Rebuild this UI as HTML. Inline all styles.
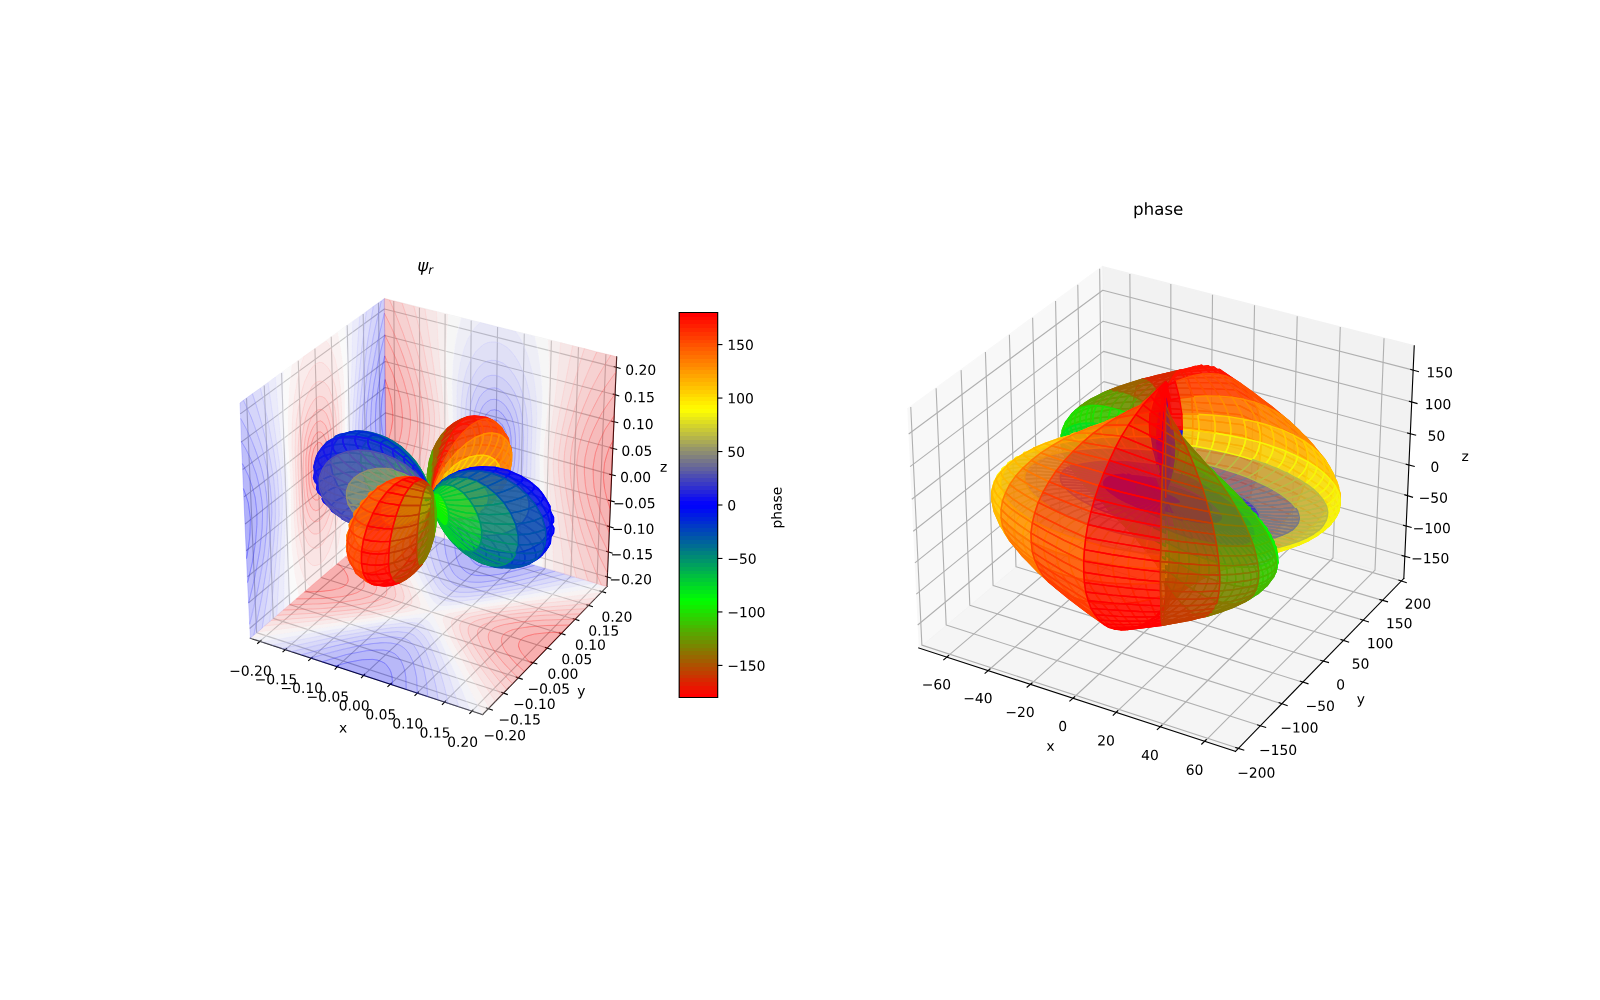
<!DOCTYPE html><html><head><meta charset="utf-8"><title>psi</title><style>html,body{margin:0;padding:0;background:#fff;overflow:hidden}svg{display:block;font-family:"Liberation Sans",sans-serif}</style></head><body><svg width="1600" height="1000" viewBox="0 0 4608 2880"><style>svg *{stroke-linejoin:round;stroke-linecap:butt}.c0{fill:#fff}.c1{fill:#f2f2f2;opacity:.5;stroke:#f2f2f2;stroke-linejoin:miter;stroke-width:4}.c2{fill:#e6e6e6;opacity:.5;stroke:#e6e6e6;stroke-linejoin:miter;stroke-width:4}.c3{fill:#ececec;opacity:.5;stroke:#ececec;stroke-linejoin:miter;stroke-width:4}.c4{fill:none;stroke:#b0b0b0;stroke-width:3.2}.c5{fill:none;stroke:#000;stroke-width:3.2;stroke-linecap:square}.c6{fill:#0e0eff;fill-opacity:.3;stroke:#0e0eff;stroke-opacity:.3;stroke-width:2}.c7{fill:#2a2aff;fill-opacity:.3;stroke:#2a2aff;stroke-opacity:.3;stroke-width:2}.c8{fill:#4646ff;fill-opacity:.3;stroke:#4646ff;stroke-opacity:.3;stroke-width:2}.c9{fill:#6262ff;fill-opacity:.3;stroke:#6262ff;stroke-opacity:.3;stroke-width:2}.c10{fill:#8080ff;fill-opacity:.3;stroke:#8080ff;stroke-opacity:.3;stroke-width:2}.c11{fill:#9c9cff;fill-opacity:.3;stroke:#9c9cff;stroke-opacity:.3;stroke-width:2}.c12{fill:#b8b8ff;fill-opacity:.3;stroke:#b8b8ff;stroke-opacity:.3;stroke-width:2}.c13{fill:#d4d4ff;fill-opacity:.3;stroke:#d4d4ff;stroke-opacity:.3;stroke-width:2}.c14{fill:#f0f0ff;fill-opacity:.3;stroke:#f0f0ff;stroke-opacity:.3;stroke-width:2}.c15{fill:#fff0f0;fill-opacity:.3;stroke:#fff0f0;stroke-opacity:.3;stroke-width:2}.c16{fill:#ffd4d4;fill-opacity:.3;stroke:#ffd4d4;stroke-opacity:.3;stroke-width:2}.c17{fill:#ffb8b8;fill-opacity:.3;stroke:#ffb8b8;stroke-opacity:.3;stroke-width:2}.c18{fill:#ff9c9c;fill-opacity:.3;stroke:#ff9c9c;stroke-opacity:.3;stroke-width:2}.c19{fill:#ff7e7e;fill-opacity:.3;stroke:#ff7e7e;stroke-opacity:.3;stroke-width:2}.c20{fill:#ff6262;fill-opacity:.3;stroke:#ff6262;stroke-opacity:.3;stroke-width:2}.c21{fill:#ff4646;fill-opacity:.3;stroke:#ff4646;stroke-opacity:.3;stroke-width:2}.c22{fill:#ff2a2a;fill-opacity:.3;stroke:#ff2a2a;stroke-opacity:.3;stroke-width:2}.c23{fill:#ff0e0e;fill-opacity:.3;stroke:#ff0e0e;stroke-opacity:.3;stroke-width:2}.c24{fill:#0c0cff;fill-opacity:.3;stroke:#0c0cff;stroke-opacity:.3;stroke-width:2}.c25{fill:#2424ff;fill-opacity:.3;stroke:#2424ff;stroke-opacity:.3;stroke-width:2}.c26{fill:#3c3cff;fill-opacity:.3;stroke:#3c3cff;stroke-opacity:.3;stroke-width:2}.c27{fill:#5454ff;fill-opacity:.3;stroke:#5454ff;stroke-opacity:.3;stroke-width:2}.c28{fill:#6c6cff;fill-opacity:.3;stroke:#6c6cff;stroke-opacity:.3;stroke-width:2}.c29{fill:#8686ff;fill-opacity:.3;stroke:#8686ff;stroke-opacity:.3;stroke-width:2}.c30{fill:#9e9eff;fill-opacity:.3;stroke:#9e9eff;stroke-opacity:.3;stroke-width:2}.c31{fill:#b6b6ff;fill-opacity:.3;stroke:#b6b6ff;stroke-opacity:.3;stroke-width:2}.c32{fill:#ceceff;fill-opacity:.3;stroke:#ceceff;stroke-opacity:.3;stroke-width:2}.c33{fill:#e6e6ff;fill-opacity:.3;stroke:#e6e6ff;stroke-opacity:.3;stroke-width:2}.c34{fill:#fffefe;fill-opacity:.3;stroke:#fffefe;stroke-opacity:.3;stroke-width:2}.c35{fill:#ffe6e6;fill-opacity:.3;stroke:#ffe6e6;stroke-opacity:.3;stroke-width:2}.c36{fill:#ffcece;fill-opacity:.3;stroke:#ffcece;stroke-opacity:.3;stroke-width:2}.c37{fill:#ffb6b6;fill-opacity:.3;stroke:#ffb6b6;stroke-opacity:.3;stroke-width:2}.c38{fill:#ff9e9e;fill-opacity:.3;stroke:#ff9e9e;stroke-opacity:.3;stroke-width:2}.c39{fill:#ff8686;fill-opacity:.3;stroke:#ff8686;stroke-opacity:.3;stroke-width:2}.c40{fill:#ff6c6c;fill-opacity:.3;stroke:#ff6c6c;stroke-opacity:.3;stroke-width:2}.c41{fill:#ff5454;fill-opacity:.3;stroke:#ff5454;stroke-opacity:.3;stroke-width:2}.c42{fill:#ff3c3c;fill-opacity:.3;stroke:#ff3c3c;stroke-opacity:.3;stroke-width:2}.c43{fill:#ff2424;fill-opacity:.3;stroke:#ff2424;stroke-opacity:.3;stroke-width:2}.c44{fill:#ff0c0c;fill-opacity:.3;stroke:#ff0c0c;stroke-opacity:.3;stroke-width:2}.c45{fill:#ff1400;fill-opacity:.7;stroke:#ff1400;stroke-width:4}.c46{fill:#d72800;fill-opacity:.7;stroke:#d72800;stroke-width:4}.c47{fill:#ff5000;fill-opacity:.7;stroke:#ff5000;stroke-width:4}.c48{fill:#9b6400;fill-opacity:.7;stroke:#9b6400;stroke-width:4}.c49{fill:#069;fill-opacity:.7;stroke:#069;stroke-width:4}.c50{fill:#002ad5;fill-opacity:.7;stroke:#002ad5;stroke-width:4}.c51{fill:#00a25d;fill-opacity:.7;stroke:#00a25d;stroke-width:4}.c52{fill:#ff8c00;fill-opacity:.7;stroke:#ff8c00;stroke-width:4}.c53{fill:#1616e9;fill-opacity:.7;stroke:#1616e9;stroke-width:4}.c54{fill:#5fa000;fill-opacity:.7;stroke:#5fa000;stroke-width:4}.c55{fill:#00e21d;fill-opacity:.7;stroke:#00e21d;stroke-width:4}.c56{fill:#fc0;fill-opacity:.7;stroke:#fc0;stroke-width:4}.c57{fill:#5252ad;fill-opacity:.7;stroke:#5252ad;stroke-width:4}.c58{fill:#1fe000;fill-opacity:.7;stroke:#1fe000;stroke-width:4}.c59{fill:#8e8e71;fill-opacity:.7;stroke:#8e8e71;stroke-width:4}.c60{fill:#7a7a85;fill-opacity:.7;stroke:#7a7a85;stroke-width:4}.c61{fill:#3e3ec1;fill-opacity:.7;stroke:#3e3ec1;stroke-width:4}.c62{fill:#f6f609;fill-opacity:.7;stroke:#f6f609;stroke-width:4}.c63{fill:#0202fd;fill-opacity:.7;stroke:#0202fd;stroke-width:4}.c64{fill:#baba45;fill-opacity:.7;stroke:#baba45;stroke-width:4}.c65{fill:#0016e9;fill-opacity:.7;stroke:#0016e9;stroke-width:4}.c66{fill:#0052ad;fill-opacity:.7;stroke:#0052ad;stroke-width:4}.c67{fill:#ff7800;fill-opacity:.7;stroke:#ff7800;stroke-width:4}.c68{fill:#ffb800;fill-opacity:.7;stroke:#ffb800;stroke-width:4}.c69{fill:#ff3c00;fill-opacity:.7;stroke:#ff3c00;stroke-width:4}.c70{fill:#008e71;fill-opacity:.7;stroke:#008e71;stroke-width:4}.c71{fill:#f00;fill-opacity:.7;stroke:#f00;stroke-width:4}.c72{fill:#cece31;fill-opacity:.7;stroke:#cece31;stroke-width:4}.c73{fill:#c33c00;fill-opacity:.7;stroke:#c33c00;stroke-width:4}.c74{fill:#fff400;fill-opacity:.7;stroke:#fff400;stroke-width:4}.c75{fill:#00ce31;fill-opacity:.7;stroke:#00ce31;stroke-width:4}.c76{fill:#877800;fill-opacity:.7;stroke:#877800;stroke-width:4}.c77{fill:#47b800;fill-opacity:.7;stroke:#47b800;stroke-width:4}.c78{fill:#0bf400;fill-opacity:.7;stroke:#0bf400;stroke-width:4}.c79{stroke:#000;stroke-width:3.2}.c80{fill:none;stroke:#000;stroke-width:3.2;stroke-linejoin:miter;stroke-linecap:square}</style><defs><path id="DejaVuSans-2212" d="M678 2272L4684 2272L4684 1741L678 1741L678 2272z" transform="scale(0.015625)"/><path id="DejaVuSans-30" d="M2034 4250Q1547 4250 1301 3770Q1056 3291 1056 2328Q1056 1369 1301 889Q1547 409 2034 409Q2525 409 2770 889Q3016 1369 3016 2328Q3016 3291 2770 3770Q2525 4250 2034 4250zM2034 4750Q2819 4750 3233 4129Q3647 3509 3647 2328Q3647 1150 3233 529Q2819 -91 2034 -91Q1250 -91 836 529Q422 1150 422 2328Q422 3509 836 4129Q1250 4750 2034 4750z" transform="scale(0.015625)"/><path id="DejaVuSans-2e" d="M684 794L1344 794L1344 0L684 0L684 794z" transform="scale(0.015625)"/><path id="DejaVuSans-32" d="M1228 531L3431 531L3431 0L469 0L469 531Q828 903 1448 1529Q2069 2156 2228 2338Q2531 2678 2651 2914Q2772 3150 2772 3378Q2772 3750 2511 3984Q2250 4219 1831 4219Q1534 4219 1204 4116Q875 4013 500 3803L500 4441Q881 4594 1212 4672Q1544 4750 1819 4750Q2544 4750 2975 4387Q3406 4025 3406 3419Q3406 3131 3298 2873Q3191 2616 2906 2266Q2828 2175 2409 1742Q1991 1309 1228 531z" transform="scale(0.015625)"/><path id="DejaVuSans-31" d="M794 531L1825 531L1825 4091L703 3866L703 4441L1819 4666L2450 4666L2450 531L3481 531L3481 0L794 0L794 531z" transform="scale(0.015625)"/><path id="DejaVuSans-35" d="M691 4666L3169 4666L3169 4134L1269 4134L1269 2991Q1406 3038 1543 3061Q1681 3084 1819 3084Q2600 3084 3056 2656Q3513 2228 3513 1497Q3513 744 3044 326Q2575 -91 1722 -91Q1428 -91 1123 -41Q819 9 494 109L494 744Q775 591 1075 516Q1375 441 1709 441Q2250 441 2565 725Q2881 1009 2881 1497Q2881 1984 2565 2268Q2250 2553 1709 2553Q1456 2553 1204 2497Q953 2441 691 2322L691 4666z" transform="scale(0.015625)"/><path id="DejaVuSans-78" d="M3513 3500L2247 1797L3578 0L2900 0L1881 1375L863 0L184 0L1544 1831L300 3500L978 3500L1906 2253L2834 3500L3513 3500z" transform="scale(0.015625)"/><path id="DejaVuSans-79" d="M2059 -325Q1816 -950 1584 -1140Q1353 -1331 966 -1331L506 -1331L506 -850L844 -850Q1081 -850 1212 -737Q1344 -625 1503 -206L1606 56L191 3500L800 3500L1894 763L2988 3500L3597 3500L2059 -325z" transform="scale(0.015625)"/><path id="DejaVuSans-7a" d="M353 3500L3084 3500L3084 2975L922 459L3084 459L3084 0L275 0L275 525L2438 3041L353 3041L353 3500z" transform="scale(0.015625)"/><path id="DejaVuSans-Oblique-3c8" d="M1591 -78Q891 38 616 341Q278 713 425 1472L819 3500L1400 3500L1009 1494Q900 922 1119 684Q1313 478 1691 434L2284 3500L2856 3500L2263 438Q2681 481 2928 688Q3247 950 3353 1497L3741 3500L4322 3500L3928 1475Q3775 688 3300 344Q2872 34 2163 -75L1919 -1331L1347 -1331L1591 -78z" transform="scale(0.015625)"/><path id="DejaVuSans-Oblique-72" d="M2853 2969Q2766 3016 2653 3041Q2541 3066 2413 3066Q1953 3066 1609 2717Q1266 2369 1153 1784L800 0L225 0L909 3500L1484 3500L1375 2956Q1603 3259 1920 3421Q2238 3584 2597 3584Q2691 3584 2781 3573Q2872 3563 2963 3538L2853 2969z" transform="scale(0.015625)"/><path id="mc19856956a" d="M0 0 L14 0" style="stroke:#000;stroke-width:3.2"/><path id="DejaVuSans-70" d="M1159 525L1159 -1331L581 -1331L581 3500L1159 3500L1159 2969Q1341 3281 1617 3432Q1894 3584 2278 3584Q2916 3584 3314 3078Q3713 2572 3713 1747Q3713 922 3314 415Q2916 -91 2278 -91Q1894 -91 1617 61Q1341 213 1159 525zM3116 1747Q3116 2381 2855 2742Q2594 3103 2138 3103Q1681 3103 1420 2742Q1159 2381 1159 1747Q1159 1113 1420 752Q1681 391 2138 391Q2594 391 2855 752Q3116 1113 3116 1747z" transform="scale(0.015625)"/><path id="DejaVuSans-68" d="M3513 2113L3513 0L2938 0L2938 2094Q2938 2591 2744 2837Q2550 3084 2163 3084Q1697 3084 1428 2787Q1159 2491 1159 1978L1159 0L581 0L581 4863L1159 4863L1159 2956Q1366 3272 1645 3428Q1925 3584 2291 3584Q2894 3584 3203 3211Q3513 2838 3513 2113z" transform="scale(0.015625)"/><path id="DejaVuSans-61" d="M2194 1759Q1497 1759 1228 1600Q959 1441 959 1056Q959 750 1161 570Q1363 391 1709 391Q2188 391 2477 730Q2766 1069 2766 1631L2766 1759L2194 1759zM3341 1997L3341 0L2766 0L2766 531Q2569 213 2275 61Q1981 -91 1556 -91Q1019 -91 701 211Q384 513 384 1019Q384 1609 779 1909Q1175 2209 1959 2209L2766 2209L2766 2266Q2766 2663 2505 2880Q2244 3097 1772 3097Q1472 3097 1187 3025Q903 2953 641 2809L641 3341Q956 3463 1253 3523Q1550 3584 1831 3584Q2591 3584 2966 3190Q3341 2797 3341 1997z" transform="scale(0.015625)"/><path id="DejaVuSans-73" d="M2834 3397L2834 2853Q2591 2978 2328 3040Q2066 3103 1784 3103Q1356 3103 1142 2972Q928 2841 928 2578Q928 2378 1081 2264Q1234 2150 1697 2047L1894 2003Q2506 1872 2764 1633Q3022 1394 3022 966Q3022 478 2636 193Q2250 -91 1575 -91Q1294 -91 989 -36Q684 19 347 128L347 722Q666 556 975 473Q1284 391 1588 391Q1994 391 2212 530Q2431 669 2431 922Q2431 1156 2273 1281Q2116 1406 1581 1522L1381 1569Q847 1681 609 1914Q372 2147 372 2553Q372 3047 722 3315Q1072 3584 1716 3584Q2034 3584 2315 3537Q2597 3491 2834 3397z" transform="scale(0.015625)"/><path id="DejaVuSans-65" d="M3597 1894L3597 1613L953 1613Q991 1019 1311 708Q1631 397 2203 397Q2534 397 2845 478Q3156 559 3463 722L3463 178Q3153 47 2828 -22Q2503 -91 2169 -91Q1331 -91 842 396Q353 884 353 1716Q353 2575 817 3079Q1281 3584 2069 3584Q2775 3584 3186 3129Q3597 2675 3597 1894zM3022 2063Q3016 2534 2758 2815Q2500 3097 2075 3097Q1594 3097 1305 2825Q1016 2553 972 2059L3022 2063z" transform="scale(0.015625)"/><path id="DejaVuSans-36" d="M2113 2584Q1688 2584 1439 2293Q1191 2003 1191 1497Q1191 994 1439 701Q1688 409 2113 409Q2538 409 2786 701Q3034 994 3034 1497Q3034 2003 2786 2293Q2538 2584 2113 2584zM3366 4563L3366 3988Q3128 4100 2886 4159Q2644 4219 2406 4219Q1781 4219 1451 3797Q1122 3375 1075 2522Q1259 2794 1537 2939Q1816 3084 2150 3084Q2853 3084 3261 2657Q3669 2231 3669 1497Q3669 778 3244 343Q2819 -91 2113 -91Q1303 -91 875 529Q447 1150 447 2328Q447 3434 972 4092Q1497 4750 2381 4750Q2619 4750 2861 4703Q3103 4656 3366 4563z" transform="scale(0.015625)"/><path id="DejaVuSans-34" d="M2419 4116L825 1625L2419 1625L2419 4116zM2253 4666L3047 4666L3047 1625L3713 1625L3713 1100L3047 1100L3047 0L2419 0L2419 1100L313 1100L313 1709L2253 4666z" transform="scale(0.015625)"/></defs><path class="c0" d="M0 2880l4608 0 0-2880-4608 0z"/>
<path class="c0" d="M576 2104l1299 0 0-1299-1299 0z"/>
<path class="c1" d="M721 1838l392-336-6-642-416 301"/>
<path class="c2" d="M1113 1502l635 187 28-661-669-168"/>
<path class="c3" d="M721 1838l669 220 358-369-635-187"/>
<path class="c4" d="M748 1847l392-338-6-642"/>
<path class="c4" d="M822 1871l388-341-2-644"/>
<path class="c4" d="M896 1896l384-345 2-647"/>
<path class="c4" d="M971 1920l381-348 5-649"/>
<path class="c4" d="M1047 1945l377-352 9-651"/>
<path class="c4" d="M1124 1971l372-356 14-654"/>
<path class="c4" d="M1201 1996l369-359 18-656"/>
<path class="c4" d="M1280 2022l364-363 22-659"/>
<path class="c4" d="M1359 2048l360-367 26-661"/>
<path class="c4" d="M710 1147l29 675 668 219"/>
<path class="c4" d="M761 1110l26 671 663 215"/>
<path class="c4" d="M811 1074l23 667 659 211"/>
<path class="c4" d="M859 1039l21 663 655 207"/>
<path class="c4" d="M907 1004l18 659 651 203"/>
<path class="c4" d="M954 970l15 655 647 200"/>
<path class="c4" d="M1000 937l13 651 643 196"/>
<path class="c4" d="M1046 904l10 647 639 192"/>
<path class="c4" d="M1090 872l8 643 635 189"/>
<path class="c4" d="M1749 1662l-636-187-394 335"/>
<path class="c4" d="M1752 1590l-640-185-396 331"/>
<path class="c4" d="M1755 1516l-643-182-399 327"/>
<path class="c4" d="M1758 1442l-647-180-402 324"/>
<path class="c4" d="M1761 1367l-651-178-404 320"/>
<path class="c4" d="M1765 1291l-656-175-406 315"/>
<path class="c4" d="M1768 1215l-659-174-410 311"/>
<path class="c4" d="M1771 1137l-663-171-413 307"/>
<path class="c4" d="M1774 1058l-667-168-415 302"/>
<path class="c5" d="M721 1838l669 220"/>
<path class="c5" d="M752 1844l-10 9"/>
<g transform="translate(660.01 1946.02) scale(0.4 -0.4)"><use href="#DejaVuSans-2212"/><use href="#DejaVuSans-30" transform="translate(83.79 0)"/><use href="#DejaVuSans-2e" transform="translate(147.41 0)"/><use href="#DejaVuSans-32" transform="translate(179.2 0)"/><use href="#DejaVuSans-30" transform="translate(242.82 0)"/></g>
<path class="c5" d="M825 1868l-10 9"/>
<g transform="translate(733.47 1970.65) scale(0.4 -0.4)"><use href="#DejaVuSans-2212"/><use href="#DejaVuSans-30" transform="translate(83.79 0)"/><use href="#DejaVuSans-2e" transform="translate(147.41 0)"/><use href="#DejaVuSans-31" transform="translate(179.2 0)"/><use href="#DejaVuSans-35" transform="translate(242.82 0)"/></g>
<path class="c5" d="M899 1893l-10 9"/>
<g transform="translate(807.74 1995.55) scale(0.4 -0.4)"><use href="#DejaVuSans-2212"/><use href="#DejaVuSans-30" transform="translate(83.79 0)"/><use href="#DejaVuSans-2e" transform="translate(147.41 0)"/><use href="#DejaVuSans-31" transform="translate(179.2 0)"/><use href="#DejaVuSans-30" transform="translate(242.82 0)"/></g>
<path class="c5" d="M974 1917l-9 10"/>
<g transform="translate(882.83 2020.72) scale(0.4 -0.4)"><use href="#DejaVuSans-2212"/><use href="#DejaVuSans-30" transform="translate(83.79 0)"/><use href="#DejaVuSans-2e" transform="translate(147.41 0)"/><use href="#DejaVuSans-30" transform="translate(179.2 0)"/><use href="#DejaVuSans-35" transform="translate(242.82 0)"/></g>
<path class="c5" d="M1050 1942l-9 10"/>
<g transform="translate(975.5 2046.17) scale(0.4 -0.4)"><use href="#DejaVuSans-30"/><use href="#DejaVuSans-2e" transform="translate(63.62 0)"/><use href="#DejaVuSans-30" transform="translate(95.41 0)"/><use href="#DejaVuSans-30" transform="translate(159.03 0)"/></g>
<path class="c5" d="M1127 1968l-10 9"/>
<g transform="translate(1052.26 2071.9) scale(0.4 -0.4)"><use href="#DejaVuSans-30"/><use href="#DejaVuSans-2e" transform="translate(63.62 0)"/><use href="#DejaVuSans-30" transform="translate(95.41 0)"/><use href="#DejaVuSans-35" transform="translate(159.03 0)"/></g>
<path class="c5" d="M1205 1993l-10 10"/>
<g transform="translate(1129.87 2097.92) scale(0.4 -0.4)"><use href="#DejaVuSans-30"/><use href="#DejaVuSans-2e" transform="translate(63.62 0)"/><use href="#DejaVuSans-31" transform="translate(95.41 0)"/><use href="#DejaVuSans-30" transform="translate(159.03 0)"/></g>
<path class="c5" d="M1283 2019l-9 10"/>
<g transform="translate(1208.36 2124.23) scale(0.4 -0.4)"><use href="#DejaVuSans-30"/><use href="#DejaVuSans-2e" transform="translate(63.62 0)"/><use href="#DejaVuSans-31" transform="translate(95.41 0)"/><use href="#DejaVuSans-35" transform="translate(159.03 0)"/></g>
<path class="c5" d="M1362 2045l-9 10"/>
<g transform="translate(1287.74 2150.84) scale(0.4 -0.4)"><use href="#DejaVuSans-30"/><use href="#DejaVuSans-2e" transform="translate(63.62 0)"/><use href="#DejaVuSans-32" transform="translate(95.41 0)"/><use href="#DejaVuSans-30" transform="translate(159.03 0)"/></g>
<g transform="translate(976.31 2109.66) scale(0.4 -0.4)"><use href="#DejaVuSans-78"/></g>
<path class="c5" d="M1748 1689l-358 369"/>
<path class="c5" d="M1401 2039l17 6"/>
<g transform="translate(1392.21 2131.8) scale(0.4 -0.4)"><use href="#DejaVuSans-2212"/><use href="#DejaVuSans-30" transform="translate(83.79 0)"/><use href="#DejaVuSans-2e" transform="translate(147.41 0)"/><use href="#DejaVuSans-32" transform="translate(179.2 0)"/><use href="#DejaVuSans-30" transform="translate(242.82 0)"/></g>
<path class="c5" d="M1445 1994l16 6"/>
<g transform="translate(1435.35 2086.27) scale(0.4 -0.4)"><use href="#DejaVuSans-2212"/><use href="#DejaVuSans-30" transform="translate(83.79 0)"/><use href="#DejaVuSans-2e" transform="translate(147.41 0)"/><use href="#DejaVuSans-31" transform="translate(179.2 0)"/><use href="#DejaVuSans-35" transform="translate(242.82 0)"/></g>
<path class="c5" d="M1487 1950l17 6"/>
<g transform="translate(1477.66 2041.6) scale(0.4 -0.4)"><use href="#DejaVuSans-2212"/><use href="#DejaVuSans-30" transform="translate(83.79 0)"/><use href="#DejaVuSans-2e" transform="translate(147.41 0)"/><use href="#DejaVuSans-31" transform="translate(179.2 0)"/><use href="#DejaVuSans-30" transform="translate(242.82 0)"/></g>
<path class="c5" d="M1529 1907l17 5"/>
<g transform="translate(1519.17 1997.79) scale(0.4 -0.4)"><use href="#DejaVuSans-2212"/><use href="#DejaVuSans-30" transform="translate(83.79 0)"/><use href="#DejaVuSans-2e" transform="translate(147.41 0)"/><use href="#DejaVuSans-30" transform="translate(179.2 0)"/><use href="#DejaVuSans-35" transform="translate(242.82 0)"/></g>
<path class="c5" d="M1571 1865l16 5"/>
<g transform="translate(1576.66 1954.79) scale(0.4 -0.4)"><use href="#DejaVuSans-30"/><use href="#DejaVuSans-2e" transform="translate(63.62 0)"/><use href="#DejaVuSans-30" transform="translate(95.41 0)"/><use href="#DejaVuSans-30" transform="translate(159.03 0)"/></g>
<path class="c5" d="M1611 1823l16 5"/>
<g transform="translate(1616.63 1912.6) scale(0.4 -0.4)"><use href="#DejaVuSans-30"/><use href="#DejaVuSans-2e" transform="translate(63.62 0)"/><use href="#DejaVuSans-30" transform="translate(95.41 0)"/><use href="#DejaVuSans-35" transform="translate(159.03 0)"/></g>
<path class="c5" d="M1651 1782l16 5"/>
<g transform="translate(1655.87 1871.18) scale(0.4 -0.4)"><use href="#DejaVuSans-30"/><use href="#DejaVuSans-2e" transform="translate(63.62 0)"/><use href="#DejaVuSans-31" transform="translate(95.41 0)"/><use href="#DejaVuSans-30" transform="translate(159.03 0)"/></g>
<path class="c5" d="M1690 1742l16 5"/>
<g transform="translate(1694.4 1830.52) scale(0.4 -0.4)"><use href="#DejaVuSans-30"/><use href="#DejaVuSans-2e" transform="translate(63.62 0)"/><use href="#DejaVuSans-31" transform="translate(95.41 0)"/><use href="#DejaVuSans-35" transform="translate(159.03 0)"/></g>
<path class="c5" d="M1728 1702l16 5"/>
<g transform="translate(1732.22 1790.59) scale(0.4 -0.4)"><use href="#DejaVuSans-30"/><use href="#DejaVuSans-2e" transform="translate(63.62 0)"/><use href="#DejaVuSans-32" transform="translate(95.41 0)"/><use href="#DejaVuSans-30" transform="translate(159.03 0)"/></g>
<g transform="translate(1662.28 2003.64) scale(0.4 -0.4)"><use href="#DejaVuSans-79"/></g>
<path class="c5" d="M1748 1689l28-661"/>
<path class="c5" d="M1744 1660l15 5"/>
<g transform="translate(1755.06 1682.69) scale(0.4 -0.4)"><use href="#DejaVuSans-2212"/><use href="#DejaVuSans-30" transform="translate(83.79 0)"/><use href="#DejaVuSans-2e" transform="translate(147.41 0)"/><use href="#DejaVuSans-32" transform="translate(179.2 0)"/><use href="#DejaVuSans-30" transform="translate(242.82 0)"/></g>
<path class="c5" d="M1747 1588l16 5"/>
<g transform="translate(1758.53 1610.48) scale(0.4 -0.4)"><use href="#DejaVuSans-2212"/><use href="#DejaVuSans-30" transform="translate(83.79 0)"/><use href="#DejaVuSans-2e" transform="translate(147.41 0)"/><use href="#DejaVuSans-31" transform="translate(179.2 0)"/><use href="#DejaVuSans-35" transform="translate(242.82 0)"/></g>
<path class="c5" d="M1750 1515l16 5"/>
<g transform="translate(1762.04 1537.39) scale(0.4 -0.4)"><use href="#DejaVuSans-2212"/><use href="#DejaVuSans-30" transform="translate(83.79 0)"/><use href="#DejaVuSans-2e" transform="translate(147.41 0)"/><use href="#DejaVuSans-31" transform="translate(179.2 0)"/><use href="#DejaVuSans-30" transform="translate(242.82 0)"/></g>
<path class="c5" d="M1753 1441l16 4"/>
<g transform="translate(1765.59 1463.41) scale(0.4 -0.4)"><use href="#DejaVuSans-2212"/><use href="#DejaVuSans-30" transform="translate(83.79 0)"/><use href="#DejaVuSans-2e" transform="translate(147.41 0)"/><use href="#DejaVuSans-30" transform="translate(179.2 0)"/><use href="#DejaVuSans-35" transform="translate(242.82 0)"/></g>
<path class="c5" d="M1756 1366l16 4"/>
<g transform="translate(1785.95 1388.52) scale(0.4 -0.4)"><use href="#DejaVuSans-30"/><use href="#DejaVuSans-2e" transform="translate(63.62 0)"/><use href="#DejaVuSans-30" transform="translate(95.41 0)"/><use href="#DejaVuSans-30" transform="translate(159.03 0)"/></g>
<path class="c5" d="M1759 1290l17 4"/>
<g transform="translate(1789.59 1312.7) scale(0.4 -0.4)"><use href="#DejaVuSans-30"/><use href="#DejaVuSans-2e" transform="translate(63.62 0)"/><use href="#DejaVuSans-30" transform="translate(95.41 0)"/><use href="#DejaVuSans-35" transform="translate(159.03 0)"/></g>
<path class="c5" d="M1762 1213l17 4"/>
<g transform="translate(1793.28 1235.93) scale(0.4 -0.4)"><use href="#DejaVuSans-30"/><use href="#DejaVuSans-2e" transform="translate(63.62 0)"/><use href="#DejaVuSans-31" transform="translate(95.41 0)"/><use href="#DejaVuSans-30" transform="translate(159.03 0)"/></g>
<path class="c5" d="M1766 1135l16 5"/>
<g transform="translate(1797.01 1158.2) scale(0.4 -0.4)"><use href="#DejaVuSans-30"/><use href="#DejaVuSans-2e" transform="translate(63.62 0)"/><use href="#DejaVuSans-31" transform="translate(95.41 0)"/><use href="#DejaVuSans-35" transform="translate(159.03 0)"/></g>
<path class="c5" d="M1769 1056l17 5"/>
<g transform="translate(1800.79 1079.49) scale(0.4 -0.4)"><use href="#DejaVuSans-30"/><use href="#DejaVuSans-2e" transform="translate(63.62 0)"/><use href="#DejaVuSans-32" transform="translate(95.41 0)"/><use href="#DejaVuSans-30" transform="translate(159.03 0)"/></g>
<g transform="translate(1900.75 1358.34) scale(0.4 -0.4)"><use href="#DejaVuSans-7a"/></g>
<path class="c6" d="M974 1921l157 52-2-25-3-12-4-9-9-12-5-5-10-5-11-4-13-2-31 1-38 7-40 11zm396 -297l9 5 11 3 26 2 33-4 28-6 26-7-158-47 2 15 4 16 5 9 8 9z"/>
<path class="c7" d="M929 1907l36 11 40-11 38-7 31-1 13 2 11 4 10 5 5 5 9 12 4 9 3 12 2 25 39 13-1-35-3-19-5-15-6-14-10-13-8-7-10-5-11-4-13-2-19 0-28 2-58 11-71 21zm407 -265l8 6 9 5 11 3 12 2 29 0 33-4 24-5 32-8 46-13-37-11-37 10-33 6-21 1-22-2-11-3-9-5-8-6-6-8-5-9-3-10-3-21-36-11 2 28 4 21 8 19 11 13z"/>
<path class="c8" d="M896 1896l31 10 71-21 58-11 28-2 19 0 13 2 11 4 10 5 8 7 10 13 6 14 5 15 3 19 1 35 32 11-2-45-5-24-6-23-9-19-6-9-7-8-9-7-9-5-21-5-17-1-16 0-34 4-37 7-40 9-89 24zm437 -225l21 5 16 1 15 0 32-4 35-6 38-8 81-22-31-9-50 14-52 12-24 3-24 1-26-2-11-3-9-5-10-8-11-13-6-14-4-15-4-23 0-16-30-8 2 22 3 23 10 32 9 18 6 8 7 7 10 7z"/>
<path class="c9" d="M874 1888l21 7 56-16 44-11 48-10 36-5 32-2 14 1 13 2 11 3 9 5 9 7 7 8 6 9 9 19 6 23 5 24 2 45 30 10-3-37-5-27-5-23-8-24-8-19-11-18-7-7-8-7-10-5-11-3-27-3-32 2-33 4-39 7-57 12-101 27zm425 -212l8 6 9 5 11 3 26 3 31-2 47-6 46-9 56-13 66-18-28-8-64 18-72 16-50 6-29 0-12-2-18-7-10-7-7-7-11-17-8-19-5-20-4-25-2-22-27-8 6 45 11 37 12 28 5 9 10 12z"/>
<path class="c10" d="M841 1877l26 9 71-19 61-14 48-10 50-7 32-2 14 1 13 2 11 3 10 5 8 7 7 7 11 18 8 19 8 24 5 23 5 27 3 37 30 9-6-37-9-37-8-29-11-31-9-20-12-17-14-15-10-5-11-3-27-3-32 2-35 5-55 9-64 13-120 29zm451 -181l9 5 11 3 12 2 29 0 33-3 54-8 61-12 126-30-28-8-93 24-89 18-49 6-29-1-12-2-11-3-9-5-8-6-13-14-13-25-9-25-7-32-5-37-26-8 11 54 15 49 9 20 10 17 6 8 13 12z"/>
<path class="c11" d="M819 1870l20 7 74-19 62-13 64-13 57-9 49-4 27 3 11 3 10 5 14 15 12 17 9 20 11 31 8 29 9 37 6 37 29 10-11-48-11-38-13-38-12-29-11-24-12-18-14-14-9-6-11-3-28-2-32 2-35 5-124 21-157 34zm459 -161l9 5 11 4 13 1 29 0 33-3 57-9 64-11 75-15 86-19-28-9-111 27-96 18-67 8-29 0-12-2-11-3-9-5-8-6-13-15-14-26-13-36-11-40-7-38-26-8 14 55 20 58 19 39 11 16 9 10z"/>
<path class="c12" d="M786 1859l25 9 93-21 80-16 84-15 59-8 32-2 15 0 13 2 11 3 9 6 14 14 12 18 11 24 12 29 13 38 11 38 11 48 31 10-29-88-19-49-14-33-15-29-11-18-13-15-9-6-11-3-13-2-15 0-68 8-143 23-179 34zm479 -137l8 5 11 3 13 2 31-1 33-4 139-22 184-35-29-8-131 28-110 20-74 9-29 0-13-1-11-4-9-5-8-6-12-16-10-17-14-30-12-34-13-40-9-39-27-8 21 64 23 59 24 48 10 17 8 9z"/>
<path class="c13" d="M753 1849l30 9 179-34 143-23 68-8 15 0 13 2 11 3 9 6 13 15 11 18 15 29 14 33 19 49 29 88 32 11-41-101-45-99-16-31-11-17-6-8-9-6-11-4-14-1-66 7-177 27-205 35zm506 -109l11 4 14 0 66-6 155-24 209-35-30-9-153 30-130 21-73 10-31 1-13-2-11-3-8-5-8-7-11-16-10-18-15-30-18-43-15-41-15-48-29-8 38 91 37 79 20 37 12 16 7 5z"/>
<path class="c14" d="M731 1841l22 8 205-35 177-27 66-7 14 1 11 4 9 6 6 8 11 17 16 31 45 99 41 101 36 11-145-291-11-3 514-75-34-10-176 30-150 23-88 11-30 1-11-4-8-6-12-16-10-17-39-82-46-108-31-9 128 256-7 6-513 74z"/>
<path class="c15" d="M739 1835l495-71 7-6-128-256-18 15 61 107 42 81 7 18 5 17-2 8-6 6-12 4-14 3-88 15-156 21-190 23-21 18zm645 213l6 10 19-20-57-98-52-98-15-30-7-19-2-8 2-8 6-6 11-4 63-12 157-22 216-26 17-18-514 75 11 3 139 281z"/>
<path class="c16" d="M742 1820l190-23 156-21 88-15 14-3 12-4 6-6 2-8-5-17-7-18-42-81-61-107-17 15 31 46 25 40 24 42 16 30 7 18 5 17 0 8-2 7-7 6-10 5-28 7-73 12-137 16-167 17-20 17zm667 218l18-18-56-84-47-79-14-29-7-19-2-9-1-8 3-7 6-6 10-5 13-4 64-12 141-18 178-17 16-16-216 26-157 22-63 12-11 4-6 6-2 8 2 8 7 19 15 30 52 98 57 98z"/>
<path class="c17" d="M767 1802l162-16 137-16 73-12 28-7 10-5 7-6 2-7 0-8-5-17-7-18-16-30-24-42-25-40-31-46-16 14 28 36 26 39 21 33 16 29 7 18 4 17-1 8-3 6-7 6-9 5-27 8-73 12-118 13-146 11-18 16zm660 218l17-17-34-45-26-36-24-36-16-28-12-23-7-19-1-8 0-8 3-7 6-6 10-5 12-5 29-6 34-6 124-14 159-13 14-15-178 17-141 18-64 12-13 4-10 5-6 6-3 7 1 8 2 9 7 19 11 23 44 75 60 91z"/>
<path class="c18" d="M794 1786l132-10 125-14 66-11 27-8 9-5 7-6 3-6 1-8-4-17-7-18-16-29-21-33-26-39-28-36-16 14 29 35 28 38 22 34 12 27 3 17-1 7-4 7-6 6-9 5-26 8-32 6-35 5-103 10-126 7-18 15zm650 217l16-17-29-34-27-34-19-27-19-29-10-20-7-18-1-9 1-8 3-7 7-6 9-5 11-4 29-7 51-8 70-7 80-6 77-4 15-15-159 13-124 14-34 6-29 6-12 5-10 5-6 6-3 7 0 8 1 8 7 19 10 19 18 32 24 36 54 73z"/>
<path class="c19" d="M801 1772l123-7 103-10 35-5 32-6 26-8 9-5 6-6 4-7 1-7-3-17-7-18-16-27-16-24-23-30-29-35-16 13 31 34 23 30 16 24 12 25 2 17-1 7-4 7-7 5-9 5-25 8-49 9-96 9-108 4-17 15zm659 214l16-17-30-32-21-25-16-20-16-23-10-18-7-19-1-8 1-8 4-7 6-6 9-5 11-5 29-7 48-7 49-5 63-4 77-2 14-15-125 7-64 6-55 7-34 5-29 7-11 4-9 5-7 6-3 7-1 8 1 9 7 18 10 20 19 29 19 27 27 34 27 32z"/>
<path class="c20" d="M830 1757l109-5 49-5 48-6 46-9 11-5 9-5 7-5 4-7 1-7 0-8-2-9-8-18-15-23-16-23-18-22-25-27-17 14 20 20 20 23 14 20 11 18 6 18 1 7-3 9-3 5-6 6-9 5-26 8-50 8-80 6-75 2-18 15zm638 204l8 8 16-17-23-23-24-26-17-22-13-20-8-19-1-9 2-9 3-5 6-6 9-6 25-8 50-8 80-6 76-2 15-15-108 4-95 9-49 9-25 8-9 5-6 6-4 7-1 8 1 8 7 19 16 27 19 26 28 33 22 24z"/>
<path class="c21" d="M834 1742l90-3 64-5 50-8 26-8 9-5 6-6 3-5 3-9-1-7-6-18-11-18-14-20-20-23-20-20-18 16 14 14 19 20 10 15 8 14 3 14-1 10-4 6-7 6-9 5-11 4-24 6-24 3-57 4-60 1-19 17zm658 210l18-18-31-30-14-17-11-14-7-14-3-14 1-8 3-7 6-6 9-5 15-6 26-5 58-6 78-2 17-17-95 3-42 3-37 4-32 6-14 4-13 5-7 5-6 6-4 7-1 7 1 9 3 9 11 20 15 21 18 22 38 38z"/>
<path class="c22" d="M858 1725l71-1 58-6 26-6 15-5 9-5 7-6 4-6 1-8-2-13-6-12-8-13-12-15-26-26-22 19 18 19 6 10 4 9 2 8-1 8-4 6-6 6-18 8-20 4-36 4-42 1-24 20zm652 209l21-22-21-21-8-11-5-9-4-13 1-5 3-7 6-7 9-5 12-4 15-4 38-4 43-1 20-21-60 1-58 4-24 4-23 5-12 5-9 5-6 6-3 7-1 11 5 15 9 16 13 16 15 17 21 19z"/>
<path class="c23" d="M890 1705l31-1 34-4 27-7 10-5 6-6 4-6 1-6-2-11-4-8-6-10-18-19-97 83zm633 200l8 7 89-91-43 1-37 4-20 5-8 3-9 5-6 7-3 7-1 8 3 9 6 10 18 22z"/>
<path class="c24" d="M1422 1309l11 3 6-5 6-10 1-21-1-12-5-12-6-8-11-3-5 5-6 9-2 11 1 22 6 13z"/>
<path class="c25" d="M1422 1339l11 4 11-4 6-7 5-10 3-10 3-32-2-23-2-12-6-13-5-9-4-4-7-7-11-3-11 5-6 6-6 10-2 10-3 22 2 34 2 11 6 13 5 9 4 4zm-5 -38l-6-13-1-22 2-11 6-9 5-5 11 3 6 8 5 12 1 12-1 21-6 10-6 5-11-3z"/>
<path class="c26" d="M1421 1368l11 3 11-2 12-8 9-14 3-10 5-32 0-45-4-27-11-27-11-15-10-8-12-3-11 2-11 9-9 15-4 10-5 32 1 44 4 27 11 27 11 14 10 8zm-6 -35l-4-4-5-9-6-13-2-11-2-34 3-22 2-10 6-10 6-6 11-5 11 3 7 7 4 4 5 9 6 13 2 12 2 23-3 32-3 10-5 10-6 7-11 4-11-4z"/>
<path class="c27" d="M1410 1390l11 7 11 3 11-1 11-5 11-11 7-12 5-13 4-17 2-22 2-44-1-23-3-23-6-24-6-15-11-18-6-7-5-5-11-7-11-3-12 1-5 3-6 3-11 12-6 12-7 20-4 22-1 21 0 45 2 22 4 23 8 24 12 21 6 6zm11 -22l-10-8-11-14-11-27-4-27-1-44 5-32 4-10 9-15 11-9 11-2 12 3 10 8 11 15 11 27 4 27 0 45-5 32-3 10-9 14-12 8-11 2-11-3z"/>
<path class="c28" d="M1410 1422l11 6 10 3 11 0 11-4 12-8 11-14 5-10 7-19 4-21 3-33 1-55-1-34-4-24-6-24-11-25-9-14-7-9-6-6-5-4-11-7-11-3-11 1-11 4-12 9-11 15-8 20-6 21-4 33-1 32 1 44 3 34 5 23 8 24 10 21 11 14 6 5zm-5 -37l-6-6-12-21-8-24-4-23-2-22 0-45 1-21 4-22 7-20 6-12 11-12 6-3 5-3 12-1 11 3 11 7 5 5 6 7 11 18 6 15 6 24 3 23 1 23-2 44-2 22-4 17-5 13-7 12-11 11-11 5-11 1-11-3-11-7z"/>
<path class="c29" d="M1409 1457l11 6 11 3 11 0 11-3 12-7 10-10 5-7 10-19 8-23 5-28 3-33 2-77-2-34-2-23-8-37-10-25-5-11-11-17-11-13-11-9-11-6-11-3-12 0-11 3-11 7-11 12-6 8-10 20-9 31-4 33-2 43 0 66 5 45 8 35 9 24 5 10 11 17 11 13zm-4 -40l-6-5-11-14-10-21-8-24-5-23-3-34-1-44 1-32 4-33 6-21 8-20 11-15 12-9 11-4 11-1 11 3 11 7 5 4 6 6 7 9 9 14 11 25 6 24 4 24 1 34-1 55-3 33-4 21-7 19-5 10-11 14-12 8-11 4-11 0-10-3-11-6z"/>
<path class="c30" d="M1409 1497l10 6 11 3 11 1 11-3 11-5 11-8 14-17 9-17 5-12 8-30 5-32 2-32 3-111-2-35-4-31-9-40-12-32-11-20-11-15-11-12-11-9-12-5-11-3-11 0-11 2-12 6-11 10-7 9-12 20-12 31-6 32-4 43-1 110 2 44 4 31 9 38 12 29 11 20 10 14 14 15zm-10 -49l-11-13-11-17-5-10-9-24-8-35-5-45 0-66 2-43 4-33 9-31 10-20 6-8 11-12 11-7 11-3 12 0 11 3 11 6 11 9 11 13 11 17 5 11 10 25 8 37 2 23 2 34-2 77-3 33-5 28-8 23-10 19-5 7-10 10-12 7-11 3-11 0-11-3-11-6z"/>
<path class="c31" d="M1419 1551l11 3 10 1 11-1 11-4 11-7 11-11 12-16 11-23 11-33 6-31 4-42 4-178-3-46-6-36-7-29-7-21-15-33-11-18-11-14-11-11-11-7-12-6-11-3-11 0-12 2-11 5-11 9-12 12-15 25-12 31-8 31-5 44-2 33-1 154 3 44 5 33 12 47 8 21 10 21 11 17 11 14 10 10 15 10zm-18 -59l-14-15-10-14-11-20-12-29-9-38-4-31-2-44 1-110 4-43 6-32 12-31 12-20 7-9 11-10 12-6 11-2 11 0 11 3 12 5 11 9 11 12 11 15 11 20 12 32 9 40 4 31 2 35-3 111-2 32-5 32-8 30-5 12-9 17-14 17-11 8-11 5-11 3-11-1-11-3-10-6z"/>
<path class="c32" d="M1375 1579l97 29 11-10 11-12 13-21 10-22 6-16 10-41 6-42 2-43 0-88 5-112-2-57-4-36-4-24-13-49-5-17-11-26-11-21-11-16-102-26-12 11-6 8-17 27-11 28-11 42-8 51-2 44 1 111-3 87 2 54 7 52 10 45 14 40 7 15 12 22zm37 -31l-15-10-10-10-11-14-11-17-10-21-8-21-12-47-5-33-3-44 1-154 2-33 5-44 8-31 12-31 15-25 12-12 11-9 11-5 12-2 11 0 11 3 12 6 11 7 11 11 11 14 11 18 15 33 7 21 7 29 6 36 3 46-4 178-4 42-6 31-11 33-11 23-12 16-11 11-11 7-11 4-11 1-10-1-11-3z"/>
<path class="c33" d="M1322 1558l2 6 52 15-11-15-11-20-12-27-13-47-9-45-4-33-1-43 2-109-1-89 1-44 4-33 5-32 9-32 12-32 11-20 13-18 12-11-55-13-6 21-8 33-5 33-4 33-3 67 3 134-4 119 0 53 3 44 4 33 5 33 8 33zm150 50l52 15 10-29 8-30 5-30 4-32 4-64-1-133 7-111 1-57-2-47-6-47-6-37-8-37-56-14 12 16 12 25 11 26 11 38 8 36 5 36 2 35 1 46-4 89-1 110-4 43-4 31-10 41-6 16-10 22-13 21-11 12-11 10z"/>
<path class="c34" d="M1290 1554l34 10-8-34-7-33-4-33-4-44 0-64 4-119-3-134 2-56 5-44 8-44 11-43-38-10-3 45-3 57 1 57 8 169-1 43-7 96-2 52 1 64 4 64zm236 70l36 10 5-51 3-43 1-54-5-166 2-45 10-99 3-57 1-69-3-71-39-10 11 49 6 49 4 47 1 57-8 134 1 122-3 65-5 42-5 30-8 30-10 29z"/>
<path class="c35" d="M1259 1545l29 8-4-64-1-64 2-52 7-96 1-43-8-147-1-68 2-56 4-57-33-8 6 116 14 160 3 56-2 54-15 146-7 114zm311 92l25 7-4-119-11-157 0-56 4-55 20-155 11-115-36-8 3 59 0 58-3 68-11 111-2 33 0 45 4 100 1 55-3 64-6 62z"/>
<path class="c36" d="M1227 1535l29 9 7-114 16-167 1-33-1-33-15-172-7-127-33-8 35 244 6 48 2 45-2 43-6 52-34 213zm376 111l24 8-19-157-11-91-4-57 1-44 5-44 7-44 43-221-34-9-12 126-22 177-2 33 1 34 11 168 4 119z"/>
<path class="c37" d="M1196 1526l29 9 34-211 5-44 3-32-1-44-5-56-12-93-25-165-32-8 24 100 24 127 7 46 4 34 1 55-5 53-11 62-19 86-22 81zm440 130l24 7-21-95-21-123-6-46-3-34-1-34 1-22 7-55 14-65 25-94 28-91-34-8-41 210-8 44-5 44-2 44 3 57 12 102 19 157z"/>
<path class="c38" d="M1165 1517l30 9 22-81 19-86 11-62 5-53-1-55-4-34-7-46-24-127-24-100-34-9 17 50 19 63 13 47 14 60 9 46 4 35 3 34 0 32-6 53-5 31-10 40-24 77-17 46-12 29zm494 140l1 6 34 10-15-47-17-60-14-58-12-58-7-46-4-35-1-34 2-33 5-32 7-33 21-74 19-53 12-32 29-64-36-10-28 91-20 73-17 75-8 55-1 22-1 34 3 34 4 34 18 115 24 115z"/>
<path class="c39" d="M1134 1508l29 8 19-46 24-72 15-54 10-51 6-53 0-32-3-34-4-35-9-46-14-60-13-47-19-63-17-50-36-9 17 40 22 56 22 64 15 52 11 47 7 38 4 42 1 33-3 32-6 30-7 31-12 39-14 38-14 32-21 40-16 28zm558 159l2 6 38 12-27-65-16-45-15-46-16-62-9-47-5-34-2-46 2-33 5-32 8-33 10-31 15-42 18-42 13-26 26-46 20-32-40-9-3 5-16 37-18 43-26 74-18 64-7 33-5 32-2 33 1 34 4 35 5 34 9 47 16 70 13 47 18 60z"/>
<path class="c40" d="M1124 1505l4 1 26-47 21-44 21-55 12-41 8-41 4-32 1-32-2-33-5-35-9-42-11-42-14-47-19-55-22-56-17-40-15-4 0 42 22 45 22 51 17 47 12 37 10 36 7 35 4 34 2 33-1 21-5 32-12 49-11 30-20 45-21 36-20 30 0 39zm612 181l12 3 1-39-21-44-21-50-16-46-11-36-9-36-6-35-3-35-1-34 2-22 6-32 6-21 10-31 18-42 20-39 26-41 25-35 2-43-17-5-33 54-26 50-22 52-16 46-13 50-6 43-1 34 3 42 6 38 10 47 13 50 21 63 20 54 17 39z"/>
<path class="c41" d="M1115 1461l18-28 21-36 16-36 11-28 9-30 7-30 5-32 1-32-3-33-5-35-8-35-11-36-14-43-17-44-16-36-22-45 1 62 18 37 15 34 21 60 14 52 5 34 1 23 0 21-4 32-4 20-9 30-11 28-11 22-14 24-17 25 1 57zm634 189l3-59-17-36-15-33-10-29-12-37-8-35-4-24-3-34 0-23 2-22 7-32 6-21 10-25 13-27 12-23 18-27 20-28 3-64-25 35-19 28-19 36-17 36-12 32-10 31-7 33-4 32 1 34 3 35 6 35 9 36 11 36 16 46 21 50 19 40z"/>
<path class="c42" d="M1118 1399l25-42 11-22 11-28 9-30 4-20 4-32 0-21-1-23-5-34-14-52-21-60-15-34-18-37 0 61 22 48 15 44 9 35 3 23 2 22-1 32-3 21-5 20-7 21-11 23-20 36 0 56zm634 192l2-58-21-49-10-30-7-26-5-24-2-23-1-34 3-22 4-21 11-32 17-36 26-39 2-62-20 28-18 27-12 23-13 27-10 25-6 21-7 32-2 22 0 23 3 34 4 24 8 35 12 37 10 29 27 58z"/>
<path class="c43" d="M1115 1345l20-36 8-19 7-20 5-20 3-21 1-32-2-22-3-23-9-35-15-44-22-48 1 68 10 28 6 23 4 23 2 23 0 21-5 31-6 20-9 22 1 66zm639 188l3-68-9-28-6-24-4-35 1-23 2-21 6-22 7-21 12-23 3-71-26 39-17 36-11 32-4 21-3 22 1 34 2 23 5 24 15 49 21 50z"/>
<path class="c44" d="M1112 1281l9-22 7-27 3-21 0-21-2-23-4-23-6-23-10-28 2 191zm645 184l9-197-12 23-7 21-6 22-2 21-1 23 2 23 7 32 9 29z"/>
<path class="c24" d="M711 1605l5-32 4-34 1-48-3-22-3-21-6-19-8-22 9 202zm400 -321l-2-191-9 54-3 47 3 42 5 25 5 20z"/>
<path class="c25" d="M715 1671l13-56 8-54 4-50 0-35-5-43-8-30-12-34-17-34 3 72 8 22 6 19 3 21 3 22 0 24-2 37-9 57 3 69zm397 -321l-1-66-6-20-4-19-3-30-1-21 3-47 9-54-1-68-12 52-8 47-5 37-2 46 1 32 6 39 9 36 13 32z"/>
<path class="c26" d="M719 1725l16-67 13-72 7-63 1-37 0-23-2-22-5-32-11-44-17-46-12-24-14-24 3 64 17 34 12 34 8 30 5 43 0 35-4 50-10 62-13 55 3 59zm393 -319l0-56-13-31-11-41-6-39-1-32 2-46 5-37 8-47 12-52 0-61-19 77-12 64-7 55-3 58 3 53 9 47 14 46 16 36z"/>
<path class="c27" d="M720 1793l24-102 16-91 9-77 1-36 0-34-3-34-5-31-7-31-8-29-12-34-13-32-12-26-17-31 2 66 14 24 12 24 17 46 11 44 5 32 2 22 0 23-1 37-7 63-13 72-19 79 3 61zm393 -330l-1-57-19-42-14-46-9-47-3-53 3-58 7-55 12-64 19-77-1-62-21 88-18 93-10 75-3 36-1 34 2 32 3 31 11 56 17 59 13 32 12 23z"/>
<path class="c28" d="M728 1832l3-3 16-73 12-64 12-76 6-53 4-50 2-36-1-34-4-44-7-42-12-51-12-39-23-65-23-49-10 8 2 44 17 31 17 37 13 36 13 39 11 50 6 55-1 58-7 75-8 53-10 52-12 56-13 51 2 40zm379 -325l6-5 0-39-13-25-9-23-10-29-9-30-12-56-4-30-1-31 0-34 2-35 9-74 16-89 25-105 0-42-9 7-23 103-18 108-11 89-2 36-1 33 1 33 3 31 6 39 8 37 9 35 11 38 14 36 10 24z"/>
<path class="c29" d="M735 1826l20-17 13-79 11-83 10-94 4-61 0-58-5-55-11-62-19-82-20-69-11-32-26 19 14 29 17 42 15 43 12 38 8 36 8 37 4 32 3 33 1 34-2 36-4 50-6 53-18 109-22 104zm347 -304l2 5 21-18-17-41-10-31-10-32-11-48-7-38-4-29-2-43 0-33 5-71 11-88 15-85 23-103-23 16-1 7-16 98-12 89-8 74-5 71 0 33 2 32 7 61 7 38 11 55 21 78z"/>
<path class="c30" d="M756 1807l21-17 0-6 11-97 11-119 5-84-1-58-4-55-10-67-19-99-20-87-23 16 25 80 21 85 14 70 4 32 2 33 1 35-1 35-7 86-12 100-19 119zm308 -268l1 4 19-16-22-78-18-92-9-70-2-32 0-33 5-71 8-74 14-102 15-92-20 15-13 105-8 83-7 85-3 58 1 55 6 62 14 97 18 91z"/>
<path class="c31" d="M778 1789l19-17 14-248 2-59 0-46-3-45-6-45-32-227-22 16 20 87 19 99 10 67 4 55 1 58-5 84-11 119-11 103zm273 -234l14-12-15-75-17-102-7-71-2-54 2-58 6-72 10-108 13-105-19 14-18 252-3 95 2 43 5 51 24 206z"/>
<path class="c32" d="M799 1771l18-16 1-123 4-163 0-57-4-56-16-154-9-116-21 16 32 227 6 45 3 45 0 46-2 59-14 248zm233 -200l14-12-25-216-5-52-1-44 4-93 17-242-20 14-2 118-6 164-1 57 2 54 12 144 7 112z"/>
<path class="c33" d="M820 1753l18-16-5-62-2-65-1-205-13-190-2-71 1-74-23 16 9 116 16 154 4 56 0 57-4 163-1 123zm193 -165l15-13-7-112-12-144-2-54 1-57 6-164 2-118-21 15 6 112 0 69-2 149 10 191 1 64-2 66z"/>
<path class="c34" d="M840 1735l22-18-7-27-5-29-8-72-3-65-1-125-8-135 0-59 1-49 4-51 6-53-25 18-1 62 1 59 3 69 11 145 1 205 2 65 5 62zm147 -125l21-18 1-22 1-54-1-64-10-181 2-149 0-69-6-112-23 17 8 41 6 43 3 43 3 56 0 136 5 118 0 66-3 79-8 71z"/>
<path class="c35" d="M861 1712l1 5 33-28-7-7-8-10-8-19-11-35-7-39-3-31-3-43-3-112-4-90 1-83 2-38 4-39 7-40 6-29 8-28 6-19-34 25-7 66-4 75 0 71 8 135 1 125 2 55 8 72 11 57zm93 -74l32-27 8-71 3-46 1-55-6-162 0-136-3-56-3-43-6-43-8-41-33 24 7 8 8 16 8 18 8 29 5 31 5 32 4 77 1 90 3 109-2 78-4 47-8 50-7 31-13 40z"/>
<path class="c36" d="M895 1689l59-52 13-39 7-31 8-50 4-47 2-45 0-44-3-87-1-112-4-66-6-42-9-40-12-31-7-13-7-8-64 45-10 32-9 39-8 45-5 52-2 49 0 47 5 113 2 90 3 54 6 48 8 37 10 29 5 10 9 11zm21 -62l-9 2-7-1-7-5-7-8-8-14-6-14-9-38-4-30-4-42-5-181 1-48 3-38 6-39 9-43 8-28 14-30 7-10 7-8 7-5 7-3 7 0 7 3 7 7 8 10 7 15 11 36 6 41 4 43 4 166-1 45-2 40-5 43-7 35-6 25-12 35-13 23-7 8-7 6z"/>
<path class="c37" d="M920 1625l7-6 7-8 13-23 12-35 6-25 7-35 5-43 2-40 1-45-4-166-4-43-6-41-11-36-7-15-8-10-7-7-7-3-7 0-7 3-7 5-7 8-7 10-14 30-8 28-9 43-6 39-3 38-1 48 5 181 4 42 4 30 9 38 6 14 8 14 7 8 7 5 7 1 9-2zm-12 -46l-10-3-7-5-7-11-8-21-8-31-3-27-3-44-4-101 1-47 2-36 5-39 7-35 6-23 7-18 7-14 6-11 7-8 7-5 7-2 7 0 8 4 7 8 5 7 9 25 8 32 4 31 2 33 2 144-2 35-4 36-7 39-7 28-7 18-13 24-6 8-7 6-7 3z"/>
<path class="c38" d="M912 1579l7-3 7-6 6-8 13-24 7-18 7-28 7-39 4-36 2-35-2-144-2-33-4-31-8-32-9-25-5-7-7-8-8-4-7 0-7 2-7 5-7 8-6 11-7 14-7 18-6 23-7 35-5 39-2 36-1 47 4 101 3 44 3 27 8 31 8 21 7 11 7 5 10 3zm-8 -41l-7-4-7-8-4-7-6-17-7-29-3-31-2-33-2-67 1-47 2-25 5-38 6-28 7-20 7-15 7-12 6-8 7-5 7-3 8 2 7 4 7 10 7 17 7 28 3 20 3 33 2 111-2 35-2 24-4 24-7 29-6 17-6 15-7 12-6 8-7 6-7 2z"/>
<path class="c39" d="M911 1538l7-2 7-6 6-8 7-12 6-15 6-17 7-29 4-24 2-24 2-35-2-111-3-33-3-20-7-28-7-17-7-10-7-4-8-2-7 3-7 5-6 8-7 12-7 15-7 20-6 28-5 38-2 25-1 47 2 67 2 33 3 31 7 29 6 17 4 7 7 8 7 4zm-4 -36l-4-1-4-3-6-7-7-16-5-19-3-20-3-32-2-56 1-35 2-26 3-25 9-37 7-18 7-12 6-9 7-5 7-2 8 2 7 7 3 4 7 18 5 18 4 43 2 89-4 48-4 26-7 23-6 17-7 12-6 9-7 6-7 2z"/>
<path class="c40" d="M910 1503l7-2 7-6 6-9 7-12 6-17 7-23 4-26 4-48-2-89-4-43-5-18-7-18-3-4-7-7-8-2-7 2-7 5-6 9-7 12-7 18-9 37-3 25-2 26-1 35 2 56 3 32 3 20 5 19 7 16 6 7 4 3 4 1zm-4 -34l-4-1-7-10-4-10-5-19-4-42-1-45 0-24 5-38 3-17 7-21 7-14 6-9 7-5 7-2 7 4 8 10 4 11 4 19 4 43 0 67-4 38-4 16-6 20-6 14-7 10-7 5-7 2z"/>
<path class="c41" d="M909 1471l7-2 7-5 7-10 6-14 6-20 4-16 4-38 0-67-4-43-4-19-4-11-8-10-7-4-7 2-7 5-6 9-7 14-7 21-3 17-5 38 0 24 1 45 4 42 5 19 4 10 7 10 4 1zm6 -31l-7 0-7-6-7-18-4-24-2-44 2-36 7-35 6-17 7-11 7-5 7 0 7 6 8 19 3 25 2 44-2 35-7 34-6 17-7 10-7 6z"/>
<path class="c42" d="M915 1440l7-6 7-10 6-17 7-34 2-35-2-44-3-25-8-19-7-6-7 0-7 5-7 11-6 17-7 35-2 36 2 44 4 24 7 18 7 6 7 0zm-5 -30l-2-1-4-5-4-9-2-10-2-32 1-24 1-12 6-25 7-13 7-5 7 2 7 14 3 20 1 34-2 24-6 25-7 12-6 6z"/>
<path class="c43" d="M915 1411l6-6 7-12 6-25 2-24-1-34-3-20-7-14-7-2-7 5-7 13-6 25-1 12-1 24 2 32 2 10 4 9 4 5 2 1zm-5 -35l-4-9-1-21 0-12 7-23 7-6 3 4 4 9 1 10 0 23-6 23-7 6z"/>
<path class="c44" d="M914 1380l7-6 6-23 0-23-1-10-4-9-3-4-7 6-7 23 0 12 1 21 4 9z"/>
<path class="c45" d="M1442 1326l-9 34-17-6-21-4-23-2 7-35 24 2 21 4z"/>
<path class="c45" d="M1433 1360l-14 34-16-6-19-4-21-3 9-33 23 2 21 4z"/>
<path class="c45" d="M1447 1293l-5 33-18-7-21-4-24-2 3-32 25 1 22 4z"/>
<path class="c46" d="M1379 1313l-7 35-24-1-24 3-23 4 3-29 24-7 26-4z"/>
<path class="c46" d="M1372 1348l-9 33-22-1-23 1-21 2 4-29 23-4 24-3z"/>
<path class="c45" d="M1419 1394l-18 31-14-5-36-7 12-32 21 3 19 4z"/>
<path class="c46" d="M1382 1281l-3 32-25 1-26 4-24 7 2-28 25-8 25-6z"/>
<path class="c45" d="M1447 1263l0 30-18-7-22-4-25-1 0-29 24 0 22 4z"/>
<path class="c46" d="M1363 1381l-12 32-20-2-39-1 5-27 21-2 23-1z"/>
<path class="c46" d="M1382 1252l0 29-26 2-25 6-25 8-1-24 25-11 26-7z"/>
<path class="c45" d="M1401 1425l-20 27-12-4-32-7 14-28 36 7z"/>
<path class="c46" d="M1351 1413l-14 28-52-7 7-24 39 1z"/>
<path class="c45" d="M1441 1238l6 25-19-7-22-4-24 0-4-24 24 0 21 3z"/>
<path class="c47" d="M1468 1357l-11 30-3-10-8-9-13-8 9-34 14 9 9 10z"/>
<path class="c47" d="M1457 1387l-16 28-2-7-8-7-12-7 14-34 13 8 8 9z"/>
<path class="c46" d="M1378 1228l4 24-26 3-26 7-25 11-1-19 24-13 25-8z"/>
<path class="c47" d="M1473 1328l-5 29-3-12-9-10-14-9 5-33 14 10 9 12z"/>
<path class="c47" d="M1441 1415l-20 26-2-5-7-6-11-5 18-31 12 7 8 7z"/>
<path class="c45" d="M1381 1452l-21 21-38-10 15-22 32 7z"/>
<path class="c46" d="M1337 1441l-15 22-43-9 6-20 35 4z"/>
<path class="c47" d="M1473 1302l0 26-3-13-9-12-14-10 0-30 14 10 9 13z"/>
<path class="c47" d="M1421 1441l-23 22-1-3-16-8 20-27 11 5 7 6z"/>
<path class="c48" d="M1304 1325l-3 29-21 6-19 9-14 10 0-19 15-14 20-12z"/>
<path class="c45" d="M1431 1220l4 5 6 13-18-7-21-3-24 0-7-17 22-1 21 3z"/>
<path class="c46" d="M1371 1211l7 17-25 5-25 8-24 13-4-14 23-14 24-10z"/>
<path class="c48" d="M1301 1354l-4 29-20 4-17 5-13 7 0-20 14-10 19-9z"/>
<path class="c48" d="M1306 1297l-2 28-22 9-20 12-15 14 0-19 16-17 20-15z"/>
<path class="c48" d="M1297 1383l-5 27-18 1-28 6 1-18 13-7 17-5z"/>
<path class="c49" d="M1054 1387l14 26-28 4-25 6-22 7-20-30 24-6 27-5z"/>
<path class="c45" d="M1360 1473l-22 15-30-8 14-17 27 7z"/>
<path class="c48" d="M1305 1273l1 24-23 12-20 15-16 17 0-16 16-20 20-18z"/>
<path class="c49" d="M1044 1359l10 28-30 2-27 5-24 6-14-32 25-5 29-4z"/>
<path class="c47" d="M1398 1463l-24 17-7-4-7-3 21-21 16 8z"/>
<path class="c47" d="M1466 1279l7 23-3-16-9-13-14-10-6-25 14 11 9 14z"/>
<path class="c49" d="M1068 1413l17 25-47 12-20 7-25-27 22-7 25-6z"/>
<path class="c49" d="M1039 1332l5 27-31 0-29 4-25 5-7-31 26-5 29-1z"/>
<path class="c46" d="M1322 1463l-14 17-36-11 7-15 29 6z"/>
<path class="c48" d="M1292 1410l-7 24-39 0 0-17 28-6z"/>
<path class="c49" d="M1085 1438l20 20-41 14-17 8-29-23 20-7 23-7z"/>
<path class="c48" d="M1304 1254l1 19-22 14-20 18-16 20 0-13 15-23 19-19z"/>
<path class="c45" d="M1416 1209l5 3 10 8-17-7-21-3-22 1-6-7-4-2 21-2 18 2z"/>
<path class="c50" d="M973 1400l20 30-18 8-13 9-8 9-24-29 9-10 15-9z"/>
<path class="c46" d="M1361 1202l4 2 6 7-24 5-24 10-23 14-4-7 21-15 22-10z"/>
<path class="c50" d="M993 1430l25 27-16 8-12 8-7 8-29-25 8-9 13-9z"/>
<path class="c49" d="M1040 1307l-1 25-32-1-29 1-26 5 0-21 1-9 26-3 29 0z"/>
<path class="c50" d="M959 1368l14 32-19 8-15 9-9 10-11-21-5-11 9-10 16-9z"/>
<path class="c47" d="M1374 1480l-25 11-11-3 22-15 12 6z"/>
<path class="c47" d="M1454 1262l5 5 7 12-2-16-9-14-14-11-6-13-4-5 13 11 8 14z"/>
<path class="c51" d="M1140 1374l5 19-30-5-31-2-30 1-10-28 32 2 33 5z"/>
<path class="c50" d="M1018 1457l29 23-14 7-10 7-7 7-33-20 7-8 12-8z"/>
<path class="c51" d="M1145 1393l7 18-27-1-29 1-28 2-14-26 30-1 31 2z"/>
<path class="c49" d="M1105 1458l22 16-49 22-31-16 37-15z"/>
<path class="c48" d="M1285 1434l-6 20-34-7 1-13 24-1z"/>
<path class="c51" d="M1138 1356l2 18-31-8-33-5-32-2-5-27 33 5 33 8z"/>
<path class="c45" d="M1338 1488l-22 9-6-2-17-6 15-9 21 6z"/>
<path class="c51" d="M1152 1411l9 18-50 4-26 5-17-25 28-2 29-1z"/>
<path class="c50" d="M952 1337l7 31-20 8-16 9-9 10-6-21-2-11 10-10 15-9z"/>
<path class="c52" d="M1428 1416l-14 20 15-6 9-7 19-36-3 10-10 10z"/>
<path class="c48" d="M1300 1240l4 14-23 16-19 19-15 23 0-9 14-24 18-22z"/>
<path class="c52" d="M1437 1395l-9 21 16-9 10-10 14-40-4 13-10 13z"/>
<path class="c52" d="M1414 1436l-17 18 13-3 8-5 23-31-3 8-9 7z"/>
<path class="c50" d="M1047 1480l31 16-21 13-5 6-36-14 7-7 10-7z"/>
<path class="c46" d="M1308 1480l-15 9-28-11 7-9 24 7z"/>
<path class="c49" d="M1045 1287l-5 20-32-3-29 0-26 3 4-18 4-8 25-2 28 2z"/>
<path class="c51" d="M1138 1339l0 17-33-11-33-8-33-5 1-25 33 8 33 10z"/>
<path class="c51" d="M1161 1429l11 14-44 9-23 6-20-20 51-8z"/>
<path class="c52" d="M1442 1374l-5 21 17-12 10-13 6-23 3-19-3 15-11 16z"/>
<path class="c52" d="M1397 1454l-20 14 12 0 7-2 25-25-3 5-8 5z"/>
<path class="c50" d="M953 1307l-1 9 0 21-21 7-15 9-10 10-1-20 2-10 9-11 16-9z"/>
<path class="c49" d="M1127 1474l22 11-40 21-31-10 31-14z"/>
<path class="c46" d="M1348 1200l9 0 4 2-22 6-22 10-21 15-6 0 19-15 20-11z"/>
<path class="c45" d="M1398 1206l12 1 6 2-16-7-18-2-21 2-4-2-9 0 19-2 17 2z"/>
<path class="c47" d="M1349 1491l-28 7-5-1 22-9 10 3z"/>
<path class="c47" d="M1438 1251l6 3 10 8-2-17-8-14-18-16-10-6 12 11 7 14z"/>
<path class="c48" d="M1279 1454l-7 15-27-12 0-10 21 4z"/>
<path class="c52" d="M1441 1355l1 19 17-15 11-16 3-15 1-18-1-8-4 16-10 18z"/>
<path class="c51" d="M1141 1326l-3 13-32-14-33-10-33-8 5-20 32 9 33 13z"/>
<path class="c50" d="M1078 1496l31 10-17 12-4 4-36-7 5-6 9-6z"/>
<path class="c51" d="M1172 1443l11 12-56 19-22-16 45-10z"/>
<path class="c48" d="M1296 1233l4 7-21 17-18 22-14 24-1-4 14-26 17-22z"/>
<path class="c52" d="M1377 1468l-21 11 16 2 10-6 16-12-2 3-7 2z"/>
<path class="c49" d="M1056 1271l-11 16-31-6-28-2-25 2 9-14 6-6 24-1 27 4z"/>
<path class="c45" d="M1316 1497l-13 2-11-2-12-4 13-4 17 6z"/>
<path class="c50" d="M961 1281l-4 8-4 18-21 6-16 9-9 11 5-19 4-8 9-11 15-8z"/>
<path class="c53" d="M954 1456l29 25-2 7 4 6 9 5-38-27-4-7z"/>
<path class="c52" d="M1436 1338l5 17 18-19 10-18 4-16-4-16-3-7-3 18-10 20z"/>
<path class="c53" d="M983 1481l33 20-1 6 3 4 8 3-22-10-19-10-4-6z"/>
<path class="c53" d="M930 1427l24 29-2 9 4 7 10 7-23-24-11-9-4-9z"/>
<path class="c49" d="M1149 1485l21 6-31 19-30-4 25-13z"/>
<path class="c46" d="M1293 1489l-13 4-21-12 6-3 19 8z"/>
<path class="c51" d="M1147 1316l-6 10-31-17-33-13-32-9 11-16 30 11 31 15z"/>
<path class="c51" d="M1183 1455l11 9-45 21-22-11 38-13z"/>
<path class="c52" d="M1356 1479l-22 6 15 6 25-11-8 0z"/>
<path class="c50" d="M1109 1506l30 4-16 13-35-1 11-9z"/>
<path class="c53" d="M1016 1501l36 14-1 4 3 3 6 1-23-6-19-6-3-4z"/>
<path class="c48" d="M1272 1469l-7 9-15-10-6-5 1-6 16 8z"/>
<path class="c53" d="M914 1395l5 11 11 21-2 10 4 9 11 9-11-17-4-9-12-11-4-11z"/>
<path class="c47" d="M1325 1497l-21 0-1 1-6 1 19-2 8 1z"/>
<path class="c48" d="M1290 1233l6 0-19 18-17 22-14 26 12-25 15-23z"/>
<path class="c47" d="M1417 1247l14 2 7 2-3-17-7-14-12-11-6-2-12-1 10 11 7 13z"/>
<path class="c46" d="M1334 1208l14-8-19 7-20 11-21 16-4 6 16-15 17-11z"/>
<path class="c45" d="M1377 1212l14-5 7-1-14-6-17-2-19 2-14 8 16-3 15 2z"/>
<path class="c49" d="M1071 1261l-6 3-9 7-29-7-27-4-24 1 14-10 7-3 22 0 25 5z"/>
<path class="c53" d="M1052 1515l36 7-1 3 3 1 5 0-23-1-18-3-3-3z"/>
<path class="c54" d="M1247 1360l0 19-10 12-6 13 1 13-1-25 5-17z"/>
<path class="c52" d="M1425 1324l11 14 17-21 10-20 3-18-7-12-5-5-3 19-10 21z"/>
<path class="c53" d="M906 1363l2 11 6 21-2 12 4 11 12 11-7-19-1-9-12-13-5-12z"/>
<path class="c54" d="M1247 1379l0 20-10 7-5 9 1 9-2-20 6-13z"/>
<path class="c50" d="M976 1261l-6 6-9 14-21 6-15 8-9 11 11-16 15-17 15-8z"/>
<path class="c54" d="M1247 1341l0 19-11 15-5 17 0 18 0-29 5-20z"/>
<path class="c51" d="M1154 1311l-7 5-30-19-31-15-30-11 9-7 6-3 28 13 28 16z"/>
<path class="c52" d="M1334 1485l-20 2 11 10 24-6-7-3z"/>
<path class="c51" d="M1194 1464l11 5-35 22-21-6 30-14z"/>
<path class="c54" d="M1247 1399l-1 18-8 4-5 5 1 4-2-15 5-9z"/>
<path class="c54" d="M1247 1325l0 16-11 20-5 20 0 22 0-31 5-24z"/>
<path class="c49" d="M1170 1491l19 0-22 17-28 2 20-12z"/>
<path class="c45" d="M1297 1499l-20-5-9-4 12 3 12 4z"/>
<path class="c50" d="M1139 1510l28-2-12 10-32 5 9-7z"/>
<path class="c55" d="M1218 1412l2 6-22-10-25-9-28-6-5-19 30 10 26 13z"/>
<path class="c55" d="M1220 1418l1 7-20-6-23-5-26-3-7-18 28 6 25 9z"/>
<path class="c53" d="M1088 1522l35 1-1 2 2 0 5-1-39 2-3-1z"/>
<path class="c54" d="M1246 1417l0 17-8 0-3 1 0 1-2-10 5-5z"/>
<path class="c48" d="M1265 1478l-6 3-11-9-4-6 0-3 13 10z"/>
<path class="c55" d="M1218 1405l0 7-22-15-26-13-30-10-2-18 30 13 27 17z"/>
<path class="c46" d="M1280 1493l-12-3-14-10 5 1 14 9z"/>
<path class="c54" d="M1247 1312l0 13-11 23-5 24 0 26 0-33 5-28z"/>
<path class="c53" d="M907 1333l-2 10 1 20-3 13 5 12 12 13-1-18 1-9-11-15-5-13z"/>
<path class="c55" d="M1221 1425l2 7-38-4-24 1-9-18 26 3 23 5z"/>
<path class="c48" d="M1284 1240l-11 11-15 23-12 25 0 5 10-24 13-22z"/>
<path class="c55" d="M1218 1399l0 6-23-19-27-17-30-13 0-17 30 18 27 20z"/>
<path class="c47" d="M1304 1497l-19-5-1 2-4 1 11 3 12 0z"/>
<path class="c52" d="M1410 1315l15 9 16-22 10-21 3-19-10-8-6-3-4 19-9 22z"/>
<path class="c47" d="M1393 1250l24-3-2-17-7-13-10-11-7 1-14 5 9 10 5 12z"/>
<path class="c55" d="M1223 1432l3 5-54 6-11-14 45 0z"/>
<path class="c49" d="M1089 1258l-18 3-27-8-25-5-22 0 9-3 18-3 19 1 22 6z"/>
<path class="c54" d="M1246 1434l-1 13-9-4-1-8 3-1z"/>
<path class="c50" d="M997 1248l-7 3-14 10-19 4-15 8-8 10 15-11 9-5 8-10 13-6z"/>
<path class="c46" d="M1319 1223l15-15-17 6-17 11-16 15-7 13 14-14 14-10z"/>
<path class="c54" d="M1247 1303l0 9-11 25-5 28 0 28 1-34 5-29z"/>
<path class="c52" d="M1314 1487l-19-2 9 12 21 0-5-5z"/>
<path class="c51" d="M1164 1310l-10 1-27-21-28-16-28-13 18-3 25 14 26 17z"/>
<path class="c51" d="M1205 1469l10 1-26 21-19 0 24-15z"/>
<path class="c55" d="M1219 1395l-1 4-23-22-27-20-30-18 3-13 29 20 26 23z"/>
<path class="c45" d="M1354 1226l23-14-12-5-15-2-16 3-15 15 13-3 12 1z"/>
<path class="c53" d="M1123 1523l32-5-1 1 5-3-20 6-17 3z"/>
<path class="c56" d="M1344 1436l-8 9 31-1 26-3 21-5 14-20-22 8-29 7z"/>
<path class="c56" d="M1336 1445l-9 8 28 2 23 0 19-1 17-18-21 5-26 3z"/>
<path class="c49" d="M1189 1491l17-4-16 14-23 7 14-11z"/>
<path class="c55" d="M1226 1437l3 5-46 13-11-12 38-5z"/>
<path class="c56" d="M1349 1426l-5 10 33-5 29-7 22-8 9-21-23 12-30 10z"/>
<path class="c50" d="M1167 1508l23-7-8 7-27 10 6-6z"/>
<path class="c53" d="M916 1306l-7 17-5 23 5 13 11 15 6-17 4-8-12-16-5-14z"/>
<path class="c56" d="M1327 1453l-11 6 45 8 16 1 20-14-19 1-23 0z"/>
<path class="c54" d="M1245 1447l0 10-5-4-3-4-1-8 0 2 3 2z"/>
<path class="c56" d="M1352 1416l-3 10 35-9 30-10 23-12 3-7 2-14-24 15-30 14z"/>
<path class="c55" d="M1220 1392l-1 3-23-26-26-23-29-20 6-10 27 22 25 26z"/>
<path class="c54" d="M1246 1299l1 4-10 27-5 29 0 31 1-2 0-31 4-30z"/>
<path class="c48" d="M1259 1481l-5-1-8-9-2-6 9 12z"/>
<path class="c57" d="M994 1499l32 15 13 0 18-1 21-4-24-9-25 2-20 0z"/>
<path class="c45" d="M1280 1495l-14-9-7-3 6 5 12 6z"/>
<path class="c57" d="M1026 1514l34 9 11-1 34-9-27-4-21 4-18 1z"/>
<path class="c56" d="M1316 1459l-12 4 52 16 21-11-37-4z"/>
<path class="c57" d="M966 1479l28 20 15 3 20 0 25-2-22-13-27 0-23-3z"/>
<path class="c52" d="M1392 1311l18 4 15-23 9-22 4-19-7-2-14-2-3 19-8 22z"/>
<path class="c55" d="M1229 1442l2 3-37 19-11-9 33-9z"/>
<path class="c46" d="M1268 1490l-6-4-12-11 3 4 11 9z"/>
<path class="c48" d="M1277 1253l7-13-15 18-13 22-10 24-1 10 9-23 11-21z"/>
<path class="c57" d="M1060 1523l35 3 21-7 15-6-26 0-34 9z"/>
<path class="c56" d="M1351 1406l1 10 36-13 30-14 24-15 0-13-1-6-24 18-30 17z"/>
<path class="c57" d="M943 1455l23 24 16 5 23 3 27 0-17-15-30-4-24-5z"/>
<path class="c52" d="M1295 1485l-16-5 6 12 19 5-4-7z"/>
<path class="c47" d="M1285 1492l-16-9 0 2-3 1 14 9 4-1z"/>
<path class="c53" d="M1155 1518l19-6 8-4 3-3-31 14z"/>
<path class="c51" d="M1215 1470l9-2-18 19-17 4 18-14z"/>
<path class="c56" d="M1304 1463l-11 2 41 20 22-6-31-9z"/>
<path class="c51" d="M1175 1313l-11-3-24-21-26-17-25-14 21 4 22 13 22 18z"/>
<path class="c49" d="M1110 1262l-21-4-24-9-22-6-19-1 19 0 27 4 19 6z"/>
<path class="c55" d="M1222 1390l-2 2-21-28-25-26-27-22 7-5 26 23 23 27z"/>
<path class="c54" d="M1245 1457l-1 6-4-5-3-14 0 5 3 4z"/>
<path class="c50" d="M1024 1242l-45 9-13 6-8 10 10-4 21-5 7-9 12-5z"/>
<path class="c47" d="M1368 1260l25-10-2-16-5-12-9-10-23 14 8 8 5 12z"/>
<path class="c57" d="M1095 1526l34-2 27-16-25 5-27 11z"/>
<path class="c54" d="M1246 1299l-9 28-4 30 0 31 1 1 0-32 4-30z"/>
<path class="c53" d="M934 1283l-7 7-11 16-3 13 5 14 12 16 10-15 7-7-11-16-5-15z"/>
<path class="c57" d="M928 1429l4 9 11 17 18 8 24 5 30 4-12-19-31-6-26-8z"/>
<path class="c46" d="M1304 1244l15-21-14 6-14 10-14 14-7 19 11-12 12-10z"/>
<path class="c56" d="M1348 1398l3 8 36-16 30-17 24-18-3-12-2-5-24 20-29 21z"/>
<path class="c55" d="M1231 1445l3 2-29 22-11-5 27-13z"/>
<path class="c50" d="M1190 1501l20-11-4 4-16 10-8 4 5-4z"/>
<path class="c49" d="M1206 1487l14-8-10 11-20 11 10-9z"/>
<path class="c56" d="M1293 1465l-12 0 33 22 20-2-25-12z"/>
<path class="c45" d="M1332 1246l22-20-10-5-12-1-13 3-15 21 11-2 9 0z"/>
<path class="c57" d="M1129 1524l30-8 20-15-23 7-21 13z"/>
<path class="c48" d="M1254 1480l-7-9-4-9 1 3 6 11z"/>
<path class="c55" d="M1224 1390l-2 0-19-29-23-27-26-23 10-1 23 24 20 27z"/>
<path class="c52" d="M1372 1312l20-1 14-23 8-22 3-19-8 0-16 3-3 19-7 20z"/>
<path class="c54" d="M1244 1463l0 3-3-6-1-13-1-1-1 6 2 6z"/>
<path class="c53" d="M1182 1508l23-13 1-4-24 17z"/>
<path class="c57" d="M920 1401l1 9 7 19 18 10 26 8 31 6-5-20-33-9-26-11z"/>
<path class="c45" d="M1266 1486l-10-11-4-2 7 10 5 3z"/>
<path class="c56" d="M1342 1391l6 7 35-19 29-21 24-20-7-10-4-4-22 23-28 22z"/>
<path class="c52" d="M1279 1480l-14-8 4 11 16 9-3-7z"/>
<path class="c54" d="M1246 1304l0-5-8 28-4 30 0 32 1 1 0-30 3-29z"/>
<path class="c48" d="M1270 1272l7-19-12 17-11 21-9 23 0 13 7-21 8-18z"/>
<path class="c55" d="M1234 1447l2 1-6 7-15 15-10-1 21-15z"/>
<path class="c51" d="M1224 1468l7-5-11 16-14 8 12-13z"/>
<path class="c56" d="M1281 1465l-10-2 24 22 19 2-20-13z"/>
<path class="c51" d="M1186 1321l-11-8-21-20-22-18-22-13 22 10 18 13 19 17z"/>
<path class="c46" d="M1259 1483l-12-17 3 9 6 6z"/>
<path class="c47" d="M1269 1483l-11-11-2 3 10 11 3-1z"/>
<path class="c57" d="M1159 1516l26-11 14-14-20 10-15 12z"/>
<path class="c49" d="M1132 1272l-43-20-19-6-17-3 46 12 16 7z"/>
<path class="c53" d="M958 1267l-9 5-15 11-3 13 5 15 11 16 7-6 17-10-11-17-4-14z"/>
<path class="c50" d="M1053 1243l-20-2-25 3-12 5-7 9 11-1 24 0 6-8 10-5z"/>
<path class="c58" d="M1231 1410l1 7 6 13-2 0-16-12-2-6 18 16 1 0z"/>
<path class="c58" d="M1232 1417l1 7 5 9-17-8-1-7 16 12 2 0z"/>
<path class="c58" d="M1231 1403l0 7 6 18-1 0-18-16 0-7 18 21 1 0z"/>
<path class="c55" d="M1227 1392l-3-2-17-29-20-27-23-24 11 3 19 24 18 26z"/>
<path class="c50" d="M1210 1490l12-11-15 13z"/>
<path class="c49" d="M1220 1479l10-10-6 8-14 13 6-7z"/>
<path class="c47" d="M1343 1277l25-17-1-14-5-12-8-8-22 20 6 8 4 10z"/>
<path class="c58" d="M1233 1424l1 6 5 5-16-3-2-7 17 8z"/>
<path class="c54" d="M1244 1466l-2-7-1-12-1 0 0 7 1 6z"/>
<path class="c58" d="M1231 1398l0 5 6 23-1 0-18-21 0-6 18 25 1 0z"/>
<path class="c56" d="M1334 1386l8 5 33-22 28-22 22-23-4-3-11-6-20 24-26 23z"/>
<path class="c57" d="M920 1374l-1 9 1 18 19 12 26 11 33 9 0-20-32-12-26-13z"/>
<path class="c56" d="M1271 1463l-9-3 17 20 16 5-14-13z"/>
<path class="c54" d="M1245 1314l1-10-8 27-3 29 0 30 1 4 0-28 3-27z"/>
<path class="c58" d="M1234 1430l1 6 4 1-13 0-3-5 16 3z"/>
<path class="c46" d="M1289 1271l15-27-11 6-12 10-11 12-6 23 8-11 9-8z"/>
<path class="c55" d="M1236 1448l2-1-4 7-10 14-9 2 15-15z"/>
<path class="c58" d="M1231 1393l0 5 6 26-1 0-18-25 1-4 17 27 2 0z"/>
<path class="c48" d="M1250 1475l-7-19 0 6 4 9z"/>
<path class="c53" d="M1205 1495l11-10 5-5 1-4-18 18z"/>
<path class="c57" d="M1185 1505l21-14 9-12-16 12-10 11z"/>
<path class="c52" d="M1350 1317l22-5 11-23 7-20 3-19-25 10-2 18-6 19z"/>
<path class="c52" d="M1265 1472l-9-9 2 9 11 11-2-6z"/>
<path class="c58" d="M1235 1436l1 5 4-3-11 4-3-5 13 0z"/>
<path class="c45" d="M1311 1272l21-26-8-4-9 0-11 2-15 27 9-3 7 1z"/>
<path class="c58" d="M1232 1390l-1 3 7 29-2 0-17-27 1-3 16 29 2 0z"/>
<path class="c51" d="M1231 1463l5-6-6 12-10 10 7-10z"/>
<path class="c48" d="M1264 1295l6-23-10 16-8 18-7 21-1 15 5-17 7-16z"/>
<path class="c59" d="M1105 1513l26 0 37-21 20-13-12 1-50 24z"/>
<path class="c60" d="M1400 1542l-30-4-15-16-37-33 18 1 24 17 22 18z"/>
<path class="c59" d="M1078 1509l27 4 45-19 26-14-13-1-31 13-28 10z"/>
<path class="c55" d="M1229 1395l-2-3-15-29-18-26-19-24 11 8 17 23 14 24z"/>
<path class="c51" d="M1198 1333l-29-31-19-17-18-13 23 15 14 13 15 15z"/>
<path class="c60" d="M1370 1538l-29-8-11-14-29-30 17 3 37 33z"/>
<path class="c45" d="M1256 1475l-7-13-2-1 5 12 3 2z"/>
<path class="c58" d="M1236 1441l1 3 3-5-9 6-2-3 11-4z"/>
<path class="c59" d="M1131 1513l25-5 45-32-13 3-40 25z"/>
<path class="c60" d="M1430 1541l-30 1-18-17-22-18-24-17 17-3 29 18 26 18z"/>
<path class="c56" d="M1324 1383l10 3 30-24 26-23 20-24-5-2-13-2-18 24-23 24z"/>
<path class="c59" d="M1054 1500l24 9 26-7 28-10 31-13-12-3-35 11-33 8z"/>
<path class="c54" d="M1244 1465l-2-19-1 7 1 6z"/>
<path class="c58" d="M1233 1388l-1 2 6 31-2 0-16-29 2-2 15 31 1 0z"/>
<path class="c60" d="M1341 1530l-26-12-30-37 16 5 29 30z"/>
<path class="c46" d="M1252 1473l-7-16 2 9 3 5z"/>
<path class="c56" d="M1262 1460l-7-5 10 17 14 8-10-13z"/>
<path class="c61" d="M1363 1568l-32-18-9-20-7-12 26 12 17 27z"/>
<path class="c47" d="M1258 1472l-8-12-1 2 7 13 2-2z"/>
<path class="c55" d="M1238 1447l2-1-3 6-6 11-7 5 10-14z"/>
<path class="c61" d="M1331 1550l-28-21-11-25 23 14 12 22z"/>
<path class="c61" d="M1398 1582l-35-14-5-11-7-13-10-14 29 8 13 16 9 15z"/>
<path class="c59" d="M1156 1508l23-7 33-30-11 5-31 23z"/>
<path class="c54" d="M1245 1327l0-13-6 25-3 27 0 28 2 4 0-25 2-24z"/>
<path class="c57" d="M930 1349l-4 8-6 17 20 14 26 13 32 12 7-19-31-14-26-16z"/>
<path class="c53" d="M989 1258l-21 5-10 4-2 13 4 14 11 17 9-4 20-7-9-16-4-14z"/>
<path class="c50" d="M1224 1477l9-12-10 13z"/>
<path class="c49" d="M1155 1287l-15-11-25-14-16-7-14-3 32 16 11 3 13 7z"/>
<path class="c59" d="M1032 1487l22 13 29-5 33-8 35-11-11-5-39 9-36 5z"/>
<path class="c60" d="M1459 1534l-29 7-22-18-26-18-29-18 17-5 33 16 30 18z"/>
<path class="c57" d="M1206 1491l16-15 5-9-12 12-6 9z"/>
<path class="c49" d="M1230 1469l-2 3z"/>
<path class="c58" d="M1237 1444l2 2 1-6-6 7-3-2 9-6z"/>
<path class="c60" d="M1315 1518l-23-14-20-31 13 8 21 25z"/>
<path class="c50" d="M1085 1252l-32-9-13 1-10 5-6 8 36 6 5-6 9-4z"/>
<path class="c58" d="M1234 1389l-1-1 5 33-1 0-15-31 2 0 14 31 1 0z"/>
<path class="c61" d="M1303 1529l-22-22-7-18 18 15 9 18z"/>
<path class="c59" d="M1179 1501l20-10 23-26-10 6-23 21z"/>
<path class="c61" d="M1435 1590l-37-8-6-13-9-15-13-16 30 4 16 17 12 17z"/>
<path class="c53" d="M1221 1480l9-11 3-7-12 17z"/>
<path class="c62" d="M1263 1440l-2 2 66 11 9-8-35-1-38-4z"/>
<path class="c62" d="M1265 1439l-2 1 38 4 35 1 8-9-38 2-41 0z"/>
<path class="c62" d="M1261 1442l-2 1 57 16 11-6-32-5-34-7z"/>
<path class="c47" d="M1319 1298l24-21-1-13-4-10-6-8-21 26 5 6 2 9z"/>
<path class="c48" d="M1247 1466l-4-16 0 6 2 7z"/>
<path class="c52" d="M1256 1463l-7-9 1 6 8 12-1-5z"/>
<path class="c62" d="M1259 1443l-3 0 48 20 12-4-57-17z"/>
<path class="c62" d="M1266 1437l-1 2 41-1 38-2 5-10-40 6-43 4z"/>
<path class="c55" d="M1232 1399l-15-31-14-24-17-23 12 12 13 20 11 22z"/>
<path class="c63" d="M1330 1567l-28-25 2-3 0-5-1-5 28 21 1 7 0 6z"/>
<path class="c59" d="M1015 1472l17 15 33-2 36-5 39-9-8-7-42 6-40 2z"/>
<path class="c60" d="M1292 1504l-18-15-13-24 11 8 14 21z"/>
<path class="c63" d="M1302 1542l-22-26 1-5 0-4 22 22 1 10z"/>
<path class="c58" d="M1239 1446l1 1 1-7-5 8-2-1 7-7z"/>
<path class="c51" d="M1236 1457l4-6-3 7-7 11 4-8z"/>
<path class="c60" d="M1483 1523l-24 11-26-18-30-18-33-16 14-8 37 15 33 16z"/>
<path class="c52" d="M1328 1327l22-10 10-20 6-19 2-18-25 17-2 15-5 17z"/>
<path class="c56" d="M1255 1455l-5-5 6 13 9 9-6-10z"/>
<path class="c46" d="M1276 1301l13-30-8 5-9 8-8 11-6 26 12-16z"/>
<path class="c54" d="M1243 1462l-1-18 0 13z"/>
<path class="c62" d="M1256 1443l-2 1 39 21 11-2-48-20z"/>
<path class="c62" d="M1267 1435l-1 2 43-5 40-6 3-10-41 10-45 8z"/>
<path class="c56" d="M1313 1382l11 1 27-24 23-24 18-24-6 0-14 1-16 23-20 24z"/>
<path class="c64" d="M1353 1487l-17 3-26-17-54-30 3 0 32 13 32 15z"/>
<path class="c58" d="M1235 1390l-1-1 5 32-1 0-14-31 3 2 11 29 1 0z"/>
<path class="c61" d="M1281 1507l-17-21-4-12 14 15 5 13z"/>
<path class="c64" d="M1370 1482l-17 5-30-16-32-15-32-13 2-1 37 11 37 14z"/>
<path class="c64" d="M1336 1490l-18-1-21-16-43-29 2-1 54 30z"/>
<path class="c59" d="M1199 1491l16-12 15-20-8 6-16 18z"/>
<path class="c55" d="M1240 1446l-4 11-5 6 6-11z"/>
<path class="c63" d="M1361 1590l-31-23 2-4 0-6-1-7 32 18 2 9-1 8z"/>
<path class="c63" d="M1280 1516l-16-25 0-5 17 21 0 7z"/>
<path class="c64" d="M1384 1474l-14 8-35-15-37-14-37-11 2-2 41 9 41 11z"/>
<path class="c64" d="M1318 1489l-17-3-50-43 3 1 43 29z"/>
<path class="c62" d="M1254 1444l-3-1 30 22 12 0-39-22z"/>
<path class="c54" d="M1244 1342l1-15-5 22-2 24 0 25 1 6 0-22 2-20z"/>
<path class="c51" d="M1208 1347l-24-32-15-15-14-13 32 31 11 13z"/>
<path class="c48" d="M1258 1321l6-26-8 14-7 16-5 17 0 18 8-28z"/>
<path class="c62" d="M1266 1433l1 2 44-9 41-10-1-10-41 14-44 12z"/>
<path class="c65" d="M1300 1543l-21-27 1 0 22 26z"/>
<path class="c57" d="M1222 1476l11-14 3-6-12 18z"/>
<path class="c45" d="M1292 1301l19-29-6-3-7-1-9 3-13 30 6-3 5 1z"/>
<path class="c45" d="M1249 1462l-5-12 3 11 2 1z"/>
<path class="c61" d="M1472 1592l-37-2-7-14-12-17-16-17 30-1 19 18 14 17z"/>
<path class="c60" d="M1274 1489l-14-15-7-17 8 8 9 16z"/>
<path class="c65" d="M1279 1516l-16-24 1-1 16 25z"/>
<path class="c58" d="M1240 1447l1 0 1-7-4 7-2 1 5-8z"/>
<path class="c64" d="M1301 1486l-16-5-36-38 2 0 34 28z"/>
<path class="c64" d="M1396 1463l-12 11-39-14-41-11-41-9 2-1 44 5 44 9z"/>
<path class="c46" d="M1247 1461l-3-13 1 9 1 3z"/>
<path class="c65" d="M1326 1569l-26-26 2-1 28 25z"/>
<path class="c47" d="M1250 1460l-5-11 0 2 4 11 1-1z"/>
<path class="c59" d="M1003 1453l12 19 35 0 40-2 42-6-6-8-44 2-42-1z"/>
<path class="c62" d="M1251 1443l-2 0 22 20 10 2-30-22z"/>
<path class="c58" d="M1236 1394l-1-4 4 31-1 0-11-29 2 3 11 27z"/>
<path class="c62" d="M1266 1431l0 2 0-1 44-12 41-14-3-8-40 17-43 15z"/>
<path class="c50" d="M1234 1463l5-12-6 13z"/>
<path class="c59" d="M1215 1479l12-12 8-15-5 7-10 14z"/>
<path class="c57" d="M947 1327l-7 7-10 15 18 15 26 16 31 14 14-17-30-16-25-17z"/>
<path class="c63" d="M1264 1491l-11-21 0-3 11 19 0 4z"/>
<path class="c61" d="M1264 1486l-11-19-2-7 9 14 3 8z"/>
<path class="c49" d="M1237 1458l-1 2z"/>
<path class="c60" d="M1503 1507l-20 16-29-18-33-16-37-15 12-11 40 13 36 15z"/>
<path class="c64" d="M1285 1481l-13-8-25-31 27 26z"/>
<path class="c55" d="M1235 1404l-13-29-11-22-13-20 10 14 10 18 9 19z"/>
<path class="c64" d="M1404 1451l-8 12-43-10-44-9-44-5 1-2 47 2 46 5z"/>
<path class="c65" d="M1263 1492l-11-22 12 21z"/>
<path class="c53" d="M1233 1465l6-15-6 14z"/>
<path class="c66" d="M1270 1510l-12-23 5 5 16 24-6-3z"/>
<path class="c56" d="M1250 1450l-4-4 3 8 7 9-4-8z"/>
<path class="c66" d="M1286 1535l-16-25 3 3 6 3 21 27-9-4z"/>
<path class="c63" d="M1397 1608l-36-18 3-5 1-8-2-9 35 14 3 11-1 9z"/>
<path class="c54" d="M1243 1456l0-14-1 10z"/>
<path class="c62" d="M1249 1443l-2-1 15 18 9 3-22-20z"/>
<path class="c58" d="M1241 1447l1-7-2 6-2 1 4-7z"/>
<path class="c48" d="M1245 1457l-2-13 1 11z"/>
<path class="c52" d="M1249 1454l-4-8 0 3 5 11-1-4z"/>
<path class="c55" d="M1241 1444l-1 7-4 6 4-9z"/>
<path class="c62" d="M1264 1429l2 2-1-1 43-15 40-17-6-7-37 20-41 18z"/>
<path class="c49" d="M1176 1307l-21-20-14-9-13-7-11-3 30 21 8 3 10 6z"/>
<path class="c60" d="M1260 1474l-9-14-3-10 5 7 5 11z"/>
<path class="c51" d="M1240 1451l-1 2z"/>
<path class="c66" d="M1258 1487l-8-20 13 25-3-3z"/>
<path class="c56" d="M1301 1384l12-2 23-23 20-24 16-23-22 5-13 22-17 23z"/>
<path class="c53" d="M1024 1257l-24 0-11 1-2 12 4 14 9 16 34-4-8-15-4-13z"/>
<path class="c64" d="M1272 1473l-11-8-15-24 18 22z"/>
<path class="c58" d="M1238 1398l-2-4 3 29-10-28 3 4 9 25z"/>
<path class="c67" d="M1218 1496l11-18-1 13-11 25 0-12z"/>
<path class="c57" d="M1233 1462l6-12 1-3-6 14z"/>
<path class="c59" d="M1227 1467l9-11 3-10-9 17z"/>
<path class="c54" d="M1244 1360l0-18-3 20-2 20 0 22 1 6 1-35z"/>
<path class="c64" d="M1407 1438l-3 13-45-7-46-5-47-2 1-2 47-2 48 1z"/>
<path class="c65" d="M1356 1592l-30-23 4-2 31 23z"/>
<path class="c68" d="M1217 1481l10-11-9 26-14 20 7-23z"/>
<path class="c62" d="M1247 1442l-1-1 9 14 7 5-15-18z"/>
<path class="c63" d="M1253 1470l-7-18 7 15 0 3z"/>
<path class="c68" d="M1227 1470l7-10-5 18-11 18 5-17z"/>
<path class="c67" d="M1229 1478l7-16 0 7-8 22 0-8z"/>
<path class="c50" d="M1117 1268l-32-16-11 1-9 4-5 6 37 14 4-6 7-3z"/>
<path class="c69" d="M1228 1491l8-22 1 3-6 24-2-3z"/>
<path class="c69" d="M1217 1516l11-25 3 5-10 28-4-4z"/>
<path class="c65" d="M1252 1470l-6-17 7 17z"/>
<path class="c61" d="M1253 1467l-7-15 0-4 5 12 2 5z"/>
<path class="c67" d="M1204 1516l14-20-1 20-16 27 0-17z"/>
<path class="c66" d="M1306 1560l-20-25 5 4 9 4 26 26-6-1-6-3z"/>
<path class="c47" d="M1298 1321l21-23-1-11-2-9-5-6-19 29 3 5 2 7z"/>
<path class="c62" d="M1263 1428l1 1 41-18 37-20-8-5-34 21-38 21z"/>
<path class="c59" d="M998 1433l5 20 37 4 42 1 44-2-2-10-46-1-42-5z"/>
<path class="c52" d="M1308 1341l20-14 8-18 5-17 2-15-24 21-1 12-4 15z"/>
<path class="c58" d="M1242 1446l0-7-2 7 2-6z"/>
<path class="c70" d="M1259 1492l-7-18 18 36-8-11z"/>
<path class="c64" d="M1261 1465l-8-8-9-17 12 17z"/>
<path class="c68" d="M1205 1491l12-10-6 12-7 23-18 20 11-29z"/>
<path class="c71" d="M1231 1496l6-24 2-2-4 23-3 3z"/>
<path class="c66" d="M1250 1467l-5-15 7 18-1-1z"/>
<path class="c70" d="M1252 1474l-5-15 11 28-4-8z"/>
<path class="c72" d="M1188 1479l13-3 34-30-3 0-22 17z"/>
<path class="c68" d="M1234 1460l5-9-3 11-7 16 3-12z"/>
<path class="c72" d="M1201 1476l11-5 25-27-3 1-16 16z"/>
<path class="c72" d="M1176 1480l12-1 44-33-3 1-27 17z"/>
<path class="c56" d="M1246 1446l-2-5 1 5 4 8-2-5z"/>
<path class="c46" d="M1265 1331l11-30-6 4-12 16-5 26 8-12z"/>
<path class="c69" d="M1236 1469l4-16 1 1-4 18-1-1z"/>
<path class="c48" d="M1253 1347l5-26-6 11-8 28 0 17 5-21z"/>
<path class="c51" d="M1218 1363l-20-32-22-24 26 32 8 11z"/>
<path class="c45" d="M1245 1451l-2-9 2 9z"/>
<path class="c72" d="M1212 1471l10-6 17-22-15 15z"/>
<path class="c60" d="M1251 1460l-5-12-1-5 5 14z"/>
<path class="c58" d="M1239 1404l-1-6 2 26-8-25 9 27z"/>
<path class="c62" d="M1246 1441l4 9 5 5-10-14z"/>
<path class="c61" d="M1507 1588l-11 2-24 2-9-16-14-17-19-18 29-7 21 19 16 18z"/>
<path class="c67" d="M1236 1462l5-13-1 4-4 16 0-4z"/>
<path class="c71" d="M1221 1524l10-28 4-3-5 26-6 5z"/>
<path class="c54" d="M1243 1450l0-11 0 8z"/>
<path class="c55" d="M1237 1410l-10-26-9-19-10-18 10 16 14 30z"/>
<path class="c71" d="M1237 1472l5-19-3 17-1 2z"/>
<path class="c72" d="M1163 1479l13 1 54-33-3 0-32 17z"/>
<path class="c47" d="M1245 1449l-2-7 2 8z"/>
<path class="c46" d="M1244 1450l-1-9 1 9z"/>
<path class="c55" d="M1242 1442l-1 3z"/>
<path class="c50" d="M1240 1451l2-9-2 9z"/>
<path class="c73" d="M1235 1493l7-30-2 18-3 9z"/>
<path class="c70" d="M1268 1511l-9-19 27 43-12-15z"/>
<path class="c49" d="M1241 1448l-1 1z"/>
<path class="c64" d="M1407 1424l0 14-45-4-48-1-47 2-1-2 48-6 47-3z"/>
<path class="c59" d="M1236 1456l4-9 2-5-5 11z"/>
<path class="c70" d="M1247 1459l-3-11 4 14z"/>
<path class="c72" d="M1222 1465l8-6 10-17-10 12z"/>
<path class="c53" d="M1239 1451l3-10-3 10z"/>
<path class="c74" d="M1237 1444l2-1-22 38-12 10 20-31z"/>
<path class="c74" d="M1239 1443l1-1-13 28-10 11 14-25z"/>
<path class="c64" d="M1253 1457l-5-7-4-11 6 12z"/>
<path class="c73" d="M1239 1470l3-20 0 13-2 5z"/>
<path class="c60" d="M1517 1487l-14 20-31-16-36-15-40-13 8-12 42 10 38 12z"/>
<path class="c62" d="M1260 1427l3 1 37-21 34-21-10-3-31 23-33 21z"/>
<path class="c68" d="M1239 1451l2-7 0 5-5 13 2-7z"/>
<path class="c69" d="M1201 1543l16-27 0 4 4 4-13 30-3-2-2-4z"/>
<path class="c52" d="M1245 1446l-2-5 2 6z"/>
<path class="c58" d="M1242 1444l1-6-2 6 2-5z"/>
<path class="c72" d="M1151 1476l12 3 64-32-2-1-38 17z"/>
<path class="c48" d="M1244 1448l-1-9 0 8z"/>
<path class="c74" d="M1240 1442l-6 18-7 10 8-19z"/>
<path class="c74" d="M1235 1446l2-2-22 32-10 15-14 10 28-37z"/>
<path class="c51" d="M1242 1444l-1 2z"/>
<path class="c63" d="M1246 1453l-2-11 2 11z"/>
<path class="c72" d="M1230 1459l5-7 6-12-6 10z"/>
<path class="c65" d="M1246 1453l-3-11 3 11z"/>
<path class="c57" d="M1239 1450l1-1z"/>
<path class="c62" d="M1244 1440l2 6 4 4-6-10z"/>
<path class="c73" d="M1230 1519l5-26 5-12-2 21-5 13z"/>
<path class="c75" d="M1246 1455l6 19-4-12z"/>
<path class="c61" d="M1246 1452l-2-10 2 9z"/>
<path class="c76" d="M1240 1481l3-29 0 11-1 13z"/>
<path class="c66" d="M1245 1452l-2-10 3 11z"/>
<path class="c68" d="M1191 1501l14-10-8 16-11 29-22 19 7-17 9-19z"/>
<path class="c54" d="M1244 1377l0-17-4 32 1 24 1-27z"/>
<path class="c75" d="M1248 1464l-2-9 4 13 9 24-8-18z"/>
<path class="c69" d="M1240 1453l2-11-1 12z"/>
<path class="c45" d="M1276 1331l16-30-5-2-5-1-6 3-11 30 4-1 4 0z"/>
<path class="c67" d="M1186 1536l18-20-3 10 0 17-19 27-1-10 1-11z"/>
<path class="c74" d="M1241 1440l-2 11-5 9 5-13z"/>
<path class="c71" d="M1241 1454l2-12-2 12z"/>
<path class="c58" d="M1240 1410l-1-6 2 22-6-22 7 24z"/>
<path class="c76" d="M1242 1463l1-19-1 16z"/>
<path class="c67" d="M1241 1449l1-7-2 9z"/>
<path class="c56" d="M1289 1388l12-4 19-22 17-23 13-22-22 10-10 20-13 20z"/>
<path class="c75" d="M1244 1448l1 4z"/>
<path class="c72" d="M1235 1452l4-6 3-7-4 7z"/>
<path class="c64" d="M1248 1450l-2-4z"/>
<path class="c70" d="M1244 1448l1 1z"/>
<path class="c74" d="M1232 1446l3 0-31 36-13 19-15 7 17-21 19-21z"/>
<path class="c60" d="M1246 1448l-1-1z"/>
<path class="c73" d="M1242 1453l1-12-1 11z"/>
<path class="c56" d="M1244 1441l0 2z"/>
<path class="c72" d="M1140 1471l11 5 36-13 38-16-3-2-41 15z"/>
<path class="c54" d="M1243 1444l0-1z"/>
<path class="c58" d="M1243 1442l0-4z"/>
<path class="c59" d="M1240 1447l1-2z"/>
<path class="c68" d="M1241 1444l0 2z"/>
<path class="c76" d="M1238 1502l5-39 1 12-3 19z"/>
<path class="c55" d="M1243 1439l-1 2z"/>
<path class="c62" d="M1244 1439l1 5-1-5z"/>
<path class="c74" d="M1242 1439l-1 4z"/>
<path class="c62" d="M1258 1427l2 0 33-21 31-23-11-1-27 23-28 22z"/>
<path class="c63" d="M1433 1621l-36-13 3-6 1-9-3-11 37 8 4 13-1 11z"/>
<path class="c76" d="M1242 1450l1-11 0 9z"/>
<path class="c57" d="M971 1311l-17 10-7 6 17 17 25 17 30 16 18-13-28-18-22-18z"/>
<path class="c72" d="M1239 1446l2-3z"/>
<path class="c75" d="M1243 1442l1 2z"/>
<path class="c64" d="M1402 1412l5 12-46 0-47 3-48 6 0-2 46-10 46-6z"/>
<path class="c77" d="M1243 1463l0-24 1 17z"/>
<path class="c45" d="M1243 1442l0-5 0 5z"/>
<path class="c75" d="M1252 1474l-4-10 7 19 13 28-12-24z"/>
<path class="c77" d="M1243 1452l0-4z"/>
<path class="c55" d="M1239 1416l-7-23-14-30 8 17 9 23z"/>
<path class="c50" d="M1242 1442z"/>
<path class="c47" d="M1243 1441z"/>
<path class="c46" d="M1243 1442l0-5 0 4z"/>
<path class="c49" d="M1242 1441z"/>
<path class="c64" d="M1245 1443l-1-1z"/>
<path class="c53" d="M1242 1442l1-5-1 5z"/>
<path class="c78" d="M1243 1441l3 14-3-14z"/>
<path class="c58" d="M1241 1416l0 12-4-18 5 20z"/>
<path class="c63" d="M1244 1442l-1-5 1 5z"/>
<path class="c65" d="M1243 1442l0-5 1 5z"/>
<path class="c52" d="M1243 1440z"/>
<path class="c74" d="M1243 1438l-1 2z"/>
<path class="c66" d="M1243 1442z"/>
<path class="c71" d="M1208 1554l13-30 6-2 3-3-8 30-10 6z"/>
<path class="c69" d="M1242 1442l1-5-1 5z"/>
<path class="c48" d="M1243 1441l0-1z"/>
<path class="c71" d="M1242 1442l1-5 0 5z"/>
<path class="c78" d="M1243 1439l1 9-1-9z"/>
<path class="c77" d="M1244 1475l-1-34 1 24z"/>
<path class="c61" d="M1244 1442z"/>
<path class="c57" d="M1242 1441z"/>
<path class="c51" d="M1243 1439l0 1z"/>
<path class="c58" d="M1243 1439l0-1z"/>
<path class="c78" d="M1243 1442l5 22-4-22z"/>
<path class="c62" d="M1243 1438l1 3-1-3z"/>
<path class="c67" d="M1242 1441z"/>
<path class="c73" d="M1243 1442z"/>
<path class="c77" d="M1243 1444l0-2z"/>
<path class="c70" d="M1243 1440l0 1z"/>
<path class="c72" d="M1242 1442l0-2z"/>
<path class="c60" d="M1243 1441l0-1z"/>
<path class="c56" d="M1243 1438l0 1z"/>
<path class="c68" d="M1243 1439l0 1z"/>
<path class="c59" d="M1242 1440z"/>
<path class="c76" d="M1243 1441l0-1z"/>
<path class="c78" d="M1243 1438l0 4 0-4z"/>
<path class="c54" d="M1243 1439z"/>
<path class="c55" d="M1243 1438z"/>
<path class="c75" d="M1243 1439z"/>
<path class="c66" d="M1329 1583l-23-23 8 5 6 3 6 1 30 23-7 0-9-3z"/>
<path class="c59" d="M998 1413l0 20 38 7 42 5 46 1 0-9-45-6-43-8z"/>
<path class="c72" d="M1132 1464l8 7 41-11 42-14-2-2-45 12z"/>
<path class="c70" d="M1279 1530l-11-19 12 18 26 31-18-18z"/>
<path class="c74" d="M1230 1447l2-1-20 20-19 21-17 21-16 6 21-23 23-23z"/>
<path class="c64" d="M1243 1439l0-1z"/>
<path class="c74" d="M1243 1437l0 1z"/>
<path class="c77" d="M1243 1439z"/>
<path class="c62" d="M1243 1437z"/>
<path class="c58" d="M1243 1438l0-1z"/>
<path class="c72" d="M1243 1438z"/>
<path class="c78" d="M1243 1437l0 2 0-2z"/>
<path class="c45" d="M1243 1437z"/>
<path class="c50" d="M1243 1437z"/>
<path class="c47" d="M1243 1437z"/>
<path class="c65" d="M1243 1437z"/>
<path class="c53" d="M1243 1437z"/>
<path class="c63" d="M1243 1437z"/>
<path class="c46" d="M1243 1437z"/>
<path class="c69" d="M1243 1437z"/>
<path class="c49" d="M1243 1437z"/>
<path class="c71" d="M1243 1437z"/>
<path class="c66" d="M1243 1437z"/>
<path class="c61" d="M1243 1437z"/>
<path class="c67" d="M1243 1437z"/>
<path class="c73" d="M1243 1437z"/>
<path class="c52" d="M1243 1437z"/>
<path class="c57" d="M1243 1437z"/>
<path class="c70" d="M1243 1437z"/>
<path class="c48" d="M1243 1437z"/>
<path class="c51" d="M1243 1437z"/>
<path class="c60" d="M1243 1437z"/>
<path class="c68" d="M1243 1437z"/>
<path class="c76" d="M1243 1437z"/>
<path class="c56" d="M1243 1437z"/>
<path class="c59" d="M1243 1437z"/>
<path class="c75" d="M1243 1437z"/>
<path class="c54" d="M1243 1437z"/>
<path class="c55" d="M1243 1437z"/>
<path class="c78" d="M1244 1444l8 30-8-30z"/>
<path class="c64" d="M1243 1437z"/>
<path class="c74" d="M1243 1437z"/>
<path class="c77" d="M1243 1437z"/>
<path class="c62" d="M1243 1437z"/>
<path class="c72" d="M1243 1437z"/>
<path class="c78" d="M1243 1437z"/>
<path class="c58" d="M1243 1437z"/>
<path class="c54" d="M1243 1394l1-17-2 12-1 27 1 6 0-19z"/>
<path class="c49" d="M1195 1329l-19-22-11-9-10-6-8-3 27 25 13 8z"/>
<path class="c63" d="M1243 1437z"/>
<path class="c63" d="M1243 1437l0-1 0 1z"/>
<path class="c63" d="M1243 1437l0-1 0 1z"/>
<path class="c63" d="M1243 1437l0-1 0 1z"/>
<path class="c63" d="M1243 1437l0-1 0 1z"/>
<path class="c71" d="M1243 1437l0-1 0 1z"/>
<path class="c63" d="M1243 1437l0-1 0 1z"/>
<path class="c63" d="M1243 1437l0-2 0 2z"/>
<path class="c63" d="M1243 1437l0-2 0 2z"/>
<path class="c58" d="M1242 1422l0 8-3-14 3 16z"/>
<path class="c48" d="M1249 1373l4-26-4 9-5 21-1 17 4-15z"/>
<path class="c71" d="M1243 1437l0-2 0 2z"/>
<path class="c63" d="M1243 1437l0-2 0 2z"/>
<path class="c62" d="M1255 1427l3 0 28-22 27-23-12 2-22 22-24 21z"/>
<path class="c63" d="M1243 1437l0-2 0 2z"/>
<path class="c63" d="M1243 1437l0-3 0 3z"/>
<path class="c63" d="M1243 1437l0-2 0 2z"/>
<path class="c58" d="M1243 1436l0 1z"/>
<path class="c63" d="M1243 1437l0-3 0 3z"/>
<path class="c71" d="M1243 1437l0-2 0 2z"/>
<path class="c63" d="M1243 1437l0-2 0 2z"/>
<path class="c65" d="M1390 1612l-34-20 5-2 36 18z"/>
<path class="c71" d="M1243 1437l0-3 0 3z"/>
<path class="c63" d="M1243 1437l0-3 0 3z"/>
<path class="c63" d="M1243 1437l0-3 0 3z"/>
<path class="c63" d="M1243 1437l0-3 0 3z"/>
<path class="c62" d="M1243 1437l1-4-1 4z"/>
<path class="c71" d="M1243 1437l0-3 0 3z"/>
<path class="c63" d="M1243 1437l0-3 0 3z"/>
<path class="c71" d="M1243 1437l0-3 0 3z"/>
<path class="c63" d="M1243 1437l0-3 0 3z"/>
<path class="c63" d="M1243 1437l0-3 0 3z"/>
<path class="c63" d="M1243 1437l0-3 0 3z"/>
<path class="c71" d="M1243 1437l0-3 0 3z"/>
<path class="c63" d="M1243 1437l0-3 0 3z"/>
<path class="c72" d="M1243 1436z"/>
<path class="c63" d="M1243 1437l0-3 0 3z"/>
<path class="c77" d="M1244 1489l-1-47 2 33z"/>
<path class="c63" d="M1243 1437l0-3 0 3z"/>
<path class="c63" d="M1243 1437l0-3 0 3z"/>
<path class="c71" d="M1243 1437l0-3 0 3z"/>
<path class="c71" d="M1243 1437l0-3 0 3z"/>
<path class="c78" d="M1243 1437l0-3 0 3z"/>
<path class="c58" d="M1243 1434l0 2z"/>
<path class="c51" d="M1226 1380l-16-30-15-21 26 40z"/>
<path class="c64" d="M1243 1436z"/>
<path class="c58" d="M1242 1427l0 5-2-10 3 12z"/>
<path class="c54" d="M1243 1435l0 1z"/>
<path class="c55" d="M1243 1436z"/>
<path class="c74" d="M1243 1437l0-1z"/>
<path class="c58" d="M1243 1431l-1-4 1 8z"/>
<path class="c77" d="M1243 1436z"/>
<path class="c52" d="M1290 1357l18-16 6-16 4-15 1-12-21 23-4 23z"/>
<path class="c73" d="M1222 1549l8-30 8-17-2 24-9 17z"/>
<path class="c62" d="M1243 1436l2-7-2 7z"/>
<path class="c56" d="M1243 1436z"/>
<path class="c55" d="M1240 1422l-5-19-9-23 12 33z"/>
<path class="c76" d="M1236 1526l2-24 6-27 0 14-5 26z"/>
<path class="c46" d="M1256 1361l9-30-4 4-8 12-4 26 5-10z"/>
<path class="c72" d="M1242 1433l-2-4 2 6z"/>
<path class="c59" d="M1243 1435l-2-6 2 6z"/>
<path class="c48" d="M1243 1434l0 1z"/>
<path class="c78" d="M1244 1447l8 27 3 10-10-38z"/>
<path class="c51" d="M1243 1435z"/>
<path class="c54" d="M1243 1430l0 1z"/>
<path class="c47" d="M1279 1347l19-26-1-8-2-7-3-5-16 30 3 9z"/>
<path class="c54" d="M1243 1409l0-15-1 9 0 19 0 5 1-12z"/>
<path class="c55" d="M1243 1434l-2-13 2 12z"/>
<path class="c75" d="M1243 1436z"/>
<path class="c60" d="M1243 1435l2-6-2 6z"/>
<path class="c78" d="M1243 1436l1-6-1 6z"/>
<path class="c64" d="M1244 1432l2-6-2 7z"/>
<path class="c72" d="M1126 1456l6 8 44-8 45-11-1-3-47 9z"/>
<path class="c62" d="M1243 1435l5-12-5 12z"/>
<path class="c62" d="M1253 1428l2-1 24-21 22-22-12 4-36 40z"/>
<path class="c64" d="M1393 1400l9 12-44 3-46 6-46 10-2-2 44-12 43-10z"/>
<path class="c52" d="M1243 1435l1-8-1 8z"/>
<path class="c46" d="M1243 1434l0-8 0 8z"/>
<path class="c68" d="M1243 1436l0-1z"/>
<path class="c54" d="M1243 1421l0-12 0 6 0 9z"/>
<path class="c56" d="M1278 1394l11-6 16-21 13-20 10-20-20 14-18 35z"/>
<path class="c68" d="M1176 1508l15-7-11 18-9 19-7 17-23 15 9-20 11-20z"/>
<path class="c57" d="M1243 1434l-2-8 2 8z"/>
<path class="c49" d="M1243 1434z"/>
<path class="c47" d="M1243 1434l1-8-1 8z"/>
<path class="c45" d="M1243 1434l1-10-1 10z"/>
<path class="c76" d="M1243 1435z"/>
<path class="c74" d="M1243 1436l-3-9 2 8z"/>
<path class="c53" d="M1060 1263l-36-6-2 11 4 13 8 15 35 3-7-14-3-12z"/>
<path class="c55" d="M1242 1427l-9-32 7 26z"/>
<path class="c55" d="M1242 1431l-5-21 5 18z"/>
<path class="c75" d="M1255 1484l7 16 17 30-16-29z"/>
<path class="c50" d="M1243 1434z"/>
<path class="c53" d="M1243 1434l-2-9 2 9z"/>
<path class="c72" d="M1240 1429l-3-5 4 8z"/>
<path class="c62" d="M1244 1434l9-19-5 8-4 11z"/>
<path class="c74" d="M1227 1447l3 0-26 21-23 23-21 23-16 2 25-24 28-23z"/>
<path class="c61" d="M1243 1434l2-8-2 8z"/>
<path class="c69" d="M1182 1570l19-27 2 5 2 4 3 2-15 32-5-3-4-5z"/>
<path class="c77" d="M1243 1432l0 2z"/>
<path class="c70" d="M1243 1435z"/>
<path class="c50" d="M1147 1289l-30-21-9 0-7 3-4 6 35 18 3-4 5-2z"/>
<path class="c56" d="M1244 1433l3-14-3 13z"/>
<path class="c62" d="M1250 1429l3-1 19-20 17-20-11 6-28 35z"/>
<path class="c48" d="M1243 1426l1-13-1 5 0 9z"/>
<path class="c67" d="M1243 1435l-2-8 2 8z"/>
<path class="c77" d="M1245 1503l0-43-1-16 2 22 0 19z"/>
<path class="c48" d="M1246 1395l3-22-2 6-4 15 0 15 2-10z"/>
<path class="c73" d="M1243 1434z"/>
<path class="c62" d="M1245 1433l15-25-7 7-8 18z"/>
<path class="c63" d="M1243 1434l2-8-2 8z"/>
<path class="c64" d="M1246 1426l5-7-7 15 1-5z"/>
<path class="c66" d="M1243 1434z"/>
<path class="c65" d="M1243 1434l2-8-2 8z"/>
<path class="c51" d="M1242 1430l-4-16 4 15z"/>
<path class="c62" d="M1248 1430l2-1 15-18 13-17-10 6-20 30z"/>
<path class="c60" d="M1523 1465l-1 8-5 14-33-14-38-12-42-10 3-13 43 7 39 9z"/>
<path class="c62" d="M1247 1431l21-31-8 8-14 23z"/>
<path class="c69" d="M1243 1434l-2-7 2 7z"/>
<path class="c45" d="M1263 1361l13-30-3-1-4 0-4 1-9 30 5-2z"/>
<path class="c59" d="M1241 1429l-3-8 3 10z"/>
<path class="c71" d="M1243 1434l-1-8 1 8z"/>
<path class="c78" d="M1243 1436l2-10-2 10z"/>
<path class="c78" d="M1245 1449l10 35 5 9-8-22-7-23z"/>
<path class="c48" d="M1244 1413l2-18-1 4-2 10 0 12 1-6z"/>
<path class="c46" d="M1244 1424l2-15-1 2-1 14z"/>
<path class="c72" d="M1237 1424l-5-6 9 15-2-4z"/>
<path class="c72" d="M1124 1446l2 10 47-5 47-8-1-3-48 5z"/>
<path class="c67" d="M1164 1555l22-19-4 13-1 11 1 10-23 26 0-12 1-14z"/>
<path class="c52" d="M1244 1429l4-15-4 14z"/>
<path class="c51" d="M1233 1395l-12-26-10-16 19 35z"/>
<path class="c74" d="M1242 1435l-6-14 4 6 1 5z"/>
<path class="c60" d="M1245 1429l4-10-5 11z"/>
<path class="c45" d="M1244 1424l3-16-1 1-2 15z"/>
<path class="c56" d="M1245 1429l7-18 1-5-4 9-3 10z"/>
<path class="c47" d="M1244 1426l4-14-1-4-3 17z"/>
<path class="c64" d="M1381 1391l12 9-42 7-43 10-44 12-1-1 40-15 39-13z"/>
<path class="c61" d="M1537 1576l-9 5-21 7-11-17-16-18-21-19 24-11 24 18 18 18z"/>
<path class="c46" d="M1250 1387l6-26-2 2-5 10-3 22 3-6z"/>
<path class="c49" d="M1241 1427l0-1z"/>
<path class="c51" d="M1241 1421l-9-24 8 22z"/>
<path class="c64" d="M1251 1419l7-9-13 23 4-10z"/>
<path class="c75" d="M1243 1434l3-11-3 9z"/>
<path class="c56" d="M1268 1400l10-6 12-18 18-35-18 16-13 29z"/>
<path class="c46" d="M1246 1409l4-22-1 2-3 6-2 18 1-3z"/>
<path class="c57" d="M1241 1426l-5-12 5 13z"/>
<path class="c51" d="M1237 1410l-7-22-7-12 13 29z"/>
<path class="c68" d="M1242 1432l-4-12 4 11z"/>
<path class="c77" d="M1243 1428l0 2z"/>
<path class="c72" d="M1232 1418l-8-5 15 19 2 1-5-7z"/>
<path class="c52" d="M1274 1374l16-17 4-13 4-23-19 26-2 17z"/>
<path class="c50" d="M1241 1425l-5-15-1 0 6 15z"/>
<path class="c59" d="M1005 1394l-7 19 38 10 43 8 45 6 4-10-45-9-41-11z"/>
<path class="c49" d="M1211 1353l-16-24-8-7-13-8 23 26 8 7z"/>
<path class="c53" d="M1241 1425l-6-14 6 14z"/>
<path class="c74" d="M1225 1447l2 0-30 22-28 23-25 24-15-1 29-24 32-23z"/>
<path class="c56" d="M1248 1423l5-8 7-16 2-8-9 15-3 11z"/>
<path class="c47" d="M1265 1371l14-24 0-7-3-9-13 30 2 6z"/>
<path class="c78" d="M1243 1435l4-12-2 3-2 9z"/>
<path class="c72" d="M1124 1437l0 9 47-1 49-4-1-3-48 1z"/>
<path class="c76" d="M1243 1429l0 1z"/>
<path class="c45" d="M1247 1408l6-21-2-1-1 1-4 22 1-1z"/>
<path class="c45" d="M1253 1387l10-26-4-2-3 2-6 26 3-1z"/>
<path class="c52" d="M1247 1419l7-17 1-8-7 18 0 5z"/>
<path class="c78" d="M1245 1450l15 43 5 8-11-25-8-26z"/>
<path class="c59" d="M1238 1421l-7-12 6 15 3 5-2-6z"/>
<path class="c77" d="M1245 1517l0-14 1-37-2-19 3 25 0 23z"/>
<path class="c64" d="M1258 1410l10-8-21 29 7-14z"/>
<path class="c56" d="M1260 1408l8-8 16-29 6-14-16 17-9 22z"/>
<path class="c47" d="M1248 1412l7-18-2-7-6 21 1 3z"/>
<path class="c56" d="M1253 1415l7-7 10-23 4-11-12 17-5 16z"/>
<path class="c61" d="M1245 1426l5-11-5 12z"/>
<path class="c70" d="M1293 1549l-14-19 18 22 32 31-12-9-12-11z"/>
<path class="c74" d="M1242 1434l-13-20 7 7 3 9z"/>
<path class="c64" d="M1366 1384l15 7-39 9-39 13-40 15-3-1 36-17 35-14z"/>
<path class="c76" d="M1232 1550l4-24 6-24 2-13 1 14-8 33z"/>
<path class="c71" d="M1193 1586l15-32 4 1 5-2 5-4-10 30-7 5-7 2z"/>
<path class="c49" d="M1238 1414l-6-17-4-7 10 22z"/>
<path class="c72" d="M1224 1413l-9-6 22 24 2 1-7-9z"/>
<path class="c57" d="M1000 1300l-20 7-9 4 16 17 22 18 28 18 23-10-25-18-20-18z"/>
<path class="c70" d="M1244 1430l4-13-4 12z"/>
<path class="c47" d="M1255 1394l10-23-2-10-10 26 2 4z"/>
<path class="c52" d="M1262 1391l12-17 3-10 2-17-14 24-1 13z"/>
<path class="c52" d="M1253 1406l9-15 2-7 1-13-10 23-1 8z"/>
<path class="c75" d="M1260 1493l-5-9 8 17 8 15 22 33-12-17-11-19z"/>
<path class="c67" d="M1241 1429l-3-10 0-3 1 4 2 8z"/>
<path class="c64" d="M1268 1402l13-9-33 37 13-19z"/>
<path class="c72" d="M1128 1427l-4 10 47 2 49 0 0-3-46-3z"/>
<path class="c60" d="M1249 1419l8-12-6 12-5 7 2-5z"/>
<path class="c63" d="M1245 1426l5-12-5 12z"/>
<path class="c49" d="M1223 1376l-12-23-6-6-8-7 18 26 5 6z"/>
<path class="c64" d="M1349 1380l17 4-35 12-35 14-36 17-2 0 31-18 30-15z"/>
<path class="c73" d="M1212 1579l10-30 9-14 5-9-4 24-6 12-7 10z"/>
<path class="c73" d="M1242 1427l-2-10 1 3 1 8z"/>
<path class="c49" d="M1232 1397l-9-21-8-10 16 28z"/>
<path class="c72" d="M1215 1407l-11-4 31 28 2 0-11-11z"/>
<path class="c66" d="M1244 1427l6-13-5 13z"/>
<path class="c68" d="M1160 1514l16-6-15 22-11 20-9 20-24 11 11-22 14-22z"/>
<path class="c65" d="M1245 1426l5-12-5 12z"/>
<path class="c50" d="M1236 1410l-8-20-1-1-1 1 10 20z"/>
<path class="c66" d="M1354 1603l-25-20 11 6 9 3 7 0 34 20-10 0-12-2z"/>
<path class="c57" d="M1236 1414l-10-17 5 12 7 12-2-5z"/>
<path class="c63" d="M1470 1628l-37-7 5-7 1-11-4-13 37 2 4 15 0 11z"/>
<path class="c78" d="M1243 1434l7-14-3 3-3 11z"/>
<path class="c77" d="M1243 1423l1-5 0 5-1 12 0-8z"/>
<path class="c64" d="M1281 1393l15-6-30 26-16 16-2 1 22-25z"/>
<path class="c50" d="M1174 1314l-27-25-7 0-5 2-3 4 31 23 2-4 4-1z"/>
<path class="c74" d="M1223 1446l2 1-35 21-32 23-29 24-13-5 32-23 36-22z"/>
<path class="c69" d="M1241 1427l-3-11 1-1 2 12z"/>
<path class="c72" d="M1134 1418l-6 9 46 6 46 4 1-3-43-6z"/>
<path class="c64" d="M1331 1380l18 0-30 14-30 15-31 18-3 0 26-18 25-16z"/>
<path class="c75" d="M1244 1430l6-15-5 13z"/>
<path class="c59" d="M1231 1409l-11-13 12 22 5 6-5-10z"/>
<path class="c78" d="M1246 1452l8 24 11 25 6 7-14-28-10-28z"/>
<path class="c53" d="M1235 1410l-9-20 0 2 0 5 10 17-1-3z"/>
<path class="c71" d="M1242 1426l-3-10 3 10z"/>
<path class="c64" d="M1296 1387l17-5-40 29-20 17-3 1 31-30z"/>
<path class="c74" d="M1241 1433l-21-25 9 6 7 12z"/>
<path class="c72" d="M1204 1403l-12-2 41 29 2 1-15-14z"/>
<path class="c64" d="M1313 1382l18-2-50 29-26 18-2 1 40-33z"/>
<path class="c53" d="M1097 1277l-37-14-1 10 3 12 7 14 35 8-5-12-3-10z"/>
<path class="c68" d="M1240 1427l-4-6-4-11 6 10 1 5z"/>
<path class="c60" d="M1523 1442l1 8-1 15-34-11-39-9-43-7 0-14 43 4 39 6z"/>
<path class="c72" d="M1143 1411l-9 7 44 10 44 7 1-2-40-10z"/>
<path class="c77" d="M1246 1529l-1-12 2-22 0-23-2-23 3 28 1 27z"/>
<path class="c59" d="M1019 1377l-14 17 37 13 41 11 45 9 6-9-42-11-39-14z"/>
<path class="c72" d="M1192 1401l-13-1 51 31 3-1-20-14z"/>
<path class="c65" d="M1425 1626l-35-14 7-4 36 13z"/>
<path class="c72" d="M1154 1405l-11 6 40 12 40 10 2-1-35-13z"/>
<path class="c72" d="M1179 1400l-12 2 61 29 2-1-25-14z"/>
<path class="c50" d="M1228 1390l-13-24-2-1-2 2 15 23 1-1z"/>
<path class="c72" d="M1167 1402l-13 3 72 27 2-1-31-14z"/>
<path class="c76" d="M1242 1422l-1-9 2 6 0 9-1-5z"/>
<path class="c50" d="M1197 1340l-23-26-5-1-4 1-2 4 27 25 1-3 2-1z"/>
<path class="c69" d="M1159 1596l23-26 2 8 4 5 5 3-19 30-7-4-5-7z"/>
<path class="c60" d="M1257 1407l12-13-11 16-7 9 4-9z"/>
<path class="c78" d="M1244 1434l10-15-4 1-6 14z"/>
<path class="c61" d="M1250 1415l10-15-3 7-8 12 1-3z"/>
<path class="c50" d="M1215 1366l-18-26-4-1-2 1-1 3 21 24 2-2z"/>
<path class="c59" d="M1220 1396l-15-13 19 30 8 5-9-14z"/>
<path class="c57" d="M1226 1397l-14-19 8 18 11 13-3-8z"/>
<path class="c74" d="M1239 1432l-30-29 11 5 12 16z"/>
<path class="c74" d="M1221 1445l2 1-39 19-36 22-32 23-10-7 35-22 38-19z"/>
<path class="c67" d="M1141 1570l23-15-4 15-1 14 0 12-25 23 0-14 2-17z"/>
<path class="c78" d="M1247 1453l10 27 14 28 5 5-16-30-12-30z"/>
<path class="c53" d="M1226 1390l-15-23-1 3 2 8 14 19 0-5z"/>
<path class="c77" d="M1244 1418l0-3 1 6-2 13 1-11z"/>
<path class="c57" d="M1034 1296l-34 4 15 18 20 18 25 18 25-5-21-18-18-18z"/>
<path class="c70" d="M1246 1423l9-17-8 15z"/>
<path class="c75" d="M1265 1501l-5-8 10 20 11 19 12 17 15 16-16-19-14-21z"/>
<path class="c76" d="M1228 1574l4-24 10-30 3-17 0 14-4 21-5 19z"/>
<path class="c61" d="M1562 1558l-7 7-18 11-12-17-18-18-24-18 20-16 26 17 20 17z"/>
<path class="c53" d="M1132 1295l-35-18-1 8 3 10 5 12 33 14-4-10-2-9z"/>
<path class="c59" d="M1037 1364l-18 13 34 16 39 14 42 11 9-7-38-14-36-16z"/>
<path class="c67" d="M1238 1420l-7-12 0-4 3 4 4 8 0 3z"/>
<path class="c63" d="M1250 1414l10-15-10 15z"/>
<path class="c77" d="M1247 1539l-1-10 3-25-1-27-3-27 5 31 0 30z"/>
<path class="c75" d="M1245 1426l11-19-6 8-3 7z"/>
<path class="c70" d="M1308 1565l-15-16 12 14 12 11 37 29-15-9-15-13z"/>
<path class="c78" d="M1244 1433l15-14-5 0-10 14z"/>
<path class="c59" d="M1205 1383l-19-12 29 36 9 6-13-20z"/>
<path class="c53" d="M1211 1367l-21-24-1 3 3 12 20 20-2-8z"/>
<path class="c68" d="M1144 1516l16-2-18 23-14 22-11 22-24 7 13-24 17-24z"/>
<path class="c74" d="M1237 1431l-41-31 13 3 18 18z"/>
<path class="c68" d="M1236 1421l-7-7-7-14 10 10 2 7z"/>
<path class="c66" d="M1248 1417l11-17-10 16z"/>
<path class="c74" d="M1220 1443l1 2-42 17-38 19-35 22-7-11 36-18 41-17z"/>
<path class="c65" d="M1250 1414l9-14-9 14z"/>
<path class="c60" d="M1515 1419l3 8 5 15-34-8-39-6-43-4-5-12 42-1 38 3z"/>
<path class="c57" d="M1212 1378l-20-20 13 25 15 13-6-12z"/>
<path class="c60" d="M1269 1394l17-14-18 22-10 8 8-12z"/>
<path class="c73" d="M1240 1417l-3-11 3 4 1 8z"/>
<path class="c78" d="M1247 1453l13 30 16 30 5 1-18-30-15-31z"/>
<path class="c53" d="M1163 1318l-31-23-1 7 2 9 4 10 30 17-4-15z"/>
<path class="c53" d="M1190 1343l-27-25 0 5 4 15 25 20-3-12z"/>
<path class="c71" d="M1174 1616l19-30 5 0 7-2 7-5-11 29-10 6-9 3z"/>
<path class="c69" d="M1238 1416l-7-12 2-1 6 12-1 1z"/>
<path class="c59" d="M1060 1354l-23 10 32 17 36 16 38 14 11-6-34-16-32-17z"/>
<path class="c57" d="M1069 1299l-35-3 12 17 18 18 21 18 27 0-18-18-14-17z"/>
<path class="c77" d="M1244 1415l0-2 2 7 0 6-2 8 1-13z"/>
<path class="c73" d="M1201 1608l11-29 7-7 7-10 6-12-4 24-8 14-10 12z"/>
<path class="c59" d="M1186 1371l-23-11 13 14 28 29 11 4-20-24z"/>
<path class="c71" d="M1239 1415l-6-12 1 0 3 3 2 10z"/>
<path class="c61" d="M1260 1400l15-15-6 9-12 13 2-5z"/>
<path class="c74" d="M1235 1431l-2-1-52-31 15 1 25 19z"/>
<path class="c57" d="M1192 1358l-25-20 5 10 14 23 19 12-10-17z"/>
<path class="c78" d="M1245 1433l1 1 18-13-5-2-14 14z"/>
<path class="c74" d="M1220 1441l0 2-44 14-41 17-36 18-4-12 38-15 42-13z"/>
<path class="c66" d="M1381 1619l-27-16 14 7 12 2 10 0 35 14-12 1-15-2z"/>
<path class="c76" d="M1241 1413l-2-8 3 8 1 10-1-7z"/>
<path class="c63" d="M1505 1626l-11 1-24 1 6-10 0-11-4-15 24-2 11-2 5 15-1 13z"/>
<path class="c59" d="M1085 1349l-25 5 28 18 32 17 34 16 13-3-30-17-27-18z"/>
<path class="c59" d="M1163 1360l-25-8 17 17 37 32 12 2-28-29z"/>
<path class="c78" d="M1248 1453l15 31 18 30 1 1 3-1-20-30-16-31z"/>
<path class="c77" d="M1248 1546l-1-7 3-28 0-30-4-29 5 32 0 32z"/>
<path class="c60" d="M1286 1380l22-12-27 25-13 9 13-16z"/>
<path class="c57" d="M1104 1307l-35-8 11 15 14 17 18 18 26 3-25-31z"/>
<path class="c59" d="M1138 1352l-26-3 20 17 47 34 13 1-37-32z"/>
<path class="c57" d="M1167 1338l-30-17 16 25 10 14 23 11-14-23z"/>
<path class="c59" d="M1112 1349l-27 0 25 18 27 18 30 17 12-2-47-34z"/>
<path class="c60" d="M1499 1398l16 21-33-5-38-3-42 1-9-12 39-3 36-1z"/>
<path class="c74" d="M1233 1430l-3 1-23-12-42-17 16-3 33 20z"/>
<path class="c75" d="M1271 1508l-6-7 13 24 14 21 16 19 15 13-19-21-18-23z"/>
<path class="c57" d="M1137 1321l-33-14 9 14 11 15 14 16 25 8-19-27z"/>
<path class="c74" d="M1220 1439l0 2-45 11-42 13-38 15 1-14 37-11 42-9z"/>
<path class="c65" d="M1460 1633l-35-7 8-5 37 7z"/>
<path class="c75" d="M1247 1423l18-23-9 7-6 10z"/>
<path class="c70" d="M1250 1415l16-21-8 7-6 10z"/>
<path class="c78" d="M1245 1434l2 1 22-9-5-5-18 13z"/>
<path class="c76" d="M1224 1595l4-21 8-17 5-19 4-21 1 12-5 24-8 22z"/>
<path class="c68" d="M1229 1414l-9-6-12-17 14 9 4 9z"/>
<path class="c77" d="M1244 1413l3 7 0 7-3 6 2-13z"/>
<path class="c67" d="M1117 1581l24-11-5 18-2 17 0 14-26 17-1-16 3-18z"/>
<path class="c78" d="M1248 1452l17 32 20 30 4-4-22-28-18-30z"/>
<path class="c69" d="M1134 1619l25-23 3 9 5 7 7 4-21 27-8-5-7-8z"/>
<path class="c74" d="M1230 1431l-2 0-29-10-50-14 16-5 42 17z"/>
<path class="c63" d="M1260 1399l15-16-15 16z"/>
<path class="c61" d="M1579 1534l-5 9-12 15-13-17-20-17-26-17 14-20 27 16 21 15z"/>
<path class="c67" d="M1232 1410l-10-10-1-4 0-4 4 4 6 8 0 4z"/>
<path class="c68" d="M1129 1515l15 1-21 24-17 24-13 24-23 0 15-24 20-25z"/>
<path class="c74" d="M1220 1437l0 2-45 7-42 9-37 11 4-14 37-7 40-6z"/>
<path class="c60" d="M1308 1368l25-9-37 28-15 6 19-18z"/>
<path class="c74" d="M1228 1431l-2 1-34-8-31-5-28-4 16-8 50 14z"/>
<path class="c60" d="M1478 1380l21 18-31-2-36 1-39 3-12-9 36-7 33-3z"/>
<path class="c74" d="M1222 1435l-2 2-43 2-40 6-37 7 8-14 35-3 38-1z"/>
<path class="c66" d="M1255 1406l18-21-16 18z"/>
<path class="c70" d="M1323 1578l-15-13 16 16 15 13 24 15 18 10-18-10-20-14z"/>
<path class="c65" d="M1259 1400l1-1z"/>
<path class="c78" d="M1246 1435l0 1 28-3-5-7-22 9z"/>
<path class="c77" d="M1248 1550l0-4 3-30 0-32-4-31 5 33 1 32z"/>
<path class="c61" d="M1275 1385l21-15-10 10-17 14 5-7z"/>
<path class="c74" d="M1226 1432l-3 1-37-5-35-2-31 0 13-11 28 4 31 5z"/>
<path class="c74" d="M1223 1433l-1 2-41-1-38 1-35 3 12-12 31 0 35 2z"/>
<path class="c78" d="M1248 1451l0 1 1 0 18 30 22 28 2-6-23-26-18-27z"/>
<path class="c73" d="M1237 1406l-5-11 5 6 3 6 1 6-3-5z"/>
<path class="c60" d="M1333 1359l29-5-31 16-18 12-17 5 26-20z"/>
<path class="c60" d="M1452 1366l26 14-28 1-33 3-36 7-15-7 32-9 29-6z"/>
<path class="c78" d="M1246 1436l1 2 32 3-5-8-27 3z"/>
<path class="c77" d="M1245 1414l3 9 0 6-3 4 2-6 0-7z"/>
<path class="c76" d="M1239 1405l-3-6 6 10 2 6 0 3-3-9z"/>
<path class="c69" d="M1231 1404l-10-12 0-1 4-1 8 13-2 0z"/>
<path class="c78" d="M1248 1449l0 2 2 0 18 27 23 26 1-8-24-23-18-24z"/>
<path class="c60" d="M1362 1354l31-1-39 15-23 12-18 2 35-21z"/>
<path class="c75" d="M1276 1513l-5-5 15 26 18 23 19 21 16 8-23-22-21-24z"/>
<path class="c71" d="M1233 1403l-8-13 2 1 5 4 5 11-3-3z"/>
<path class="c60" d="M1423 1357l29 9-25 3-29 6-32 9-17-4 27-10 25-8z"/>
<path class="c73" d="M1188 1635l13-27 9-8 10-12 8-14-4 21-11 16-12 14z"/>
<path class="c71" d="M1153 1643l21-27 8 1 9-3 10-6-13 27-12 6-12 3z"/>
<path class="c60" d="M1393 1353l30 4-22 5-25 8-27 10-18 0 43-21z"/>
<path class="c75" d="M1250 1420l4-1 22-23-11 4-10 13z"/>
<path class="c68" d="M1220 1408l-11-5-18-19 17 7 7 10z"/>
<path class="c78" d="M1247 1438l1 2 16 6 20 6-5-11-31-3z"/>
<path class="c78" d="M1248 1447l0 2 2 0 18 24 24 23 0-11-24-18-18-20z"/>
<path class="c77" d="M1249 1549l4-31-1-32-5-33 6 33 1 32z"/>
<path class="c66" d="M1408 1628l-27-9 17 6 15 2 12-1 35 7-14 2-18-1z"/>
<path class="c63" d="M1536 1616l-10 5-21 5 6-10 1-13-5-15 21-7 9-5 6 16 0 13z"/>
<path class="c78" d="M1248 1440l0 3 1 0 17 10 22 10-4-11-20-6-15-6z"/>
<path class="c78" d="M1248 1445l0 2 2 0 18 20 24 18-1-11-24-14-17-15z"/>
<path class="c68" d="M1116 1510l13 5-24 24-20 25-15 24-20-5 16-24 23-25z"/>
<path class="c78" d="M1248 1443l0 2 2 0 17 15 24 14-3-11-22-10-17-10z"/>
<path class="c70" d="M1256 1407l9-7 16-17-15 11-7 8z"/>
<path class="c61" d="M1588 1507l-2 9-7 18-14-16-21-15-27-16 5-14 1-8 29 13 21 14z"/>
<path class="c76" d="M1219 1612l5-17 9-20 8-22 5-24 1 10-7 27-9 24z"/>
<path class="c61" d="M1296 1370l26-13-14 11-22 12 8-8z"/>
<path class="c63" d="M1275 1384l22-15-22 16 0-2z"/>
<path class="c77" d="M1246 1418l1 7 3 3-1 4-3 3-1-1 3-5 0-6z"/>
<path class="c67" d="M1222 1400l-14-9-1-4-1-5 5 3 10 7 0 4z"/>
<path class="c65" d="M1493 1633l-10 1-23-1 10-5 24-1 11-1z"/>
<path class="c67" d="M1093 1588l24-7-7 21-3 18 1 16-26 11-1-17 3-20z"/>
<path class="c77" d="M1249 1545l5-27-1-32-5-33 6 31 1 31z"/>
<path class="c65" d="M1273 1385l22-15-20 14z"/>
<path class="c66" d="M1266 1394l15-11 12-11-14 8-10 10z"/>
<path class="c70" d="M1339 1586l-16-8 20 17 20 14 18 10 27 9-22-10-24-14z"/>
<path class="c69" d="M1108 1636l26-17 4 11 7 8 8 5-21 21-11-6-8-9z"/>
<path class="c68" d="M1209 1403l-13-3-25-19 20 3 11 12z"/>
<path class="c77" d="M1247 1425l0 10 4 1-5 0 0-1 3-3 1-4z"/>
<path class="c75" d="M1281 1514l-5-1 19 27 21 24 23 22 14 3-26-22-24-25z"/>
<path class="c75" d="M1254 1419l5 0 30-23-13 0-15 15z"/>
<path class="c76" d="M1236 1399l-3-3 9 11 2 6 0 2-4-11z"/>
<path class="c73" d="M1232 1395l-8-8 9 7 4 6 2 5-5-7z"/>
<path class="c68" d="M1106 1503l10 7-27 24-23 25-16 24-16-11 18-24 24-23z"/>
<path class="c77" d="M1250 1537l-1 8 6-30-1-31-6-32 7 28 0 29z"/>
<path class="c61" d="M1322 1357l32-9-21 11-25 9 11-9z"/>
<path class="c61" d="M1587 1477l1 10 0 20-15-15-21-14-29-13 1-15-1-8 28 10 22 12z"/>
<path class="c69" d="M1221 1392l-15-10 1-2 6 1 12 9-4 1z"/>
<path class="c77" d="M1247 1435l1 13 4-3 0-4-5-3-1-2 5 0z"/>
<path class="c63" d="M1560 1599l-7 7-17 10 7-11 0-13-6-16 18-11 7-7 6 16 0 14z"/>
<path class="c71" d="M1225 1390l-12-9 3 1 8 5 8 8-5-4z"/>
<path class="c73" d="M1175 1656l13-21 13-10 12-14 11-16-5 17-14 19-15 14z"/>
<path class="c70" d="M1265 1400l11-4 24-20-19 7-11 11z"/>
<path class="c63" d="M1295 1370l26-12 3-2-28 13z"/>
<path class="c76" d="M1215 1625l4-13 12-22 9-24 7-27 1 7-8 29-11 26z"/>
<path class="c77" d="M1250 1526l0 11 5-28 0-29-7-31 7 26 1 26z"/>
<path class="c66" d="M1433 1630l-25-2 20 6 18 1 14-2 23 1 10-1-16 3-20-1z"/>
<path class="c71" d="M1132 1664l21-21 11 1 12-3 12-6-13 21-16 7-14 3z"/>
<path class="c77" d="M1248 1448l1 15 4-7 0-8-6-10 5 3 0 4z"/>
<path class="c68" d="M1196 1400l-15-1-33-17 23-1 14 11z"/>
<path class="c67" d="M1208 1391l-17-7-3-4 0-5 12 4 6 3 1 5z"/>
<path class="c77" d="M1250 1511l0 15 6-25-1-26-7-28 7 22 1 21z"/>
<path class="c61" d="M1354 1348l35-4-15 4-12 6-29 5 16-9z"/>
<path class="c75" d="M1285 1514l-4 0 22 28 24 25 26 22 13-2-29-21-27-25z"/>
<path class="c75" d="M1259 1419l5 2 39-22-14-3-21 15z"/>
<path class="c67" d="M1070 1588l23 0-9 22-3 20 1 17-17 3-8 1-1-19 4-21z"/>
<path class="c65" d="M1523 1624l-9 4-21 5 12-7 21-5 10-5z"/>
<path class="c77" d="M1249 1463l0 16 5-12 0-12-6-15 5 8 0 8z"/>
<path class="c61" d="M1577 1447l4 10 6 20-14-13-22-12-28-10-5-15-3-8 27 8 21 9z"/>
<path class="c68" d="M1099 1492l7 11-30 22-24 23-18 24-12-17 20-21 25-22z"/>
<path class="c65" d="M1293 1372l25-11 3-3-26 12z"/>
<path class="c77" d="M1250 1496l0 15 6-21-1-21-7-24 7 17 0 17z"/>
<path class="c77" d="M1249 1479l1 17 5-17 0-17-7-19 6 12 0 12z"/>
<path class="c66" d="M1281 1383l19-7 18-15-25 11-8 7z"/>
<path class="c70" d="M1353 1589l-14-3 23 18 24 14 22 10 25 2-25-9-27-14z"/>
<path class="c76" d="M1233 1396l-4 1 12 11 4 6-7-13z"/>
<path class="c69" d="M1082 1647l26-11 5 13 8 9 11 6-22 14-13-6-9-11z"/>
<path class="c61" d="M1389 1344l37 2-7 0-11 2-15 5-31 1 21-9z"/>
<path class="c68" d="M1181 1399l-16 3-42-14 25-6 19 10z"/>
<path class="c73" d="M1224 1387l-9-5 13 9 8 8-7-9z"/>
<path class="c61" d="M1558 1417l8 10 11 20-14-11-21-9-27-8-16-21 26 5 20 6z"/>
<path class="c63" d="M1321 1358l32-6 3-4-2 0-31 9z"/>
<path class="c63" d="M1578 1576l-5 8-13 15 8-11 0-14-6-16 12-15 5-9 7 16-1 14z"/>
<path class="c68" d="M1095 1480l4 12-32 20-25 22-20 21-5-21 20-19 26-18z"/>
<path class="c75" d="M1264 1421l5 5 50-18-16-9-27 15z"/>
<path class="c70" d="M1276 1396l13 0 33-23-22 3-16 13z"/>
<path class="c75" d="M1289 1510l-4 4 25 27 27 25 29 21 11-9-32-19-30-23z"/>
<path class="c76" d="M1210 1631l19-30 11-26 8-29 0 4-9 30-12 27z"/>
<path class="c69" d="M1206 1382l-18-7 5-1 10 2 10 5-6-1z"/>
<path class="c61" d="M1426 1346l38 9-9-1-14 0-18 3-30-4 26-7z"/>
<path class="c61" d="M1532 1392l19 16 7 9-13-8-20-6-26-5-21-18 24 2 18 4z"/>
<path class="c66" d="M1456 1625l-7 2-16 3 24 5 20 1 27-5 19-7-18 5-23 0z"/>
<path class="c67" d="M1191 1384l-20-3-4-4-2-3 1-1 15 0 7 2 0 5z"/>
<path class="c61" d="M1464 1355l36 16-10-4-17-2-21 1-29-9 18-3 14 0z"/>
<path class="c68" d="M1165 1402l-16 5-21-4-30-3 25-12 24 8z"/>
<path class="c73" d="M1162 1671l13-15 15-11 15-14 14-19-4 13-17 19-18 16z"/>
<path class="c61" d="M1500 1371l22 13 10 8-12-6-18-4-24-2-26-14 21-1 17 2z"/>
<path class="c71" d="M1213 1381l-16-6 27 12-8-5z"/>
<path class="c67" d="M1050 1583l20 5-10 23-4 21 1 19-15-2-6-3-2-19 5-21z"/>
<path class="c65" d="M1318 1361l30-5 5-4-32 6z"/>
<path class="c68" d="M1096 1466l-1 14-32 17-26 18-20 19 0-23 20-16 27-15z"/>
<path class="c65" d="M1547 1608l-8 6-16 10 22-12 15-13z"/>
<path class="c71" d="M1110 1678l22-14 13 2 14-3 16-7-13 15-19 7-17 3z"/>
<path class="c70" d="M1366 1587l-13 2 28 18 27 14 25 9 8-1 15-4-29-9-30-12z"/>
<path class="c76" d="M1229 1397l-4 7 16 9 5 5-1-4-4-6-5-5z"/>
<path class="c66" d="M1300 1376l22-3 26-17-30 5-11 9z"/>
<path class="c75" d="M1269 1426l5 7 61-13-16-12-35 12z"/>
<path class="c75" d="M1291 1504l-2 6 26 26 30 23 32 19 7-13-34-17-31-21z"/>
<path class="c68" d="M1149 1407l-16 8-24-1-19 0-15 2 23-16 30 3z"/>
<path class="c63" d="M1353 1352l35-1 3-4 1-2-3-1-24 2-11 2 2 0-1 1z"/>
<path class="c68" d="M1100 1452l-4 14-32 14-27 15-20 16 7-26 19-12 26-11z"/>
<path class="c63" d="M1586 1547l-2 10-6 19 7-12 1-14-7-16 7-18 2-9 7 14-1 14z"/>
<path class="c68" d="M1133 1415l-13 11-28 2-22 3-16 6 21-21 15-2 19 0z"/>
<path class="c68" d="M1108 1438l-8 14-31 10-26 11-19 12 12-25 19-9 24-7z"/>
<path class="c76" d="M1206 1630l4 1 17-24 12-27 9-30-9 29-14 27z"/>
<path class="c70" d="M1289 1396l14 3 45-23-26-3-22 15z"/>
<path class="c68" d="M1120 1426l-12 12-29 6-24 7-19 9 18-23 16-6 22-3z"/>
<path class="c69" d="M1057 1651l8-1 17-3 6 14 9 11 13 6-14 6-7 1-14-8-11-11z"/>
<path class="c73" d="M1215 1382l-11 2 25 13 4-1-12-10z"/>
<path class="c75" d="M1274 1433l5 8 45-1 26-3-15-17-43 9z"/>
<path class="c75" d="M1292 1496l-1 8 28 23 31 21 34 17 3-17-34-15-32-17z"/>
<path class="c67" d="M1171 1381l-23 1-8-5 9-2 17-2-1 1 2 3z"/>
<path class="c66" d="M1474 1612l-6 5-12 8 26 4 23 0 18-5 16-10 8-6-20 6-25 1z"/>
<path class="c69" d="M1188 1375l-22-2 13 2 18 0-7-1z"/>
<path class="c65" d="M1348 1356l33 0 7-5-35 1z"/>
<path class="c76" d="M1225 1404l-5 12 21 6 6 3-1-7-12-9z"/>
<path class="c67" d="M1034 1572l16 11-11 23-5 21 2 19-13-7-5-5-1-19 5-21z"/>
<path class="c63" d="M1388 1351l37 6 4-5 1-4-4-2-37-2 3 1-1 2z"/>
<path class="c65" d="M1563 1585l-5 9-11 14 13-9 13-15 5-8z"/>
<path class="c70" d="M1377 1578l-11 9 31 17 30 12 29 9 12-8 6-5-32-7-32-11z"/>
<path class="c75" d="M1279 1441l5 11 24 3 27 2 29 1-14-21-49 4z"/>
<path class="c66" d="M1322 1373l26 3 33-20-33 0-16 11z"/>
<path class="c75" d="M1292 1485l0 11 29 20 32 17 34 15 1-7-1-14-35-11-32-14z"/>
<path class="c63" d="M1586 1514l1 11-1 22 8-12 1-14-7-14 0-20-1-10 7 13 0 13z"/>
<path class="c73" d="M1149 1679l8-4 23-15 18-16 17-19-3 4-21 22-20 16z"/>
<path class="c71" d="M1197 1375l-18 0 25 9 11-2-12-5z"/>
<path class="c75" d="M1284 1452l4 11 26 8 29 6 32 3-11-22-29-1-27-2z"/>
<path class="c75" d="M1291 1474l1 11 28 17 32 14 35 11-1-8-3-15-34-8-31-10z"/>
<path class="c76" d="M1203 1623l3 7 19-24 14-27 10-34-10 29-16 26z"/>
<path class="c75" d="M1288 1463l3 11 27 12 31 10 34 8-8-24-32-3-29-6z"/>
<path class="c71" d="M1089 1685l7-1 14-6 16 3 17-3 19-7-9 6-25 9-21 2z"/>
<path class="c70" d="M1303 1399l16 9 56-23-27-9-30 16z"/>
<path class="c63" d="M1425 1357l38 13 5-6 1-5-5-4-38-9 4 2-1 4z"/>
<path class="c63" d="M1576 1480l4 12 6 22 8-11 0-13-7-13-6-20-4-10 7 11-1 11z"/>
<path class="c67" d="M1148 1382l-25 6-6-1-3 0 1 1 26-11-1 0 2 2z"/>
<path class="c76" d="M1220 1416l-4 18 31 1 0-10-15-6z"/>
<path class="c65" d="M1381 1356l36 7 8-6-37-6z"/>
<path class="c66" d="M1486 1593l-3 7-9 12 28 3 25-1 20-6 11-14 5-9-21 7-26 2z"/>
<path class="c73" d="M1204 1384l-13 7 34 13 4-7-16-9z"/>
<path class="c69" d="M1036 1646l6 3 15 2 7 15 11 11 14 8-12-1-22-10-12-12z"/>
<path class="c67" d="M1022 1555l12 17-12 22-5 21 1 19-9-13-3-7-2-18 6-20z"/>
<path class="c65" d="M1571 1557l-1 10-7 18 15-9 6-19 2-10z"/>
<path class="c70" d="M1384 1565l-7 13 33 16 32 11 32 7 9-12 3-7-33-5-34-9z"/>
<path class="c63" d="M1463 1370l36 20 6-7 0-7-5-5-36-16 5 4-1 5z"/>
<path class="c66" d="M1348 1376l27 9 30-15 12-7-36-7-20 13z"/>
<path class="c63" d="M1557 1447l13 22 6 11 7-11 1-11-12-21-14-20 7 10-1 10z"/>
<path class="c69" d="M1166 1373l-25 4 18 4 20-6-11-3z"/>
<path class="c76" d="M1201 1609l2 14 20-23 16-26 10-29 1-8-11 26-17 25z"/>
<path class="c63" d="M1499 1390l22 17 10 9 7-9 0-8-6-7-10-8-22-13 5 5 0 7z"/>
<path class="c63" d="M1531 1416l18 20 8 11 7-10 1-10-14-19-19-16 6 7 0 8z"/>
<path class="c70" d="M1319 1408l16 12 45-12 22-7-27-16-37 16z"/>
<path class="c73" d="M1138 1678l3 1 8 0 22-12 20-16 19-20-4-1-21 20-23 16z"/>
<path class="c76" d="M1216 1434l-5 22 16-2 21-6-1-13-18 0z"/>
<path class="c67" d="M1123 1388l-25 12-8 0-3 2 1 3 27-17-1-1 3 0z"/>
<path class="c65" d="M1417 1363l36 14 10-7-38-13z"/>
<path class="c71" d="M1179 1375l-20 6 32 10 13-7-17-7z"/>
<path class="c65" d="M1571 1524l1 11-1 22 15-10 1-22-1-11z"/>
<path class="c70" d="M1387 1548l-3 17 35 14 34 9 33 5 5-16 2-8-34-4-36-7z"/>
<path class="c67" d="M1017 1534l5 21-12 21-6 20 2 18-5-17-3-26 6-18z"/>
<path class="c66" d="M1493 1569l-2 8-5 16 30 1 26-2 21-7 7-18 1-10-21 7-27 4z"/>
<path class="c76" d="M1200 1589l1 20 21-21 17-25 11-26 0-11-12 23-16 22z"/>
<path class="c71" d="M1071 1682l6 2 30 4 21-2 21-7-8 0-3-1-24 6-23 1z"/>
<path class="c66" d="M1375 1385l27 16 37-16 14-8-36-14-26 15z"/>
<path class="c70" d="M1335 1420l15 17 53-9 25-6-26-21-44 14z"/>
<path class="c76" d="M1211 1456l-4 25 18-5 14-6 10-7-1-15-21 6z"/>
<path class="c73" d="M1191 1391l-13 15 42 10 5-12-22-9z"/>
<path class="c69" d="M1018 1634l5 5 13 7 7 16 12 12 16 8-10-7-5-5-17-8-14-12z"/>
<path class="c65" d="M1453 1377l34 21 12-8-36-20z"/>
<path class="c67" d="M1098 1400l-23 16-10 3-4 5 1 5 26-24-1-3 3-2z"/>
<path class="c65" d="M1561 1490l4 12 6 22 15-10-6-22-4-12z"/>
<path class="c70" d="M1387 1527l0 21 36 10 36 7 34 4 0-19-1-10-34-1-35-5z"/>
<path class="c76" d="M1200 1565l0 24 22-18 16-22 12-23 0-15-12 20-16 18z"/>
<path class="c67" d="M1017 1511l0 23-13 19-6 18 2 17 0-31-1-15 6-15z"/>
<path class="c69" d="M1141 1377l-26 11 22 7 22-14-15-4z"/>
<path class="c66" d="M1492 1540l1 29 30-1 27-4 21-7 1-11-1-22-22 8-26 6z"/>
<path class="c76" d="M1207 1481l-3 28 19-8 16-10 10-12 0-16-10 7-14 6z"/>
<path class="c70" d="M1350 1437l14 21 30-2 29-3 29-5-24-26-51 11z"/>
<path class="c65" d="M1487 1398l31 27 13-9-10-9-22-17z"/>
<path class="c66" d="M1402 1401l26 21 23-7 20-8 16-9-34-21-31 16z"/>
<path class="c76" d="M1202 1538l-2 27 22-16 16-18 12-20 0-15-11 16-17 14z"/>
<path class="c65" d="M1543 1456l13 23 5 11 15-10-6-11-13-22z"/>
<path class="c73" d="M1129 1668l2 4 7 6 24-12 23-16 21-20-3-7-23 19-25 15z"/>
<path class="c76" d="M1204 1509l-2 29 20-12 17-14 11-16-1-17-10 12-16 10z"/>
<path class="c70" d="M1383 1504l4 23 36 7 35 5 34 1-2-10-5-21-33 1-35-2z"/>
<path class="c65" d="M1518 1425l18 21 7 10 14-9-8-11-18-20z"/>
<path class="c67" d="M1075 1416l-21 21-11 6-5 7 1 8 23-29-1-5 4-5z"/>
<path class="c70" d="M1364 1458l11 22 32 2 33-1 31-3-19-30-29 5-29 3z"/>
<path class="c67" d="M1024 1485l-7 26-12 16-6 15 1 15 7-33-1-13 6-13z"/>
<path class="c70" d="M1375 1480l8 24 34 4 35 2 33-1-14-31-31 3-33 1z"/>
<path class="c71" d="M1159 1381l-22 14 41 11 13-15-22-7z"/>
<path class="c66" d="M1485 1509l7 31 31-2 26-6 22-8-3-11-7-23-21 9-25 6z"/>
<path class="c67" d="M1054 1437l-18 23-11 10-6 10 2 10 18-32-1-8 5-7z"/>
<path class="c67" d="M1036 1460l-12 25-12 13-6 13 1 13 14-34-2-10 6-10z"/>
<path class="c66" d="M1428 1422l24 26 26-7 22-7 18-9-31-27-16 9-20 8z"/>
<path class="c71" d="M1056 1670l5 5 10 7 20 3 23-1 24-6-7-6-2-4-26 6-25 0z"/>
<path class="c66" d="M1471 1478l14 31 30-4 25-6 21-9-5-11-13-23-19 9-25 7z"/>
<path class="c73" d="M1178 1406l-14 21 52 7 4-18-27-7z"/>
<path class="c66" d="M1452 1448l19 30 28-6 25-7 19-9-7-10-18-21-18 9-22 7z"/>
<path class="c69" d="M1006 1614l3 7 9 13 7 16 14 12 17 8-7-12-3-8-19-8-13-13z"/>
<path class="c69" d="M1115 1388l-27 17 5 4 21 8 23-22-18-6z"/>
<path class="c73" d="M1122 1650l7 18 26-11 25-15 23-19-2-14-24 18-27 13z"/>
<path class="c71" d="M1137 1395l-23 22 50 10 14-21-29-7z"/>
<path class="c73" d="M1164 1427l-13 28 21 1 39 0 5-22-34-4z"/>
<path class="c69" d="M1000 1588l3 18 11 23 13 13 19 8-5-27-19-9-14-12z"/>
<path class="c71" d="M1046 1650l3 8 7 12 22 4 25 0 26-6-7-18-27 4-26 1z"/>
<path class="c69" d="M1088 1405l-26 24 6 5 11 6 14 4 21-27-21-8z"/>
<path class="c73" d="M1119 1624l3 26 28-10 27-13 24-18-1-20-25 16-27 12z"/>
<path class="c73" d="M1151 1455l-11 32 23 0 23-2 21-4 4-25-39 0z"/>
<path class="c69" d="M1000 1557l0 31 8 14 14 12 19 9 0-34-19-8-14-11z"/>
<path class="c69" d="M1062 1429l-23 29 7 7 12 7 16 6 19-34-14-4-11-6z"/>
<path class="c71" d="M1114 1417l-21 27 18 5 40 6 13-28-35-7z"/>
<path class="c73" d="M1120 1593l-1 31 29-7 27-12 25-16 0-24-25 13-27 9z"/>
<path class="c71" d="M1041 1623l5 27 23 5 26-1 27-4-3-26-28 4-26-1z"/>
<path class="c73" d="M1140 1487l-10 36 26-3 25-4 23-7 3-28-21 4-23 2z"/>
<path class="c69" d="M1007 1524l-7 33 8 13 14 11 19 8 6-36-18-8-14-10z"/>
<path class="c69" d="M1039 1458l-18 32 7 9 13 9 17 7 16-37-16-6-12-7z"/>
<path class="c73" d="M1123 1559l-3 34 28-6 27-9 25-13 2-27-25 10-26 7z"/>
<path class="c73" d="M1130 1523l-7 36 28-4 26-7 25-10 2-29-23 7-25 4z"/>
<path class="c69" d="M1021 1490l-14 34 8 11 14 10 18 8 11-38-17-7-13-9z"/>
<path class="c71" d="M1093 1444l-19 34 20 4 22 4 24 1 11-32-40-6z"/>
<path class="c71" d="M1041 1589l0 34 24 4 26 1 28-4 1-31-29 3-26-2z"/>
<path class="c71" d="M1074 1478l-16 37 22 4 24 3 26 1 10-36-24-1-22-4z"/>
<path class="c71" d="M1047 1553l-6 36 24 5 26 2 29-3 3-34-27 1-26-2z"/>
<path class="c71" d="M1058 1515l-11 38 23 5 26 2 27-1 7-36-26-1-24-3z"/>
<g transform="translate(1201.79 781.09) scale(0.48 -0.48)"><use href="#DejaVuSans-Oblique-3c8" transform="translate(0 0.31)"/><use href="#DejaVuSans-Oblique-72" transform="translate(65.97 -16.09) scale(0.7)"/></g>
<path class="c0" d="M1956 2009l111 0 0-1109-111 0z"/>
<g shape-rendering="crispEdges"><rect x="1955.782" y="1997.712" width="110.88" height="11.588" fill="#ff0000"/><rect x="1955.782" y="1986.624" width="110.88" height="11.588" fill="#f50a00"/><rect x="1955.782" y="1975.536" width="110.88" height="11.588" fill="#ea1500"/><rect x="1955.782" y="1964.448" width="110.88" height="11.588" fill="#e01f00"/><rect x="1955.782" y="1953.36" width="110.88" height="11.588" fill="#d62900"/><rect x="1955.782" y="1942.272" width="110.88" height="11.588" fill="#cb3400"/><rect x="1955.782" y="1931.184" width="110.88" height="11.588" fill="#c13e00"/><rect x="1955.782" y="1920.096" width="110.88" height="11.588" fill="#b74800"/><rect x="1955.782" y="1909.008" width="110.88" height="11.588" fill="#ad5200"/><rect x="1955.782" y="1897.92" width="110.88" height="11.588" fill="#a25d00"/><rect x="1955.782" y="1886.832" width="110.88" height="11.588" fill="#986700"/><rect x="1955.782" y="1875.744" width="110.88" height="11.588" fill="#8e7100"/><rect x="1955.782" y="1864.656" width="110.88" height="11.588" fill="#837c00"/><rect x="1955.782" y="1853.568" width="110.88" height="11.588" fill="#798600"/><rect x="1955.782" y="1842.48" width="110.88" height="11.588" fill="#6f9000"/><rect x="1955.782" y="1831.392" width="110.88" height="11.588" fill="#649b00"/><rect x="1955.782" y="1820.304" width="110.88" height="11.588" fill="#5aa500"/><rect x="1955.782" y="1809.216" width="110.88" height="11.588" fill="#50af00"/><rect x="1955.782" y="1798.128" width="110.88" height="11.588" fill="#46b900"/><rect x="1955.782" y="1787.04" width="110.88" height="11.588" fill="#3bc400"/><rect x="1955.782" y="1775.952" width="110.88" height="11.588" fill="#31ce00"/><rect x="1955.782" y="1764.864" width="110.88" height="11.588" fill="#27d800"/><rect x="1955.782" y="1753.776" width="110.88" height="11.588" fill="#1ce300"/><rect x="1955.782" y="1742.688" width="110.88" height="11.588" fill="#12ed00"/><rect x="1955.782" y="1731.6" width="110.88" height="11.588" fill="#08f700"/><rect x="1955.782" y="1720.512" width="110.88" height="11.588" fill="#00fc03"/><rect x="1955.782" y="1709.424" width="110.88" height="11.588" fill="#00f20d"/><rect x="1955.782" y="1698.336" width="110.88" height="11.588" fill="#00e817"/><rect x="1955.782" y="1687.248" width="110.88" height="11.588" fill="#00de21"/><rect x="1955.782" y="1676.16" width="110.88" height="11.588" fill="#00d32c"/><rect x="1955.782" y="1665.072" width="110.88" height="11.588" fill="#00c936"/><rect x="1955.782" y="1653.984" width="110.88" height="11.588" fill="#00bf40"/><rect x="1955.782" y="1642.896" width="110.88" height="11.588" fill="#00b44b"/><rect x="1955.782" y="1631.808" width="110.88" height="11.588" fill="#00aa55"/><rect x="1955.782" y="1620.72" width="110.88" height="11.588" fill="#00a05f"/><rect x="1955.782" y="1609.632" width="110.88" height="11.588" fill="#00956a"/><rect x="1955.782" y="1598.544" width="110.88" height="11.588" fill="#008b74"/><rect x="1955.782" y="1587.456" width="110.88" height="11.588" fill="#00817e"/><rect x="1955.782" y="1576.368" width="110.88" height="11.588" fill="#007689"/><rect x="1955.782" y="1565.28" width="110.88" height="11.588" fill="#006c93"/><rect x="1955.782" y="1554.192" width="110.88" height="11.588" fill="#00629d"/><rect x="1955.782" y="1543.104" width="110.88" height="11.588" fill="#0058a7"/><rect x="1955.782" y="1532.016" width="110.88" height="11.588" fill="#004db2"/><rect x="1955.782" y="1520.928" width="110.88" height="11.588" fill="#0043bc"/><rect x="1955.782" y="1509.84" width="110.88" height="11.588" fill="#0039c6"/><rect x="1955.782" y="1498.752" width="110.88" height="11.588" fill="#002ed1"/><rect x="1955.782" y="1487.664" width="110.88" height="11.588" fill="#0024db"/><rect x="1955.782" y="1476.576" width="110.88" height="11.588" fill="#001ae5"/><rect x="1955.782" y="1465.488" width="110.88" height="11.588" fill="#000ff0"/><rect x="1955.782" y="1454.4" width="110.88" height="11.588" fill="#0005fa"/><rect x="1955.782" y="1443.312" width="110.88" height="11.588" fill="#0505fa"/><rect x="1955.782" y="1432.224" width="110.88" height="11.588" fill="#0f0ff0"/><rect x="1955.782" y="1421.136" width="110.88" height="11.588" fill="#1a1ae5"/><rect x="1955.782" y="1410.048" width="110.88" height="11.588" fill="#2424db"/><rect x="1955.782" y="1398.96" width="110.88" height="11.588" fill="#2e2ed1"/><rect x="1955.782" y="1387.872" width="110.88" height="11.588" fill="#3939c6"/><rect x="1955.782" y="1376.784" width="110.88" height="11.588" fill="#4343bc"/><rect x="1955.782" y="1365.696" width="110.88" height="11.588" fill="#4d4db2"/><rect x="1955.782" y="1354.608" width="110.88" height="11.588" fill="#5858a7"/><rect x="1955.782" y="1343.52" width="110.88" height="11.588" fill="#62629d"/><rect x="1955.782" y="1332.432" width="110.88" height="11.588" fill="#6c6c93"/><rect x="1955.782" y="1321.344" width="110.88" height="11.588" fill="#767689"/><rect x="1955.782" y="1310.256" width="110.88" height="11.588" fill="#81817e"/><rect x="1955.782" y="1299.168" width="110.88" height="11.588" fill="#8b8b74"/><rect x="1955.782" y="1288.08" width="110.88" height="11.588" fill="#95956a"/><rect x="1955.782" y="1276.992" width="110.88" height="11.588" fill="#a0a05f"/><rect x="1955.782" y="1265.904" width="110.88" height="11.588" fill="#aaaa55"/><rect x="1955.782" y="1254.816" width="110.88" height="11.588" fill="#b4b44b"/><rect x="1955.782" y="1243.728" width="110.88" height="11.588" fill="#bfbf40"/><rect x="1955.782" y="1232.64" width="110.88" height="11.588" fill="#c9c936"/><rect x="1955.782" y="1221.552" width="110.88" height="11.588" fill="#d3d32c"/><rect x="1955.782" y="1210.464" width="110.88" height="11.588" fill="#dede21"/><rect x="1955.782" y="1199.376" width="110.88" height="11.588" fill="#e8e817"/><rect x="1955.782" y="1188.288" width="110.88" height="11.588" fill="#f2f20d"/><rect x="1955.782" y="1177.2" width="110.88" height="11.588" fill="#fcfc03"/><rect x="1955.782" y="1166.112" width="110.88" height="11.588" fill="#fff700"/><rect x="1955.782" y="1155.024" width="110.88" height="11.588" fill="#ffed00"/><rect x="1955.782" y="1143.936" width="110.88" height="11.588" fill="#ffe300"/><rect x="1955.782" y="1132.848" width="110.88" height="11.588" fill="#ffd800"/><rect x="1955.782" y="1121.76" width="110.88" height="11.588" fill="#ffce00"/><rect x="1955.782" y="1110.672" width="110.88" height="11.588" fill="#ffc400"/><rect x="1955.782" y="1099.584" width="110.88" height="11.588" fill="#ffb900"/><rect x="1955.782" y="1088.496" width="110.88" height="11.588" fill="#ffaf00"/><rect x="1955.782" y="1077.408" width="110.88" height="11.588" fill="#ffa500"/><rect x="1955.782" y="1066.32" width="110.88" height="11.588" fill="#ff9b00"/><rect x="1955.782" y="1055.232" width="110.88" height="11.588" fill="#ff9000"/><rect x="1955.782" y="1044.144" width="110.88" height="11.588" fill="#ff8600"/><rect x="1955.782" y="1033.056" width="110.88" height="11.588" fill="#ff7c00"/><rect x="1955.782" y="1021.968" width="110.88" height="11.588" fill="#ff7100"/><rect x="1955.782" y="1010.88" width="110.88" height="11.588" fill="#ff6700"/><rect x="1955.782" y="999.792" width="110.88" height="11.588" fill="#ff5d00"/><rect x="1955.782" y="988.704" width="110.88" height="11.588" fill="#ff5200"/><rect x="1955.782" y="977.616" width="110.88" height="11.588" fill="#ff4800"/><rect x="1955.782" y="966.528" width="110.88" height="11.588" fill="#ff3e00"/><rect x="1955.782" y="955.44" width="110.88" height="11.588" fill="#ff3400"/><rect x="1955.782" y="944.352" width="110.88" height="11.588" fill="#ff2900"/><rect x="1955.782" y="933.264" width="110.88" height="11.588" fill="#ff1f00"/><rect x="1955.782" y="922.176" width="110.88" height="11.588" fill="#ff1500"/><rect x="1955.782" y="911.088" width="110.88" height="11.588" fill="#ff0a00"/><rect x="1955.782" y="900" width="110.88" height="11.588" fill="#ff0000"/></g>
<use href="#mc19856956a" x="2066.662" y="1916.4"/>
<g transform="translate(2094.66 1931.6) scale(0.4 -0.4)"><use href="#DejaVuSans-2212"/><use href="#DejaVuSans-31" transform="translate(83.79 0)"/><use href="#DejaVuSans-35" transform="translate(147.41 0)"/><use href="#DejaVuSans-30" transform="translate(211.04 0)"/></g>
<use href="#mc19856956a" x="2066.662" y="1762.4"/>
<g transform="translate(2094.66 1777.6) scale(0.4 -0.4)"><use href="#DejaVuSans-2212"/><use href="#DejaVuSans-31" transform="translate(83.79 0)"/><use href="#DejaVuSans-30" transform="translate(147.41 0)"/><use href="#DejaVuSans-30" transform="translate(211.04 0)"/></g>
<use href="#mc19856956a" x="2066.662" y="1608.4"/>
<g transform="translate(2094.66 1623.6) scale(0.4 -0.4)"><use href="#DejaVuSans-2212"/><use href="#DejaVuSans-35" transform="translate(83.79 0)"/><use href="#DejaVuSans-30" transform="translate(147.41 0)"/></g>
<use href="#mc19856956a" x="2066.662" y="1454.4"/>
<g transform="translate(2094.66 1469.6) scale(0.4 -0.4)"><use href="#DejaVuSans-30"/></g>
<use href="#mc19856956a" x="2066.662" y="1300.4"/>
<g transform="translate(2094.66 1315.6) scale(0.4 -0.4)"><use href="#DejaVuSans-35"/><use href="#DejaVuSans-30" transform="translate(63.62 0)"/></g>
<use href="#mc19856956a" x="2066.662" y="1146.4"/>
<g transform="translate(2094.66 1161.6) scale(0.4 -0.4)"><use href="#DejaVuSans-31"/><use href="#DejaVuSans-30" transform="translate(63.62 0)"/><use href="#DejaVuSans-30" transform="translate(127.25 0)"/></g>
<use href="#mc19856956a" x="2066.662" y="992.4"/>
<g transform="translate(2094.66 1007.6) scale(0.4 -0.4)"><use href="#DejaVuSans-31"/><use href="#DejaVuSans-35" transform="translate(63.62 0)"/><use href="#DejaVuSans-30" transform="translate(127.25 0)"/></g>
<g transform="translate(2250.92 1522.35) rotate(-90) scale(0.4 -0.4)"><use href="#DejaVuSans-70"/><use href="#DejaVuSans-68" transform="translate(63.48 0)"/><use href="#DejaVuSans-61" transform="translate(126.86 0)"/><use href="#DejaVuSans-73" transform="translate(188.13 0)"/><use href="#DejaVuSans-65" transform="translate(240.23 0)"/></g>
<path class="c80" d="M1956 2009l111 0 0-1109-111 0 0 1109z"/>
<path class="c0" d="M2524 2266l1623 0 0-1623-1623 0z"/>
<path class="c1" d="M2646 1866l537-450-8-648-562 410"/>
<path class="c2" d="M3183 1416l860 250 30-670-898-228"/>
<path class="c3" d="M2646 1866l912 298 485-498-860-250"/>
<path class="c4" d="M2727 1892l532-453-5-650"/>
<path class="c4" d="M2846 1931l526-460 0-653"/>
<path class="c4" d="M2968 1971l518-466 6-656"/>
<path class="c4" d="M3090 2011l512-473 11-659"/>
<path class="c4" d="M3215 2051l505-478 16-662"/>
<path class="c4" d="M3342 2093l497-486 21-665"/>
<path class="c4" d="M3470 2135l490-493 26-668"/>
<path class="c4" d="M2623 1172l32 686 911 297"/>
<path class="c4" d="M2696 1118l29 682 905 290"/>
<path class="c4" d="M2768 1066l25 677 899 284"/>
<path class="c4" d="M2838 1014l22 672 892 279"/>
<path class="c4" d="M2907 964l19 668 885 272"/>
<path class="c4" d="M2974 915l16 663 879 266"/>
<path class="c4" d="M3040 867l13 658 873 261"/>
<path class="c4" d="M3104 820l11 653 867 256"/>
<path class="c4" d="M3167 774l8 649 861 250"/>
<path class="c4" d="M4046 1602l-864-248-539 446"/>
<path class="c4" d="M4050 1515l-869-245-542 441"/>
<path class="c4" d="M4054 1427l-874-242-545 436"/>
<path class="c4" d="M4058 1339l-879-240-549 431"/>
<path class="c4" d="M4062 1249l-884-237-552 426"/>
<path class="c4" d="M4066 1158l-889-233-556 419"/>
<path class="c4" d="M4070 1066l-894-230-559 414"/>
<path class="c5" d="M2646 1866l912 298"/>
<path class="c5" d="M2732 1888l-14 12"/>
<g transform="translate(2654.63 1985.32) scale(0.4 -0.4)"><use href="#DejaVuSans-2212"/><use href="#DejaVuSans-36" transform="translate(83.79 0)"/><use href="#DejaVuSans-30" transform="translate(147.41 0)"/></g>
<path class="c5" d="M2851 1927l-14 12"/>
<g transform="translate(2774.17 2024.87) scale(0.4 -0.4)"><use href="#DejaVuSans-2212"/><use href="#DejaVuSans-34" transform="translate(83.79 0)"/><use href="#DejaVuSans-30" transform="translate(147.41 0)"/></g>
<path class="c5" d="M2972 1967l-14 12"/>
<g transform="translate(2895.4 2064.99) scale(0.4 -0.4)"><use href="#DejaVuSans-2212"/><use href="#DejaVuSans-32" transform="translate(83.79 0)"/><use href="#DejaVuSans-30" transform="translate(147.41 0)"/></g>
<path class="c5" d="M3095 2007l-14 12"/>
<g transform="translate(3047.86 2105.69) scale(0.4 -0.4)"><use href="#DejaVuSans-30"/></g>
<path class="c5" d="M3219 2047l-13 13"/>
<g transform="translate(3159.9 2146.97) scale(0.4 -0.4)"><use href="#DejaVuSans-32"/><use href="#DejaVuSans-30" transform="translate(63.62 0)"/></g>
<path class="c5" d="M3346 2089l-13 12"/>
<g transform="translate(3286.47 2188.85) scale(0.4 -0.4)"><use href="#DejaVuSans-34"/><use href="#DejaVuSans-30" transform="translate(63.62 0)"/></g>
<path class="c5" d="M3474 2130l-13 13"/>
<g transform="translate(3414.9 2231.35) scale(0.4 -0.4)"><use href="#DejaVuSans-36"/><use href="#DejaVuSans-30" transform="translate(63.62 0)"/></g>
<g transform="translate(3013.58 2162.49) scale(0.4 -0.4)"><use href="#DejaVuSans-78"/></g>
<path class="c5" d="M4043 1666l-485 498"/>
<path class="c5" d="M3559 2153l23 7"/>
<g transform="translate(3563.15 2239.7) scale(0.4 -0.4)"><use href="#DejaVuSans-2212"/><use href="#DejaVuSans-32" transform="translate(83.79 0)"/><use href="#DejaVuSans-30" transform="translate(147.41 0)"/><use href="#DejaVuSans-30" transform="translate(211.04 0)"/></g>
<path class="c5" d="M3622 2088l23 7"/>
<g transform="translate(3625.91 2174.08) scale(0.4 -0.4)"><use href="#DejaVuSans-2212"/><use href="#DejaVuSans-31" transform="translate(83.79 0)"/><use href="#DejaVuSans-35" transform="translate(147.41 0)"/><use href="#DejaVuSans-30" transform="translate(211.04 0)"/></g>
<path class="c5" d="M3684 2024l23 8"/>
<g transform="translate(3687.29 2109.92) scale(0.4 -0.4)"><use href="#DejaVuSans-2212"/><use href="#DejaVuSans-31" transform="translate(83.79 0)"/><use href="#DejaVuSans-30" transform="translate(147.41 0)"/><use href="#DejaVuSans-30" transform="translate(211.04 0)"/></g>
<path class="c5" d="M3745 1962l22 7"/>
<g transform="translate(3760.03 2047.18) scale(0.4 -0.4)"><use href="#DejaVuSans-2212"/><use href="#DejaVuSans-35" transform="translate(83.79 0)"/><use href="#DejaVuSans-30" transform="translate(147.41 0)"/></g>
<path class="c5" d="M3804 1902l22 6"/>
<g transform="translate(3848.24 1985.79) scale(0.4 -0.4)"><use href="#DejaVuSans-30"/></g>
<path class="c5" d="M3862 1842l22 7"/>
<g transform="translate(3892.97 1925.73) scale(0.4 -0.4)"><use href="#DejaVuSans-35"/><use href="#DejaVuSans-30" transform="translate(63.62 0)"/></g>
<path class="c5" d="M3919 1784l22 7"/>
<g transform="translate(3936.48 1866.94) scale(0.4 -0.4)"><use href="#DejaVuSans-31"/><use href="#DejaVuSans-30" transform="translate(63.62 0)"/><use href="#DejaVuSans-30" transform="translate(127.25 0)"/></g>
<path class="c5" d="M3974 1727l22 6"/>
<g transform="translate(3991.53 1809.39) scale(0.4 -0.4)"><use href="#DejaVuSans-31"/><use href="#DejaVuSans-35" transform="translate(63.62 0)"/><use href="#DejaVuSans-30" transform="translate(127.25 0)"/></g>
<path class="c5" d="M4029 1671l21 7"/>
<g transform="translate(4045.44 1753.03) scale(0.4 -0.4)"><use href="#DejaVuSans-32"/><use href="#DejaVuSans-30" transform="translate(63.62 0)"/><use href="#DejaVuSans-30" transform="translate(127.25 0)"/></g>
<g transform="translate(3907.38 2026.94) scale(0.4 -0.4)"><use href="#DejaVuSans-79"/></g>
<path class="c5" d="M4043 1666l30-670"/>
<path class="c5" d="M4038 1600l22 6"/>
<g transform="translate(4064.13 1622.09) scale(0.4 -0.4)"><use href="#DejaVuSans-2212"/><use href="#DejaVuSans-31" transform="translate(83.79 0)"/><use href="#DejaVuSans-35" transform="translate(147.41 0)"/><use href="#DejaVuSans-30" transform="translate(211.04 0)"/></g>
<path class="c5" d="M4042 1513l22 6"/>
<g transform="translate(4068.52 1535.42) scale(0.4 -0.4)"><use href="#DejaVuSans-2212"/><use href="#DejaVuSans-31" transform="translate(83.79 0)"/><use href="#DejaVuSans-30" transform="translate(147.41 0)"/><use href="#DejaVuSans-30" transform="translate(211.04 0)"/></g>
<path class="c5" d="M4046 1425l22 7"/>
<g transform="translate(4085.68 1447.74) scale(0.4 -0.4)"><use href="#DejaVuSans-2212"/><use href="#DejaVuSans-35" transform="translate(83.79 0)"/><use href="#DejaVuSans-30" transform="translate(147.41 0)"/></g>
<path class="c5" d="M4050 1337l23 6"/>
<g transform="translate(4119.66 1359.04) scale(0.4 -0.4)"><use href="#DejaVuSans-30"/></g>
<path class="c5" d="M4054 1247l23 6"/>
<g transform="translate(4111.48 1269.31) scale(0.4 -0.4)"><use href="#DejaVuSans-35"/><use href="#DejaVuSans-30" transform="translate(63.62 0)"/></g>
<path class="c5" d="M4059 1156l22 6"/>
<g transform="translate(4103.35 1178.51) scale(0.4 -0.4)"><use href="#DejaVuSans-31"/><use href="#DejaVuSans-30" transform="translate(63.62 0)"/><use href="#DejaVuSans-30" transform="translate(127.25 0)"/></g>
<path class="c5" d="M4063 1064l22 6"/>
<g transform="translate(4108 1086.63) scale(0.4 -0.4)"><use href="#DejaVuSans-31"/><use href="#DejaVuSans-35" transform="translate(63.62 0)"/><use href="#DejaVuSans-30" transform="translate(127.25 0)"/></g>
<g transform="translate(4209.12 1328) scale(0.4 -0.4)"><use href="#DejaVuSans-7a"/></g>
<path class="c46" d="M3431 1324l-3 32-58-10-100-15-3-30 104 13z"/>
<path class="c46" d="M3428 1356l-3 33-55-11-96-17-4-30 100 15z"/>
<path class="c46" d="M3433 1293l-2 31-60-10-104-13-3-28 107 11z"/>
<path class="c48" d="M3267 1301l3 30-42-5-69-4-7-26 71 2z"/>
<path class="c46" d="M3425 1389l-4 33-142-31-5-30 96 17z"/>
<path class="c48" d="M3264 1273l3 28-44-3-71-2-6-25 34-1 39 1z"/>
<path class="c48" d="M3270 1331l4 30-41-6-65-7-9-26 69 4z"/>
<path class="c48" d="M3263 1247l1 26-45-2-39-1-34 1-3-23 34-2 40-1z"/>
<path class="c46" d="M3434 1262l-1 31-62-9-107-11-1-26 108 8z"/>
<path class="c46" d="M3421 1422l-4 33-133-33-5-31 90 19z"/>
<path class="c48" d="M3274 1361l5 30-101-15-10-28 65 7z"/>
<path class="c48" d="M3262 1221l1 26-46-2-40 1-34 2-2-22 34-3 41-2z"/>
<path class="c46" d="M3435 1234l-1 28-63-7-108-8-1-26 52 2 58 4z"/>
<path class="c48" d="M3279 1391l5 31-94-18-12-28 62 9z"/>
<path class="c46" d="M3417 1455l-5 33-122-34-6-32 84 21z"/>
<path class="c48" d="M3262 1198l0 23-46 0-41 2-34 3 0-20 34-4 41-3z"/>
<path class="c46" d="M3435 1206l0 28-63-7-58-4-52-2 0-23 52 1 58 3z"/>
<path class="c45" d="M3609 1402l-11 32-49-17-124-28 3-33 130 27z"/>
<path class="c45" d="M3598 1434l-14 32-46-15-117-29 4-33 124 28z"/>
<path class="c54" d="M3146 1271l6 25-28 1-21 3-16 5-7-21 16-6 22-4z"/>
<path class="c48" d="M3284 1422l6 32-86-22-14-28 58 11z"/>
<path class="c54" d="M3152 1296l7 26-26 0-21 1-16 3-9-21 16-5 21-3z"/>
<path class="c45" d="M3619 1370l-10 32-51-19-130-27 3-32 134 25z"/>
<path class="c46" d="M3412 1488l-5 33-111-36-6-31 77 21z"/>
<path class="c54" d="M3143 1248l3 23-28 3-22 4-16 6-5-19 17-7 22-6z"/>
<path class="c45" d="M3584 1466l-15 32-152-43 4-33 117 29z"/>
<path class="c54" d="M3159 1322l9 26-25-1-35 2-12-23 16-3 21-1z"/>
<path class="c45" d="M3626 1338l-7 32-54-21-134-25 2-31 138 23z"/>
<path class="c48" d="M3263 1176l-1 22-46 1-41 3-34 4 2-18 34-5 40-5z"/>
<path class="c54" d="M3141 1226l2 22-29 4-22 6-17 7-2-18 16-9 23-6z"/>
<path class="c54" d="M3168 1348l10 28-24-3-32 0-14-24 35-2z"/>
<path class="c45" d="M3569 1498l-17 32-40-11-100-31 5-33 109 31z"/>
<path class="c46" d="M3434 1181l1 25-63-4-58-3-52-1 1-22 51 0 57 1z"/>
<path class="c48" d="M3290 1454l6 31-77-25-15-28 53 13z"/>
<path class="c45" d="M3630 1308l-4 30-55-22-138-23 1-31 141 22z"/>
<path class="c54" d="M3141 1206l0 20-29 6-23 6-16 9 0-17 16-9 23-8z"/>
<path class="c54" d="M3178 1376l12 28-53-7-15-24 32 0z"/>
<path class="c46" d="M3407 1521l-6 32-98-37-7-31 70 23z"/>
<path class="c45" d="M3552 1530l-19 30-36-7-90-32 5-33 100 31z"/>
<path class="c48" d="M3264 1157l-1 19-46 2-40 5-34 5 3-16 34-7 39-5z"/>
<path class="c45" d="M3633 1278l-3 30-55-24-141-22 1-28 142 19z"/>
<path class="c54" d="M3143 1188l-2 18-29 7-23 8-16 9 2-15 17-10 22-9z"/>
<path class="c54" d="M3190 1404l14 28-49-11-18-24 31 3z"/>
<path class="c45" d="M3533 1560l-21 30-31-5-80-32 6-32 90 32z"/>
<path class="c46" d="M3433 1158l1 23-63-4-57-1-51 0 1-19 51-2 56 0z"/>
<path class="c48" d="M3296 1485l7 31-68-27-16-29 48 16z"/>
<path class="c46" d="M3401 1553l-6 32-84-39-8-30 62 24z"/>
<path class="c45" d="M3633 1249l0 29-56-25-142-19 0-28 142 17z"/>
<path class="c54" d="M3146 1172l-3 16-29 8-22 9-17 10 5-13 16-11 23-10z"/>
<path class="c48" d="M3267 1139l-3 18-45 3-39 5-34 7 6-14 33-8 38-6z"/>
<path class="c54" d="M3204 1432l15 28-44-14-20-25 28 6z"/>
<path class="c45" d="M3512 1590l-22 28-27-2-68-31 6-32 80 32z"/>
<path class="c58" d="M3080 1284l7 21-11 5-5 7 0 8-7-17 0-9 5-8z"/>
<path class="c58" d="M3087 1305l9 21-10 5-5 5 0 6-10-17 0-8 5-7z"/>
<path class="c58" d="M3075 1265l5 19-11 7-5 8 0 9-5-15 0-11 5-9z"/>
<path class="c58" d="M3096 1326l12 23-10 3-5 4 1 5-13-19 0-6 5-5z"/>
<path class="c48" d="M3303 1516l8 30-59-29-17-28 42 17z"/>
<path class="c46" d="M3431 1137l2 21-62-3-56 0-51 2 3-18 49-2 55-1z"/>
<path class="c58" d="M3073 1247l2 18-11 8-5 9 0 11-3-15 0-11 6-11z"/>
<path class="c45" d="M3631 1222l2 27-56-26-142-17-1-25 68 6 73 8z"/>
<path class="c58" d="M3108 1349l14 24-10 1-4 2 0 3-14-18-1-5 5-4z"/>
<path class="c46" d="M3395 1585l-7 30-69-39-8-30 53 25z"/>
<path class="c54" d="M3152 1158l-6 14-27 9-23 10-16 11 8-11 15-12 22-11z"/>
<path class="c58" d="M3073 1230l0 17-11 9-6 11 0 11 0-25 6-12z"/>
<path class="c54" d="M3219 1460l16 29-39-19-21-24 25 8z"/>
<path class="c45" d="M3490 1618l-23 27-22 0-57-30 7-30 68 31z"/>
<path class="c48" d="M3270 1125l-3 14-44 5-38 6-33 8 7-11 32-9 37-8z"/>
<path class="c58" d="M3122 1373l15 24-8-1-4 1 0 2-17-20 0-3 4-2z"/>
<path class="c58" d="M3075 1215l-2 15-11 11-6 12 1 12 2-11 0-14 5-13z"/>
<path class="c48" d="M3311 1546l8 30-49-32-18-27 37 18z"/>
<path class="c45" d="M3626 1197l5 25-56-27-73-8-68-6-1-23 67 4 71 7z"/>
<path class="c46" d="M3428 1118l3 19-60-1-55 1-49 2 3-14 48-4 52-3z"/>
<path class="c58" d="M3137 1397l18 24-11-2-19-20 0-2 4-1z"/>
<path class="c54" d="M3159 1147l-7 11-27 10-22 11-15 12 24-22 21-12z"/>
<path class="c54" d="M3235 1489l17 28-25-16-8-6-23-25 22 12z"/>
<path class="c58" d="M3080 1202l-5 13-11 12-5 13 0 14 6-10-1-15 5-14z"/>
<path class="c46" d="M3388 1615l-6 29-54-40-9-28 44 25z"/>
<path class="c45" d="M3467 1645l-24 25-17 3-44-29 6-29 57 30z"/>
<path class="c47" d="M3693 1507l-23 25-101-34 15-32 78 28z"/>
<path class="c47" d="M3714 1481l-21 26-67-26-42-15 14-32 82 32z"/>
<path class="c47" d="M3670 1532l-25 24-93-26 17-32 72 24z"/>
<path class="c58" d="M3155 1421l20 25-11-6 1-2-21-19 3 0z"/>
<path class="c48" d="M3274 1112l-4 13-42 5-37 8-32 9 9-10 30-9 36-9z"/>
<path class="c47" d="M3731 1454l-17 27-72-30-44-17 11-32 87 36z"/>
<path class="c47" d="M3645 1556l-29 24-83-20 19-30 66 18z"/>
<path class="c58" d="M3088 1191l-8 11-11 13-5 14 1 15 8-9-1-15 5-15z"/>
<path class="c45" d="M3619 1173l7 24-55-28-71-7-67-4-2-21 65 3 70 5z"/>
<path class="c47" d="M3745 1428l-14 26-76-34-46-18 10-32 89 39z"/>
<path class="c47" d="M3616 1580l-30 22-74-12 21-30 59 14z"/>
<path class="c54" d="M3168 1137l-9 10-26 10-21 12-15 13 12-7 15-14 19-12z"/>
<path class="c48" d="M3319 1576l9 28-39-33-19-27 30 20z"/>
<path class="c46" d="M3425 1102l3 16-58 0-52 3-48 4 4-13 45-5 51-3z"/>
<path class="c54" d="M3252 1517l18 27-20-18-31-31 19 14z"/>
<path class="c58" d="M3175 1446l21 24-6-4-3-4 0-4-22-20-1 2 4 2z"/>
<path class="c47" d="M3755 1401l-10 27-37-19-42-19-47-20 7-32 49 22 43 21z"/>
<path class="c47" d="M3586 1602l-33 20-63-4 22-28 53 8z"/>
<path class="c45" d="M3443 1670l-25 23-12 6-31-28 7-27 44 29z"/>
<path class="c46" d="M3382 1644l-7 27-39-40-8-27 34 26z"/>
<path class="c55" d="M3064 1308l7 17 6 8 10 10 15 10-6-13-16-11-11-11z"/>
<path class="c55" d="M3071 1325l16 24 10 8 14 8-9-12-15-10-10-10z"/>
<path class="c58" d="M3097 1182l-9 9-11 14-5 15 1 15 10-6 0-17 4-15z"/>
<path class="c55" d="M3059 1293l5 15 5 10 11 11 16 11-5-11-16-13-10-12z"/>
<path class="c47" d="M3762 1375l-7 26-37-20-43-21-49-22 4-30 51 23 44 22z"/>
<path class="c55" d="M3081 1342l18 24 9 6 14 7-11-14-14-8-10-8z"/>
<path class="c47" d="M3553 1622l-34 19-52 4 23-27 45 4z"/>
<path class="c48" d="M3279 1103l-5 9-40 7-36 9-30 9 11-6 28-11 34-9z"/>
<path class="c55" d="M3056 1278l3 15 6 11 10 12 16 13-2-10-16-14-11-14z"/>
<path class="c55" d="M3094 1361l14 18 5 4 22 10-13-14-14-7-9-6z"/>
<path class="c45" d="M3610 1152l9 21-53-28-70-5-65-3-3-19 63 2 67 3z"/>
<path class="c55" d="M3057 1265l-1 13 6 13 11 14 16 14 0-10-16-15-11-15z"/>
<path class="c58" d="M3196 1470l23 25-6-6-2-6 0-5-24-20 0 4 3 4z"/>
<path class="c54" d="M3179 1131l-11 6-25 12-19 12-15 14 14-4 14-15 19-13z"/>
<path class="c47" d="M3766 1349l-4 26-37-22-44-22-51-23 3-30 50 24 45 24z"/>
<path class="c55" d="M3108 1379l17 20 4 2 21 6-15-14-22-10z"/>
<path class="c47" d="M3519 1641l-36 17-11 5-29 7 24-25 37-2z"/>
<path class="c54" d="M3270 1544l19 27-16-20-5-9-25-24 16 17z"/>
<path class="c48" d="M3328 1604l8 27-47-60 24 21z"/>
<path class="c55" d="M3059 1254l-2 11 5 14 11 15 16 15 3-8-16-17-11-15z"/>
<path class="c46" d="M3421 1089l4 13-55 2-51 3-45 5 5-9 43-7 47-4z"/>
<path class="c45" d="M3418 1693l-26 21-7 9-18-27 8-25 31 28z"/>
<path class="c58" d="M3109 1175l-12 7-10 15-4 15 0 17 13-5-1-17 5-17z"/>
<path class="c55" d="M3125 1399l19 20 23 3-17-15-21-6z"/>
<path class="c55" d="M3065 1244l-6 10 6 15 11 15 16 17 5-8-16-17-11-16z"/>
<path class="c46" d="M3375 1671l-8 25-22-39-9-26 25 26z"/>
<path class="c47" d="M3766 1323l0 26-38-23-45-24-50-24 0-29 51 26 44 25z"/>
<path class="c47" d="M3483 1658l-37 16-8 7-20 12 25-23 29-7z"/>
<path class="c58" d="M3219 1495l24 23-5-7-2-7 1-6-26-20 0 5 2 6z"/>
<path class="c48" d="M3284 1096l-5 7-38 8-34 9-28 11 39-16 31-10z"/>
<path class="c55" d="M3144 1419l21 19 21-2-19-14-19-3z"/>
<path class="c45" d="M3598 1133l12 19-52-29-67-3-63-2-3-16 60 0 64 2z"/>
<path class="c55" d="M3073 1235l-8 9 5 16 11 16 16 17 7-6-15-18-11-17z"/>
<path class="c54" d="M3191 1126l-12 5-23 12-19 13-14 15 17-3 13-15 17-14z"/>
<path class="c58" d="M3123 1171l-14 4-9 15-5 17 1 17 15-4 0-17 4-17z"/>
<path class="c54" d="M3289 1571l20 25-11-21-4-11-26-22 12 19z"/>
<path class="c47" d="M3763 1299l3 24-38-23-44-25-51-26-2-27 50 27 44 25z"/>
<path class="c47" d="M3446 1674l-37 13-17 27 26-21 20-12z"/>
<path class="c45" d="M3392 1714l-26 19-1 12-5-26 7-23 18 27z"/>
<path class="c55" d="M3165 1438l22 20 3-2 16-5-20-15-18 1z"/>
<path class="c48" d="M3336 1631l9 26-15-36-21-25 17 23z"/>
<path class="c46" d="M3417 1078l4 11-52 3-47 4-43 7 5-7 40-7 44-6z"/>
<path class="c55" d="M3083 1229l-10 6 5 17 11 17 15 18 9-5-14-18-11-18z"/>
<path class="c58" d="M3243 1518l25 24-3-9-2-8 0-8-26-19-1 6 2 7z"/>
<path class="c46" d="M3367 1696l-7 23-6-38-9-24 14 26z"/>
<path class="c55" d="M3187 1458l24 20 3-4 13-9-21-14-16 5z"/>
<path class="c47" d="M3755 1276l8 23-38-25-44-25-50-27-5-25 49 27 43 26z"/>
<path class="c58" d="M3140 1168l-17 3-8 15-4 17 0 17 17-1 0-18 4-17z"/>
<path class="c47" d="M3409 1687l-39 11-4 35 26-19 12-18z"/>
<path class="c45" d="M3585 1116l13 17-49-29-64-2-60 0-4-13 57-2 60 1z"/>
<path class="c45" d="M3366 1733l-9 6 0 12 0-25 3-7 5 26z"/>
<path class="c48" d="M3290 1092l-6 4-35 9-31 10-27 11 14-1 25-12 28-11z"/>
<path class="c55" d="M3096 1224l-13 5 5 17 11 18 14 18 12-3-14-19-10-19z"/>
<path class="c54" d="M3205 1125l-14 1-21 13-17 14-13 15 18 0 12-15 16-15z"/>
<path class="c52" d="M3663 1591l-36 15-41-4 30-22 36 8z"/>
<path class="c52" d="M3627 1606l-38 14-9 2-27 0 33-20 31 4z"/>
<path class="c52" d="M3697 1574l-34 17-47-11 29-24 39 13z"/>
<path class="c52" d="M3589 1620l-41 12-17 7-12 2 34-19 27 0z"/>
<path class="c54" d="M3309 1596l21 25-9-35-27-22 9 21z"/>
<path class="c52" d="M3728 1556l-31 18-52-18 25-24 44 17z"/>
<path class="c52" d="M3548 1632l-42 10-6 6-17 10 36-17 22-5z"/>
<path class="c51" d="M3096 1340l6 13 44 20 28 11-5-8-53-24z"/>
<path class="c58" d="M3268 1542l26 22-2-10-1-19-28-18 0 8 2 8z"/>
<path class="c51" d="M3102 1353l9 12 42 18 27 9-6-8-52-21z"/>
<path class="c52" d="M3755 1537l-27 19-34-15-24-9 23-25 47 21z"/>
<path class="c47" d="M3370 1698l-13 3 0 38 9-6 3-23z"/>
<path class="c51" d="M3091 1329l5 11 20 12 24 12 29 12-3-7-29-13-25-14z"/>
<path class="c69" d="M3346 1717l11-3 0 37-7 7-3-27z"/>
<path class="c55" d="M3211 1478l26 20 2-7 11-11-23-15-13 9z"/>
<path class="c51" d="M3111 1365l11 14 40 14 26 7-8-8-50-18z"/>
<path class="c71" d="M3350 1758l7-7 0-37-4 31z"/>
<path class="c51" d="M3089 1319l2 10 21 13 25 14 29 13-2-6-29-15-25-15z"/>
<path class="c52" d="M3506 1642l-44 9-4 8-12 15 37-16 17-10z"/>
<path class="c48" d="M3345 1657l9 24-4-38-20-22 9 24z"/>
<path class="c51" d="M3122 1379l13 14 62 16-9-9-48-14z"/>
<path class="c46" d="M3360 1719l-3 7 0-37-3-8 4 25z"/>
<path class="c52" d="M3779 1517l-24 20-36-19-26-11 21-26 49 26z"/>
<path class="c47" d="M3745 1253l10 23-37-26-43-26-49-27-7-24 48 28 42 27z"/>
<path class="c55" d="M3111 1220l-15 4 5 17 10 19 14 19 13-2-13-20-9-19z"/>
<path class="c51" d="M3089 1309l0 10 21 14 25 15 29 15 0-6-29-16-25-16z"/>
<path class="c46" d="M3412 1071l5 7-49 5-44 6-40 7 6-4 37-8 40-7z"/>
<path class="c51" d="M3135 1393l15 14 58 11-11-9-45-11z"/>
<path class="c52" d="M3462 1651l-44 7-6 19-3 10 37-13 12-15z"/>
<path class="c51" d="M3092 1301l-3 8 21 16 25 16 29 16 2-6-29-17-25-17z"/>
<path class="c58" d="M3158 1168l-18 0-8 16-4 17 0 18 20 0-1-18 4-17z"/>
<path class="c52" d="M3800 1497l-21 20-16-10-22-13-27-13 17-27 29 16 23 14z"/>
<path class="c51" d="M3150 1407l17 15 54 5-13-9-42-7z"/>
<path class="c69" d="M3311 1727l35-10 4 41-7 6-14 11-13-32z"/>
<path class="c52" d="M3418 1658l-45 4-3 36 39-11 6-19z"/>
<path class="c55" d="M3237 1498l26 19 2-8 9-15-24-14-11 11z"/>
<path class="c51" d="M3097 1293l-5 8 20 16 25 17 29 17 4-4-29-18-24-18z"/>
<path class="c45" d="M3569 1102l16 14-47-28-60-1-57 2-4-11 52-2 57-2z"/>
<path class="c67" d="M3343 1678l14-2 0 38-11 3-2-26z"/>
<path class="c52" d="M3816 1475l-16 22-17-13-23-14-29-16 14-26 30 17 24 16z"/>
<path class="c54" d="M3221 1126l-16-1-19 13-16 15-12 15 20 2 11-15 14-15z"/>
<path class="c48" d="M3297 1091l-5 0-34 11-28 11-25 12 16 1 21-13 26-11z"/>
<path class="c51" d="M3167 1422l19 14 48 0-13-9-39-4z"/>
<path class="c52" d="M3373 1662l-16 1 0 38 13-3 2-24z"/>
<path class="c73" d="M3357 1721l0-45 5 7-3 25z"/>
<path class="c71" d="M3329 1775l21-17 7-37-1 20-17 23z"/>
<path class="c55" d="M3128 1219l-17 1 5 18 9 19 13 20 16-1-12-20-9-19z"/>
<path class="c58" d="M3294 1564l27 22-2-33-28-18 1 19z"/>
<path class="c48" d="M3354 1681l3 8 0-38-7-8 3 25z"/>
<path class="c47" d="M3731 1233l14 20-36-25-42-27-48-28-9-21 46 28 40 27z"/>
<path class="c51" d="M3104 1287l-7 6 20 18 24 18 29 18 5-4-28-19-23-18z"/>
<path class="c54" d="M3330 1621l20 22-2-37-27-20 5 23z"/>
<path class="c67" d="M3299 1681l44-3 3 39-35 10-9-31z"/>
<path class="c52" d="M3829 1453l-13 22-17-14-24-16-30-17 10-27 31 19 25 17z"/>
<path class="c51" d="M3186 1436l20 15 42-6-14-9-35 0z"/>
<path class="c51" d="M3113 1282l-9 5 20 19 23 18 28 19 7-3-27-20-23-19z"/>
<path class="c55" d="M3263 1517l28 18 1-9 6-19-24-13-9 15z"/>
<path class="c58" d="M3178 1170l-20-2-7 16-4 17 1 18 21 3 0-18 3-17z"/>
<path class="c68" d="M3342 1638l15 0 0 38-14 2-1-27z"/>
<path class="c52" d="M3837 1431l-8 22-18-16-25-17-31-19 7-26 32 20 25 19z"/>
<path class="c51" d="M3206 1451l21 14 37-11-16-9-30 4z"/>
<path class="c46" d="M3406 1067l6 4-45 6-40 7-35 7 5 0 33-9 36-8z"/>
<path class="c68" d="M3295 1636l47 2 1 40-44 3-3-30z"/>
<path class="c69" d="M3276 1734l35-7 18 48-21 14-23-37z"/>
<path class="c67" d="M3256 1682l43-1 12 46-35 7-15-35z"/>
<path class="c55" d="M3148 1219l-20 0 5 18 9 19 12 20 17 0-11-19-8-19z"/>
<path class="c76" d="M3362 1683l-5-7 0-38 8 7-2 26z"/>
<path class="c51" d="M3125 1279l-12 3 19 19 23 19 27 20 8-2-25-20-22-20z"/>
<path class="c56" d="M3419 1626l-46 0 0 36 45-4 2-21z"/>
<path class="c56" d="M3373 1626l-16-1 0 38 16-1 0-24z"/>
<path class="c56" d="M3465 1625l-46 1-1 32 44-7 4-17z"/>
<path class="c73" d="M3356 1741l1-20 5-38 14 21-13 25z"/>
<path class="c68" d="M3249 1633l46 3 4 45-43 1-6-34z"/>
<path class="c56" d="M3510 1621l-45 4 0 18-3 8 44-9 3-6 2-7z"/>
<path class="c54" d="M3350 1643l7 8 0-38-9-7 2 25z"/>
<path class="c47" d="M3714 1214l17 19-35-26-40-27-46-28-12-19 44 27 39 28z"/>
<path class="c72" d="M3071 1484l28 12-17 12-15 14-11 15-33-13 12-15 16-13z"/>
<path class="c72" d="M3045 1471l26 13-20 12-16 13-12 15-31-15 14-14 18-13z"/>
<path class="c56" d="M3554 1617l-44 4 1 8-2 7-3 6 42-10 5-4 2-5z"/>
<path class="c45" d="M3551 1091l-25-17-57 2-52 2-5-7 48-4 52-3z"/>
<path class="c72" d="M3099 1496l30 11-15 13-13 14-10 15-35-12 11-15 15-14z"/>
<path class="c72" d="M3022 1458l23 13-21 11-18 13-14 14-27-14 16-14 19-12z"/>
<path class="c59" d="M3092 1426l14 10-30 6-29 7-25 9-20-13 27-8 30-6z"/>
<path class="c58" d="M3321 1586l27 20 0-37-29-16 1 22z"/>
<path class="c59" d="M3106 1436l18 10-29 7-26 8-24 10-23-13 25-9 29-7z"/>
<path class="c59" d="M3079 1416l13 10-33 5-30 6-27 8-17-13 28-7 32-5z"/>
<path class="c52" d="M3842 1409l-5 22-18-17-25-19-32-20 4-26 32 21 25 21z"/>
<path class="c72" d="M3129 1507l33 11-13 13-11 14-9 15-38-11 10-15 13-14z"/>
<path class="c51" d="M3227 1465l23 15 8-6 22-11-16-9-27 8z"/>
<path class="c59" d="M3124 1446l19 10-26 8-25 9-21 11-26-13 24-10 26-8z"/>
<path class="c72" d="M3002 1445l20 13-22 11-19 12-16 14-23-16 16-13 20-11z"/>
<path class="c68" d="M3204 1627l45 6 4 32 3 17-42-2-5-18-3-18z"/>
<path class="c56" d="M3596 1610l-42 7 1 6-2 5-5 4 41-12 5-2 3-4z"/>
<path class="c59" d="M3069 1406l10 10-34 4-32 5-28 7-14-13 30-6 32-4z"/>
<path class="c74" d="M3169 1571l42 9-4 15-2 16-1 16-43-7 0-17 3-17z"/>
<path class="c74" d="M3211 1580l43 7-4 30-1 16-45-6 1-16 2-16z"/>
<path class="c54" d="M3237 1130l-16-4-18 14-14 15-11 15 22 5 9-16 13-15z"/>
<path class="c72" d="M3162 1518l34 10-11 14-9 14-7 15-40-11 9-15 11-14z"/>
<path class="c59" d="M3143 1456l21 10-24 9-22 10-19 11-28-12 21-11 25-9z"/>
<path class="c74" d="M3129 1560l40 11-5 15-3 17 0 17-43-8 1-18 4-17z"/>
<path class="c74" d="M3254 1587l44 7-3 42-46-3 2-31z"/>
<path class="c72" d="M2985 1432l17 13-24 10-20 11-16 13-20-15 17-13 21-10z"/>
<path class="c59" d="M3061 1397l8 9-36 3-32 4-30 6-10-13 30-5 34-3z"/>
<path class="c51" d="M3138 1277l-13 2 18 19 22 20 25 20 10-2-24-20-21-20z"/>
<path class="c55" d="M3291 1535l28 18 4-33-25-13-6 19z"/>
<path class="c74" d="M3091 1549l38 11-6 17-4 17-1 18-40-11 2-18 4-18z"/>
<path class="c74" d="M3298 1594l45 5-1 39-47-2 1-28z"/>
<path class="c48" d="M3304 1093l-7-2-29 11-26 11-21 13 16 4 20-13 22-13z"/>
<path class="c56" d="M3636 1602l-40 8 1 4-3 4-5 2 38-14 7 0 3-1z"/>
<path class="c71" d="M3308 1789l21-14 27-34-2 17-29 21z"/>
<path class="c59" d="M3164 1466l23 9-21 10-19 10-18 12-30-11 19-11 22-10z"/>
<path class="c72" d="M3196 1528l36 10-15 27-6 15-42-9 7-15 9-14z"/>
<path class="c67" d="M3214 1680l42 2 12 34 8 18-34 4-12-20-9-19z"/>
<path class="c74" d="M3343 1599l14 1 0 38-15 0 0-26z"/>
<path class="c59" d="M3056 1388l5 9-36 1-34 3-30 5-7-13 31-4 34-2z"/>
<path class="c74" d="M3056 1537l35 12-7 16-4 18-2 18-37-11 1-19 5-18z"/>
<path class="c72" d="M2971 1419l14 13-25 9-21 10-17 13-16-16 17-12 22-9z"/>
<path class="c68" d="M3161 1620l43 7 2 17 3 18 5 18-41-3-7-20-4-19z"/>
<path class="c59" d="M3187 1475l24 9-34 22-15 12-33-11 18-12 19-10z"/>
<path class="c56" d="M3674 1592l-38 10 1 3-3 1-7 0 36-15 11 2z"/>
<path class="c74" d="M3023 1524l33 13-9 16-5 18-1 19-35-14 1-19 6-17z"/>
<path class="c72" d="M3232 1538l37 8-11 27-4 14-43-7 13-29z"/>
<path class="c55" d="M3169 1222l-21-3 4 19 8 19 11 19 19 2-10-19-7-19z"/>
<path class="c59" d="M3054 1379l2 9-37-1-34 2-31 4-3-13 31-2 34-1z"/>
<path class="c51" d="M3250 1480l24 14 6-8 17-14-17-9-22 11z"/>
<path class="c52" d="M3842 1387l0 22-19-18-25-21-32-21 0-26 32 23 25 21z"/>
<path class="c58" d="M3200 1175l-22-5-6 17-3 17 0 18 23 4 0-18 3-17z"/>
<path class="c72" d="M2961 1406l10 13-26 8-22 9-17 12-12-16 18-11 22-9z"/>
<path class="c77" d="M3365 1645l-8-7 0-38 10 6-1 26z"/>
<path class="c59" d="M3211 1484l26 9-29 23-12 12-34-10 15-12 16-11z"/>
<path class="c74" d="M2992 1509l31 15-10 16-6 17-1 19-32-14 2-19 6-18z"/>
<path class="c76" d="M3376 1704l-14-21 3-38 24 19-8 27z"/>
<path class="c62" d="M3372 1589l-15-2 0 38 16 1-1-25z"/>
<path class="c68" d="M3118 1612l43 8 1 18 4 19 7 20-40-6-8-21-5-19z"/>
<path class="c51" d="M3154 1276l-16 1 17 19 21 20 24 20 11-1-22-20-19-20z"/>
<path class="c72" d="M3269 1546l37 7-8 41-44-7 9-28z"/>
<path class="c56" d="M3709 1581l-35 11 0 1-11-2 34-17 12 6z"/>
<path class="c59" d="M3054 1370l0 9-38-2-34 1-31 2 0-12 31-1 35 1z"/>
<path class="c58" d="M3348 1606l9 7 0-39-9-5 0 25z"/>
<path class="c69" d="M3242 1738l34-4 20 36 12 19-20 11-33-42z"/>
<path class="c72" d="M2954 1393l7 13-27 6-22 9-18 11-9-17 19-9 23-8z"/>
<path class="c47" d="M3693 1197l21 17-33-26-39-28-44-27-13-17 41 28 36 27z"/>
<path class="c62" d="M3415 1592l-43-3 1 37 46 0-2-22z"/>
<path class="c57" d="M3193 1415l8 6-75 2-34 3-13-10 36-2 39 0z"/>
<path class="c57" d="M3187 1409l6 6-78-1-36 2-10-10 38 0 39 1z"/>
<path class="c57" d="M3201 1421l9 6-71 5-33 4-14-10 34-3 37-2z"/>
<path class="c74" d="M2965 1495l27 14-10 16-6 18-2 19-29-16 3-19 6-17z"/>
<path class="c59" d="M3237 1493l26 8-22 24-9 13-36-10 26-24z"/>
<path class="c57" d="M3183 1403l4 6-80-3-38 0-8-9 80 3z"/>
<path class="c57" d="M3210 1427l10 7-66 7-30 5-18-10 68-7z"/>
<path class="c67" d="M3173 1677l41 3 7 19 9 19 12 20-34 2-14-22-12-21z"/>
<path class="c72" d="M3306 1553l39 7-2 39-45-5 5-27z"/>
<path class="c57" d="M3180 1398l3 5-83-6-39 0-5-9 81 5z"/>
<path class="c59" d="M3057 1362l-3 8-37-2-35-1-31 1 4-11 31 0 34 2z"/>
<path class="c57" d="M3220 1434l11 6-60 10-28 6-19-10 62-9z"/>
<path class="c56" d="M3741 1569l-32 12 0-1-4-2-8-4 31-18 9 6 4 4z"/>
<path class="c68" d="M3078 1601l40 11 2 19 5 19 8 21-38-7-9-22-6-21z"/>
<path class="c51" d="M3274 1494l24 13 5-9 12-18-18-8-17 14z"/>
<path class="c72" d="M2951 1380l3 13-27 5-23 8-19 9-3-16 18-8 24-6z"/>
<path class="c46" d="M3400 1066l6 1-40 7-36 8-33 9 7 2 29-10 32-9z"/>
<path class="c55" d="M3319 1553l29 16 1-37-26-12-3 22z"/>
<path class="c62" d="M3457 1594l-42-2 4 34 46-1-4-20z"/>
<path class="c49" d="M3169 1376l5 8 65 21 38 10-2-3-74-24z"/>
<path class="c49" d="M3174 1384l6 8 64 18 35 8-2-3-72-21z"/>
<path class="c52" d="M3837 1366l5 21-19-20-25-21-32-23-3-24 31 24 25 22z"/>
<path class="c49" d="M3166 1369l3 7 67 24 39 12-2-3-75-26z"/>
<path class="c57" d="M3179 1393l1 5-84-9-40-1-2-9 81 7z"/>
<path class="c49" d="M3180 1392l8 8 61 15 34 6-4-3-69-17z"/>
<path class="c57" d="M3231 1440l12 6-54 12-25 8-21-10 57-12z"/>
<path class="c74" d="M2942 1479l23 16-11 15-6 17-3 19-25-16 3-19 7-17z"/>
<path class="c49" d="M3164 1363l2 6 68 27 39 13 0-3-76-29z"/>
<path class="c59" d="M3263 1501l28 7-16 25-6 13-37-8 20-25z"/>
<path class="c72" d="M3345 1560l12 2 0 38-14-1 1-26z"/>
<path class="c49" d="M3188 1400l9 9 90 16-4-4-66-13z"/>
<path class="c49" d="M3164 1357l0 6 33 14 76 29 0-2-76-31z"/>
<path class="c57" d="M3179 1388l0 5-85-11-40-3 0-9 82 10z"/>
<path class="c51" d="M3171 1276l-17 0 16 19 19 20 22 20 13 1-20-20-18-20z"/>
<path class="c57" d="M3243 1446l14 6-48 15-22 8-23-9 52-14z"/>
<path class="c59" d="M3063 1355l-6 7-71-5-31 0 7-11 64 4z"/>
<path class="c49" d="M3197 1409l11 9 84 10-5-3-62-10z"/>
<path class="c45" d="M3531 1083l20 8-39-27-52 3-48 4-6-4 44-6 46-4z"/>
<path class="c73" d="M3354 1758l2-17 20-37 14 18-23 25z"/>
<path class="c56" d="M3770 1556l-29 13 0-3-4-4-9-6 27-19 10 8 5 6z"/>
<path class="c62" d="M3499 1594l-42 0 7 21 1 10 45-4-5-17z"/>
<path class="c49" d="M3166 1351l-2 6 33 16 76 31 0-2-74-34z"/>
<path class="c55" d="M3192 1226l-23-4 4 18 7 19 10 19 21 3-9-19-6-18z"/>
<path class="c72" d="M2951 1368l0 12-27 5-24 6-18 8 0-16 18-7 24-5z"/>
<path class="c78" d="M3367 1606l-10-6 0-38 10 4 0 27z"/>
<path class="c49" d="M3208 1418l13 9 76 5-5-4-58-6z"/>
<path class="c57" d="M3181 1384l-2 4-85-14-40-4 3-8 81 13z"/>
<path class="c74" d="M2922 1464l20 15-12 15-7 17-3 19-21-18 3-18 7-16z"/>
<path class="c68" d="M3041 1590l37 11 2 20 6 21 9 22-36-10-10-23-6-21z"/>
<path class="c77" d="M3389 1664l-24-19 2-39 29 17-4 28z"/>
<path class="c57" d="M3257 1452l14 6-41 17-19 9-24-9 45-16z"/>
<path class="c59" d="M3291 1508l28 7-13 38-37-7 14-26z"/>
<path class="c54" d="M3255 1136l-18-6-15 14-13 15-9 16 24 6 8-15 10-15z"/>
<path class="c49" d="M3170 1347l-4 4 33 17 74 34 2-2-73-35z"/>
<path class="c49" d="M3221 1427l13 9 69-1-6-3-53-3z"/>
<path class="c64" d="M3369 1551l-12-2 0 38 15 2-2-26z"/>
<path class="c51" d="M3298 1507l25 13 10-32-18-8-12 18z"/>
<path class="c59" d="M3071 1348l-8 7-70-8-31-1 11-10 62 6z"/>
<path class="c57" d="M3184 1380l-3 4-85-16-39-6 6-7 79 15z"/>
<path class="c55" d="M3348 1569l9 5 0-38-8-4-1 25z"/>
<path class="c57" d="M3271 1458l15 6-34 18-15 11-26-9 39-18z"/>
<path class="c62" d="M3540 1594l-41 0 9 19 2 8 44-4-7-15z"/>
<path class="c49" d="M3175 1343l-5 4 32 18 73 35 2-2-71-36z"/>
<path class="c52" d="M3829 1345l8 21-18-21-25-22-31-24-8-23 31 24 25 23z"/>
<path class="c67" d="M3133 1671l40 6 9 20 12 21 14 22-32-1-18-24-14-22z"/>
<path class="c58" d="M3224 1181l-24-6-5 16-3 17 0 18 25 6 0-18 2-16z"/>
<path class="c56" d="M3795 1541l-25 15 0-5-5-6-10-8 24-20 11 10 5 8z"/>
<path class="c72" d="M2955 1357l-4 11-27 3-24 5-18 7 4-15 19-6 23-4z"/>
<path class="c71" d="M3288 1800l37-21 29-21-1 15-42 19z"/>
<path class="c48" d="M3312 1098l-8-5-25 11-22 13-20 13 18 6 17-13 19-13z"/>
<path class="c74" d="M2906 1448l16 16-13 14-7 16-3 18-17-18 3-17 8-16z"/>
<path class="c49" d="M3234 1436l14 9 62-6-7-4-48 1z"/>
<path class="c47" d="M3669 1182l24 15-31-26-36-27-41-28-16-14 38 27 34 27z"/>
<path class="c59" d="M3319 1515l29 6-3 39-39-7 9-25z"/>
<path class="c64" d="M3405 1555l-36-4 3 38 43 3-6-24z"/>
<path class="c51" d="M3190 1278l-19-2 15 20 18 20 20 20 14 1-18-20-16-20z"/>
<path class="c57" d="M3189 1376l-5 4-42-10-79-15 8-7 77 17z"/>
<path class="c68" d="M3006 1576l35 14 2 20 6 21 10 23-33-12-11-23-7-22z"/>
<path class="c49" d="M3182 1340l-7 3 31 19 71 36 3-1-68-38z"/>
<path class="c57" d="M3286 1464l16 5-39 32-26-8 32-20z"/>
<path class="c69" d="M3208 1740l34-2 28 41 18 21-21 8-22-23-20-23z"/>
<path class="c59" d="M3082 1342l-11 6-36-6-62-6 15-10 59 9z"/>
<path class="c49" d="M3248 1445l16 9 52-12-6-3-43 4z"/>
<path class="c62" d="M3579 1591l-39 3 12 16 2 7 42-7-9-11z"/>
<path class="c59" d="M3348 1521l9 2 0 39-12-2 2-26z"/>
<path class="c72" d="M2962 1346l-7 11-27 1-23 4-19 6 9-15 18-4 23-3z"/>
<path class="c74" d="M2894 1432l12 16-13 13-8 16-3 17-13-19 3-16 8-15z"/>
<path class="c56" d="M3816 1525l-21 16 0-6-5-8-11-10 21-20 11 11 5 9z"/>
<path class="c57" d="M3195 1373l-6 3-41-11-77-17 11-6 74 19z"/>
<path class="c49" d="M3190 1338l-8 2 30 19 68 38 4-1-65-39z"/>
<path class="c76" d="M3390 1722l-14-18 10-26 3-14 24 18-14 27z"/>
<path class="c78" d="M3396 1623l-29-17 0-40 28 14 1 29z"/>
<path class="c57" d="M3302 1469l16 5-27 34-28-7 26-22z"/>
<path class="c64" d="M3440 1559l-35-4 10 37 42 2-10-23z"/>
<path class="c51" d="M3323 1520l26 12 2-37-18-7-7 21z"/>
<path class="c49" d="M3264 1454l16 9 44-18-8-3-36 8z"/>
<path class="c75" d="M3367 1566l-10-4 0-39 8 3 2 27z"/>
<path class="c55" d="M3217 1232l-25-6 4 18 6 18 9 19 22 5-7-18-6-19z"/>
<path class="c68" d="M2974 1562l32 14 2 21 7 22 11 23-30-14-12-23-7-22z"/>
<path class="c52" d="M3816 1324l13 21-18-22-25-23-31-24-10-23 30 25 23 24z"/>
<path class="c59" d="M3095 1337l-13 5-35-7-59-9 17-8 57 11z"/>
<path class="c49" d="M3200 1336l-10 2 29 19 65 39 5-1-62-39z"/>
<path class="c57" d="M3203 1370l-8 3-39-12-74-19 13-5 70 21z"/>
<path class="c62" d="M3616 1588l-37 3 14 14 3 5 40-8-10-8z"/>
<path class="c51" d="M3211 1281l-21-3 14 19 16 20 18 20 15 2-16-19-14-20z"/>
<path class="c67" d="M3095 1664l38 7 11 22 14 22 18 24-31-4-21-25-16-24z"/>
<path class="c57" d="M3318 1474l17 5-16 36-28-7 18-23z"/>
<path class="c74" d="M2885 1415l9 17-14 12-8 15-3 16-9-19 3-16 9-13z"/>
<path class="c49" d="M3280 1463l17 9 34-23-7-4-30 12z"/>
<path class="c72" d="M2973 1336l-11 10-26 0-23 3-18 4 12-14 18-3 22-1z"/>
<path class="c60" d="M3366 1512l-9-2 0 39 12 2-2-26z"/>
<path class="c56" d="M3833 1509l-17 16 0-8-5-9-11-11 16-22 12 13 6 11z"/>
<path class="c64" d="M3475 1562l-35-3 17 35 42 0-15-21z"/>
<path class="c51" d="M3349 1532l8 4 0-39-6-2-1 25z"/>
<path class="c46" d="M3394 1068l4-2-33 8-32 9-29 10 8 5 25-11 27-10z"/>
<path class="c49" d="M3211 1335l-11 1 27 20 62 39 5 0-57-40z"/>
<path class="c53" d="M3315 1425l2 1-83-8-41-3-6-6 85 9z"/>
<path class="c53" d="M3317 1426l1 2-78-6-39-1-8-6 82 6z"/>
<path class="c53" d="M3314 1423l1 2-85-12-43-4-4-6 87 12z"/>
<path class="c53" d="M3318 1428l3 2-75-3-36 0-9-6 78 4z"/>
<path class="c53" d="M3313 1422l1 1-88-14-43-6-3-5 89 15z"/>
<path class="c57" d="M3212 1368l-9 2-38-12-70-21 15-4 67 22z"/>
<path class="c53" d="M3321 1430l2 1-69 1-34 2-10-7 73 1z"/>
<path class="c45" d="M3510 1078l21 5-35-26-46 4-44 6-6-1 79-13z"/>
<path class="c53" d="M3313 1421l0 1-89-17-44-7-1-5 89 17z"/>
<path class="c59" d="M3110 1333l-15 4-33-8-57-11 21-8 54 14z"/>
<path class="c60" d="M3391 1516l-25-4 3 39 36 4-9-25z"/>
<path class="c49" d="M3297 1472l18 8 24-28-8-3-23 15z"/>
<path class="c57" d="M3335 1479l17 4-4 38-29-6 11-24z"/>
<path class="c53" d="M3323 1431l3 2-64 4-31 3-11-6 68-3z"/>
<path class="c62" d="M3651 1582l-35 6 17 10 3 4 38-10-12-5z"/>
<path class="c53" d="M3313 1419l0 2-90-20-44-8 0-5 89 20z"/>
<path class="c77" d="M3413 1682l-24-18 7-41 28 15-6 30z"/>
<path class="c68" d="M2945 1546l29 16 3 21 7 22 12 23-27-15-13-24-8-22z"/>
<path class="c75" d="M3395 1580l-28-14-2-40 24 10 5 29z"/>
<path class="c53" d="M3326 1433l3 2-57 6-29 5-12-6 63-6z"/>
<path class="c47" d="M3643 1169l26 13-28-26-34-27-44-31-12-7 35 27 31 25z"/>
<path class="c74" d="M2882 1399l3 16-13 12-9 13-3 16-4-20 3-14 9-12z"/>
<path class="c73" d="M3353 1773l1-15 25-23 11-13 13 16-15 12-16 12z"/>
<path class="c53" d="M3313 1418l0 1-45-11-89-20 2-4 88 21z"/>
<path class="c72" d="M2988 1326l-15 10-26-1-22 1-18 3 17-14 17-1 22 0z"/>
<path class="c54" d="M3274 1146l-19-10-13 15-10 15-8 15 25 9 6-15 9-15z"/>
<path class="c58" d="M3249 1190l-25-9-5 17-2 16 0 18 26 8 0-17 2-17z"/>
<path class="c49" d="M3224 1336l-13-1 26 20 57 40 5 0-52-39z"/>
<path class="c53" d="M3329 1435l3 1-75 16-14-6 57-8z"/>
<path class="c56" d="M3846 1491l-13 18 1-10-6-11-12-13 13-22 12 15 6 13z"/>
<path class="c57" d="M3352 1483l5 1 0 39-9-2 2-25z"/>
<path class="c53" d="M3314 1417l-1 1-44-13-88-21 3-4 87 23z"/>
<path class="c52" d="M3799 1305l17 19-18-22-23-24-30-25-14-20 29 25 22 24z"/>
<path class="c57" d="M3223 1367l-11 1-35-13-67-22 18-3 62 23z"/>
<path class="c64" d="M3508 1563l-33-1 24 32 41 0-20-20z"/>
<path class="c49" d="M3315 1480l18 8 14-33-8-3-17 19z"/>
<path class="c53" d="M3332 1436l4 2-65 20-14-6 50-11z"/>
<path class="c51" d="M3233 1286l-22-5 12 19 14 20 16 19 16 3-26-38z"/>
<path class="c53" d="M3316 1417l-2 0-43-14-87-23 5-4 84 26z"/>
<path class="c70" d="M3365 1526l-8-3 0-39 6 2 2 27z"/>
<path class="c69" d="M3176 1739l32 1 17 22 20 23 22 23-19 5-28-25-24-25z"/>
<path class="c60" d="M3416 1520l-25-4 14 39 35 4-16-25z"/>
<path class="c59" d="M3128 1330l-18 3-84-23 24-6 50 16z"/>
<path class="c53" d="M3336 1438l4 2-54 24-15-6 43-14z"/>
<path class="c62" d="M3684 1576l-33 6 23 10 35-11-13-2z"/>
<path class="c53" d="M3317 1416l-1 1-43-15-84-26 6-3 81 27z"/>
<path class="c67" d="M3059 1654l36 10 13 22 16 24 21 25-29-6-23-26-19-25z"/>
<path class="c49" d="M3238 1337l-14-1 23 20 52 39 6 0-47-39z"/>
<path class="c55" d="M3243 1240l-26-8 3 17 6 19 7 18 24 6-7-18-4-17z"/>
<path class="c71" d="M3267 1808l44-16 42-19-1 11-55 17z"/>
<path class="c74" d="M2882 1383l0 16-14 11-9 12-3 14 0-19 3-13 9-12z"/>
<path class="c78" d="M3424 1638l-28-15-1-43 29 12 1 31z"/>
<path class="c68" d="M2920 1530l25 16 3 21 8 22 13 24-24-17-14-24-8-22z"/>
<path class="c48" d="M3321 1106l-9-8-21 12-19 13-17 13 19 10 14-14 15-13z"/>
<path class="c53" d="M3340 1440l4 1-42 28-16-5 36-17z"/>
<path class="c72" d="M3005 1318l-17 8-47-2-17 1 21-12 36 2z"/>
<path class="c57" d="M3234 1366l-11 1-95-37 20-3 56 25z"/>
<path class="c53" d="M3319 1415l-2 1-41-16-81-27 8-3 77 29z"/>
<path class="c49" d="M3333 1488l18 7 4-37-8-3-10 22z"/>
<path class="c61" d="M3362 1472l-5-1 0 39 9 2-3-26z"/>
<path class="c56" d="M3855 1474l-9 17 1-10-6-13-12-15 8-22 12 16 6 14z"/>
<path class="c53" d="M3344 1441l4 1-30 32-16-5 28-19z"/>
<path class="c70" d="M3389 1536l-24-10-2-40 15 5 8 30z"/>
<path class="c64" d="M3540 1563l-32 0 32 31 39-3-24-17z"/>
<path class="c53" d="M3321 1415l-2 0-39-16-77-29 9-2 73 30z"/>
<path class="c60" d="M3440 1523l-24-3 24 39 35 3-23-25z"/>
<path class="c49" d="M3253 1339l-15-2 20 19 47 39 7 1-41-38z"/>
<path class="c50" d="M3277 1415l2 3 78 14-40-6-2-1 42 7-41-8z"/>
<path class="c50" d="M3275 1412l2 3 80 17-42-7-1-2 43 9-42-10z"/>
<path class="c50" d="M3279 1418l4 3 74 11-39-4-1-2 40 6-39-6z"/>
<path class="c61" d="M3374 1475l-12-3 4 40 25 4-11-27z"/>
<path class="c50" d="M3273 1409l2 3 82 20-43-9-1-1 44 10-43-11z"/>
<path class="c49" d="M3351 1495l6 2 0-39-2 0-3 25z"/>
<path class="c59" d="M3148 1327l-20 3-78-26 26-5 46 17z"/>
<path class="c50" d="M3283 1421l4 4 70 7-36-2-3-2 39 4-38-5z"/>
<path class="c50" d="M3273 1406l0 3 84 23-44-10 0-1 44 11-43-12z"/>
<path class="c62" d="M3714 1568l-30 8 21 5 4 0 32-12-5 1-9 0z"/>
<path class="c53" d="M3348 1442l4 2-17 35-17-5 20-21z"/>
<path class="c50" d="M3287 1425l5 3 65 4-34-1-2-1 36 2-35-3z"/>
<path class="c50" d="M3273 1404l0 2 84 26-44-11 0-2 44 13-43-14z"/>
<path class="c52" d="M3778 1286l21 19-17-23-22-24-29-25-17-19 27 25 21 24z"/>
<path class="c50" d="M3292 1428l5 4 60 0-31 1-3-2 34 1-33-1z"/>
<path class="c50" d="M3273 1402l0 2 84 28-44-13 0-1 44 14-42-15z"/>
<path class="c53" d="M3324 1415l-3 0-36-17-73-30 11-1 67 31z"/>
<path class="c75" d="M3424 1592l-29-12-6-44 24 8 8 32z"/>
<path class="c76" d="M3403 1738l-13-16 9-13 14-27 24 16-10 14-11 13z"/>
<path class="c74" d="M2886 1368l-4 15-14 9-9 12-3 13 8-32 8-9z"/>
<path class="c57" d="M3247 1366l-13 0-86-39 22-2 50 26z"/>
<path class="c50" d="M3297 1432l6 3 54-3-28 3-3-2 31-1-30 0z"/>
<path class="c50" d="M3275 1400l-2 2 84 30-44-14 1-1 43 15-42-16z"/>
<path class="c51" d="M3257 1292l-24-6 10 18 26 38 16 3-20-36z"/>
<path class="c50" d="M3303 1435l7 4 47-7-25 4-3-1 28-3-27 2z"/>
<path class="c50" d="M3277 1398l-2 2 82 32-43-15 2 0 41 15-40-16z"/>
<path class="c72" d="M3026 1310l-21 8-24-3-36-2 24-12 34 5z"/>
<path class="c53" d="M3352 1444l4 1-4 38-17-4 11-24z"/>
<path class="c68" d="M2899 1512l21 18 3 20 8 22 14 24-20-19-15-23-8-22z"/>
<path class="c50" d="M3310 1439l6 3 41-10-21 6-4-2 25-4-24 4z"/>
<path class="c50" d="M3280 1397l-3 1 80 34-41-15 1-1 40 16-39-17z"/>
<path class="c53" d="M3327 1415l-3 0-34-17-67-31 11-1 62 32z"/>
<path class="c56" d="M3859 1455l-4 19 0-13-6-14-12-16 5-22 12 17 6 16z"/>
<path class="c61" d="M3387 1478l-13-3 17 41 25 4-19-28z"/>
<path class="c49" d="M3269 1342l-16-3 18 19 41 38 7 1-35-37z"/>
<path class="c50" d="M3316 1442l8 3 33-13-17 8-4-2 21-6-20 5z"/>
<path class="c53" d="M3356 1445l1 0 0 39-5-1 3-25z"/>
<path class="c50" d="M3284 1396l-4 1 77 35-40-16 2-1 38 17-37-18z"/>
<path class="c47" d="M3613 1158l30 11-26-26-31-25-35-27-20-8 32 25 27 26z"/>
<path class="c64" d="M3571 1563l-31 0 39 28 37-3-27-16z"/>
<path class="c60" d="M3463 1526l-23-3 35 39 33 1-29-24z"/>
<path class="c66" d="M3363 1486l-6-2 0-39 2 1 2 27z"/>
<path class="c50" d="M3324 1445l7 4 26-17-13 9-4-1 17-8-17 7z"/>
<path class="c50" d="M3289 1395l-5 1 73 36-38-17 2 0 36 17-35-18z"/>
<path class="c70" d="M3413 1544l-24-8-11-45 15 5 14 32z"/>
<path class="c67" d="M3026 1642l33 12 15 24 19 25 23 26-28-10-25-27-21-25z"/>
<path class="c53" d="M3330 1415l-3 0-93-49 13 0 55 32z"/>
<path class="c59" d="M3170 1325l-22 2-72-28 29-4 41 19z"/>
<path class="c57" d="M3261 1366l-14 0-77-41 23 0 44 27z"/>
<path class="c62" d="M3740 1559l-26 9 13 2 9 0 5-1 29-13-6 3-9 1z"/>
<path class="c50" d="M3331 1449l8 3 18-20-9 10-4-1 13-9-13 9z"/>
<path class="c50" d="M3294 1395l-5 0 68 37-36-17 3 0 33 17-32-18z"/>
<path class="c74" d="M2895 1353l-9 15-14 8-8 9-3 12 8-19 4-10 8-9z"/>
<path class="c66" d="M3378 1491l-15-5-4-40 4 1 10 29z"/>
<path class="c50" d="M3339 1452l8 3 10-23-5 12-4-2 9-10-9 10z"/>
<path class="c50" d="M3299 1395l-5 0 63 37-33-17 3 0 30 17-29-18z"/>
<path class="c58" d="M3275 1202l-26-12-4 16-2 17 0 17 28 9-1-16 2-16z"/>
<path class="c45" d="M3487 1076l23 2-31-25-41 6-40 7-4 2 67-16z"/>
<path class="c61" d="M3399 1480l-12-2 29 42 24 3-27-28z"/>
<path class="c77" d="M3437 1698l-24-16 5-14 6-30 29 14-4 16-5 15z"/>
<path class="c46" d="M3387 1073l7-5-30 9-27 10-25 11 9 8 20-12 22-11z"/>
<path class="c55" d="M3271 1249l-28-9 3 17 4 17 7 18 24 7-8-33z"/>
<path class="c53" d="M3334 1415l-4 0-83-49 14 0 48 32z"/>
<path class="c49" d="M3285 1345l-16-3 15 18 35 37 7 1-28-35z"/>
<path class="c72" d="M3050 1304l-24 6-23-4-34-5 28-10 32 7z"/>
<path class="c50" d="M3347 1455l8 3 2-26-1 13-4-1 5-12-5 12z"/>
<path class="c63" d="M3357 1432l0 39 5 1-3-26z"/>
<path class="c50" d="M3305 1395l-6 0 58 37-30-17 3 0 27 17-26-18z"/>
<path class="c68" d="M2882 1494l17 18 3 20 8 22 15 23-17-20-15-23-8-21z"/>
<path class="c63" d="M3357 1432l5 40 12 3-11-28z"/>
<path class="c56" d="M3859 1437l0 18 1-13-6-16-12-17 0-22 12 19 6 16z"/>
<path class="c52" d="M3754 1269l24 17-16-23-21-24-34-31-14-11 25 25 21 24z"/>
<path class="c69" d="M3145 1735l31 4 20 24 24 25 28 25-19 1-32-27-28-26z"/>
<path class="c54" d="M3294 1157l-20-11-10 14-9 15-6 15 26 12 4-16 7-14z"/>
<path class="c50" d="M3312 1396l-7-1 52 37-27-17 4 0 23 17-23-18z"/>
<path class="c66" d="M3393 1496l-15-5-15-44 4 1 18 32z"/>
<path class="c50" d="M3355 1458l2 0 0-26 0 13-1 0 1-13-1 13z"/>
<path class="c51" d="M3281 1299l-24-7 8 17 20 36 18 5-16-34z"/>
<path class="c64" d="M3600 1561l-29 2 45 25 35-6-31-13z"/>
<path class="c60" d="M3486 1527l-23-1 45 37 32 0-34-23z"/>
<path class="c53" d="M3337 1415l-3 0-73-49 15 1 41 32z"/>
<path class="c57" d="M3276 1367l-15-1-68-41 25 0 38 27z"/>
<path class="c63" d="M3357 1432l17 43 13 3-20-30z"/>
<path class="c78" d="M3453 1652l-29-14 1-15-1-31 28 11 2 16 0 17z"/>
<path class="c50" d="M3319 1397l-7-1 45 36-23-17 3 0 20 17-19-17z"/>
<path class="c73" d="M3352 1784l1-11 35-23 15-12 14 13-20 12-21 11z"/>
<path class="c59" d="M3193 1325l-23 0-65-30 32-3 36 21z"/>
<path class="c62" d="M3763 1549l-23 10 15 1 9-1 31-18-6 4-10 3z"/>
<path class="c61" d="M3411 1482l-12-2 41 43 23 3-34-29z"/>
<path class="c65" d="M3359 1446l-2-1 0-13z"/>
<path class="c75" d="M3452 1603l-28-11-3-16-8-32 23 8 12 34z"/>
<path class="c74" d="M2907 1339l-12 14-14 6-8 9-4 10 14-19 3-9 8-6z"/>
<path class="c49" d="M3303 1350l-18-5 13 18 28 35 8 2-22-34z"/>
<path class="c63" d="M3357 1432l30 46 12 2-28-31z"/>
<path class="c50" d="M3326 1398l-7-1 38 35-20-17 4 1 16 16-16-17z"/>
<path class="c70" d="M3436 1552l-23-8-20-48 15 4 20 34z"/>
<path class="c65" d="M3363 1447l-4-1-2-14z"/>
<path class="c53" d="M3341 1416l-4-1-61-48 15 2 33 31z"/>
<path class="c66" d="M3408 1500l-15-4-26-48 4 1 25 34z"/>
<path class="c65" d="M3367 1448l-4-1-6-15z"/>
<path class="c65" d="M3371 1449l-4-1-10-16z"/>
<path class="c50" d="M3334 1400l-8-2 31 34-16-16 4 1 12 15-12-16z"/>
<path class="c63" d="M3357 1432l42 48 12 2-36-33z"/>
<path class="c72" d="M3076 1299l-26 5-53-13 31-9 29 10z"/>
<path class="c65" d="M3375 1450l-4-1-14-17z"/>
<path class="c65" d="M3379 1450l-4 0-18-18z"/>
<path class="c57" d="M3291 1369l-15-2-58-42 26 1 31 28z"/>
<path class="c71" d="M3248 1813l49-12 55-17-2 9-31 8-35 6z"/>
<path class="c50" d="M3341 1402l-7-2 23 32-12-15 4 0 8 15-8-15z"/>
<path class="c53" d="M3345 1417l-4-1-50-47 16 2 25 30z"/>
<path class="c65" d="M3382 1451l-3-1-22-18z"/>
<path class="c56" d="M3855 1418l4 19 1-15-6-16-12-19-5-21 12 19 6 18z"/>
<path class="c63" d="M3357 1432l54 50 12 1-44-33z"/>
<path class="c61" d="M3423 1483l-12-1 52 44 23 1-41-29z"/>
<path class="c63" d="M3357 1432l2-12 3 1-5 11z"/>
<path class="c67" d="M2996 1628l30 14 16 25 21 25 25 27-25-11-27-28-23-27z"/>
<path class="c60" d="M3508 1528l-22-1 54 36 31 0-41-23z"/>
<path class="c65" d="M3385 1451l-3 0-25-19z"/>
<path class="c66" d="M3422 1503l-14-3-37-51 4 1 32 35z"/>
<path class="c68" d="M2869 1475l13 19 3 19 8 21 15 23-27-43-9-21z"/>
<path class="c64" d="M3627 1557l-27 4 51 21 33-6-35-11z"/>
<path class="c48" d="M3329 1117l-8-11-18 13-15 13-14 14 20 11 10-14 12-13z"/>
<path class="c50" d="M3349 1404l-8-2 16 30-8-15 4 1 4 14-4-14z"/>
<path class="c65" d="M3388 1451l-3 0-28-19z"/>
<path class="c63" d="M3357 1432l-2-26-6-2 8 28-4-14 3 1 1 13z"/>
<path class="c65" d="M3362 1421l4 1-9 10z"/>
<path class="c49" d="M3321 1355l-18-5 31 50 7 2-14-32z"/>
<path class="c63" d="M3357 1432l66 51 11 1-51-34z"/>
<path class="c62" d="M3783 1538l-20 11 16-1 10-3 27-20-6 6-11 5z"/>
<path class="c65" d="M3391 1451l-3 0-31-19z"/>
<path class="c59" d="M3218 1325l-25 0-56-33 33-2 31 23z"/>
<path class="c65" d="M3366 1422l4 2-13 8z"/>
<path class="c65" d="M3394 1451l-3 0-34-19z"/>
<path class="c53" d="M3349 1417l-4 0-38-46 17 2 17 29z"/>
<path class="c65" d="M3370 1424l4 1-17 7z"/>
<path class="c74" d="M2924 1325l-17 14-13 5-8 6-3 9 17-18 3-7 8-5z"/>
<path class="c47" d="M3582 1150l31 8-23-24-27-26-32-25-21-5 28 24 23 24z"/>
<path class="c65" d="M3396 1450l-2 1-37-19z"/>
<path class="c65" d="M3374 1425l3 2-20 5z"/>
<path class="c52" d="M3725 1253l29 16-15-23-21-24-25-25-24-15 24 25 19 23z"/>
<path class="c51" d="M3306 1307l-25-8 6 17 16 34 18 5-11-32z"/>
<path class="c65" d="M3398 1450l-2 0-39-18z"/>
<path class="c63" d="M3357 1432l77 52 10 0-58-34z"/>
<path class="c63" d="M3357 1432l13-35-8-3-5 38z"/>
<path class="c65" d="M3377 1427l4 2-24 3z"/>
<path class="c65" d="M3399 1449l-1 1-41-18z"/>
<path class="c65" d="M3381 1429l3 1-27 2z"/>
<path class="c66" d="M3436 1506l-14-3-15-18-32-35 4 0 39 37z"/>
<path class="c65" d="M3400 1448l-1 1-42-17z"/>
<path class="c63" d="M3357 1432l-1-13-3-1-13-41 12 2 5 53z"/>
<path class="c65" d="M3384 1430l3 2-30 0z"/>
<path class="c65" d="M3401 1447l-1 1-43-16z"/>
<path class="c70" d="M3458 1558l-22-6-8-18-20-34 14 3 26 37z"/>
<path class="c65" d="M3387 1432l3 2-33-2z"/>
<path class="c61" d="M3434 1484l-11-1 63 44 22 1-49-29z"/>
<path class="c57" d="M3307 1371l-16-2-47-43 28 3 23 27z"/>
<path class="c65" d="M3401 1446l0 1-44-15z"/>
<path class="c72" d="M3105 1295l-29 4-48-17 34-8 26 13z"/>
<path class="c65" d="M3390 1434l3 2-36-4z"/>
<path class="c63" d="M3357 1432l87 52 10 0-65-34z"/>
<path class="c65" d="M3401 1445l0 1-44-14z"/>
<path class="c65" d="M3393 1436l2 1-38-5z"/>
<path class="c65" d="M3401 1444l0 1-44-13z"/>
<path class="c65" d="M3395 1437l2 2-40-7z"/>
<path class="c53" d="M3353 1418l-4-1-25-44 16 4 9 27z"/>
<path class="c65" d="M3400 1442l1 2-44-12z"/>
<path class="c65" d="M3397 1439l2 2-42-9z"/>
<path class="c55" d="M3299 1261l-28-12 2 17 8 33 25 8-6-31z"/>
<path class="c65" d="M3399 1441l1 1-43-10z"/>
<path class="c63" d="M3357 1432l-6-67-12-4 10 43 6 2 2 26z"/>
<path class="c76" d="M3417 1751l-14-13 13-13 11-13 10-14 23 13-12 14-15 14z"/>
<path class="c49" d="M3339 1361l-18-6 20 47 8 2-7-29z"/>
<path class="c60" d="M3528 1527l-20 1 63 35 29-2-46-21z"/>
<path class="c63" d="M3357 1432l32 18 65 34 8-1-70-33z"/>
<path class="c56" d="M3846 1400l9 18 0-15-6-18-12-19-8-21 11 20 6 18z"/>
<path class="c63" d="M3357 1432l26-32-13-3-8 24z"/>
<path class="c63" d="M3357 1432l6-50 10 4-11 35-3-1-2 12z"/>
<path class="c64" d="M3652 1553l-25 4 57 19 30-8-38-8z"/>
<path class="c66" d="M3449 1508l-13-2-18-19-39-37 3 1 46 38z"/>
<path class="c63" d="M3357 1432l35 18 70 33 8-1-75-32z"/>
<path class="c62" d="M3799 1526l-16 12 16-2 11-5 23-22-6 7-11 6z"/>
<path class="c68" d="M2860 1456l9 19 3 18 9 21 15 22-9-22-15-21-9-20z"/>
<path class="c59" d="M3244 1326l-26-1-48-35 35 0 25 24z"/>
<path class="c63" d="M3357 1432l38-28-12-4-17 22z"/>
<path class="c58" d="M3302 1215l-27-13-3 15-2 16 1 16 28 12 1-31z"/>
<path class="c75" d="M3479 1612l-27-9-4-17-12-34 22 6 9 18 7 18z"/>
<path class="c74" d="M2945 1313l-21 12-13 4-8 5-3 7 22-18 3-5 8-3z"/>
<path class="c61" d="M3444 1484l-10 0 74 44 20-1-55-28z"/>
<path class="c63" d="M3357 1432l38 18 75 32 7-1-80-31z"/>
<path class="c57" d="M3324 1373l-17-2-35-42 28 3 15 27z"/>
<path class="c63" d="M3357 1432l51-24-13-4-25 19z"/>
<path class="c66" d="M3461 1510l-12-2-21-19-46-38 3 0 53 39z"/>
<path class="c63" d="M3357 1432l40 18 80 31 5-2-83-30z"/>
<path class="c77" d="M3460 1711l-23-13 7-15 5-15 4-16 27 12-4 16-7 16z"/>
<path class="c69" d="M3116 1729l29 6 24 26 28 26 32 27-18-2-36-28-32-28z"/>
<path class="c63" d="M3357 1432l62-19-11-5-34 17z"/>
<path class="c72" d="M3137 1292l-32 3-43-21 37-6 23 15z"/>
<path class="c78" d="M3480 1664l-27-12 1-16 0-17-2-16 27 9 3 18 0 17z"/>
<path class="c67" d="M2969 1613l27 15 17 25 23 27 27 28-22-15-30-28-24-27z"/>
<path class="c45" d="M3463 1077l24-1-26-24-67 16-7 5 55-18z"/>
<path class="c63" d="M3357 1432l-5-53-12-2-12-41 20 3 9 93z"/>
<path class="c63" d="M3357 1432l42 17 83 30 5-3-87-28z"/>
<path class="c63" d="M3357 1432l74-15-12-4-41 13z"/>
<path class="c70" d="M3480 1563l-22-5-10-18-26-37 14 3 31 38z"/>
<path class="c63" d="M3357 1432l-8-108-17-7 7 44 12 4 6 67z"/>
<path class="c60" d="M3547 1526l-19 1 72 34 27-4-51-19z"/>
<path class="c51" d="M3332 1317l-26-10 15 48 18 6-5-30z"/>
<path class="c52" d="M3694 1239l31 14-13-23-19-23-24-25-26-13 21 24 17 24z"/>
<path class="c63" d="M3357 1432l43 16 87 28 3-2-89-27z"/>
<path class="c56" d="M3832 1382l14 18 0-17-6-18-24-41 11 21 6 19z"/>
<path class="c63" d="M3357 1432l5-38 8 3 13-38-17-3-9 76z"/>
<path class="c63" d="M3357 1432l84-10-10-5-49 11z"/>
<path class="c61" d="M3454 1484l-10 0 84 43 19-1-61-27z"/>
<path class="c64" d="M3674 1548l-22 5 44 12 18 3 26-9-41-6z"/>
<path class="c66" d="M3473 1510l-12 0-23-20-53-39 3 0 58 39z"/>
<path class="c63" d="M3357 1432l89 29 44 13 3-3-91-25z"/>
<path class="c66" d="M3373 1386l15 6-22 30-4-1 7-24z"/>
<path class="c46" d="M3380 1082l7-9-46 21-20 12 8 11 33-24z"/>
<path class="c62" d="M3811 1513l-12 13 17-4 11-6 19-25-6 10-12 7z"/>
<path class="c63" d="M3357 1432l62-3 32-2-10-5-56 8z"/>
<path class="c54" d="M3315 1172l-21-15-8 15-7 14-4 16 27 13 7-29z"/>
<path class="c59" d="M3272 1329l-28-3-39-36 37 1 19 25z"/>
<path class="c63" d="M3357 1432l90 27 46 12 1-4-92-22z"/>
<path class="c57" d="M3340 1377l-16-4-24-41 28 4 8 27z"/>
<path class="c74" d="M2969 1301l-24 12-12 2-8 3-3 5 26-16 2-4 8-1z"/>
<path class="c63" d="M3357 1432l68 1 35-1-9-5-63 4z"/>
<path class="c68" d="M2856 1436l7 37 9 20 15 21-4-23-15-20-9-19z"/>
<path class="c63" d="M3357 1432l91 25 46 10 0-4-92-19z"/>
<path class="c63" d="M3357 1432l74 4 37 0-8-4-69 1z"/>
<path class="c63" d="M3357 1432l91 22 46 9-2-4-90-16z"/>
<path class="c63" d="M3357 1432l78 7 40 2-7-5-74-1z"/>
<path class="c63" d="M3357 1432l90 20 45 7-2-4-89-14z"/>
<path class="c63" d="M3357 1432l82 11 42 3-6-5-79-5z"/>
<path class="c63" d="M3357 1432l88 17 45 6-4-4-86-11z"/>
<path class="c63" d="M3357 1432l86 14 43 5-5-5-83-8z"/>
<path class="c66" d="M3483 1510l-10 0-27-20-58-39 3 0 63 39z"/>
<path class="c66" d="M3388 1392l15 6-33 26-4-2 15-20z"/>
<path class="c72" d="M3170 1290l-33 2-38-24 39-5 20 17z"/>
<path class="c61" d="M3462 1483l-8 1 93 42 17-2-67-26z"/>
<path class="c63" d="M3357 1432l8-88 16 7-8 35-10-4-6 50z"/>
<path class="c47" d="M3548 1144l34 6-21-24-23-24-28-24-23-2 24 23 20 23z"/>
<path class="c73" d="M3350 1793l2-9 24-10 21-11 20-12 13 11-24 11-26 11z"/>
<path class="c60" d="M3564 1524l-17 2 80 31 25-4-57-18z"/>
<path class="c63" d="M3357 1432l-9-149-20-10 4 44 17 7 8 108z"/>
<path class="c55" d="M3328 1273l-29-12 1 15 6 31 26 10-3-29z"/>
<path class="c66" d="M3493 1510l-10 0-29-20-63-39 3 0 68 39z"/>
<path class="c56" d="M3814 1364l18 18 1-18-6-19-11-21-17-19 11 21 5 20z"/>
<path class="c66" d="M3403 1398l15 7-44 20-4-1 23-17z"/>
<path class="c64" d="M3693 1541l-19 7 48 9 18 2 23-10-43-3z"/>
<path class="c63" d="M3357 1432l-9-93-20-3-10-40 26 3 13 133z"/>
<path class="c70" d="M3501 1567l-21-4-13-19-31-38 13 2 37 40z"/>
<path class="c62" d="M3819 1499l-8 14 17-5 12-7 10-15 5-12-6 10-12 9z"/>
<path class="c59" d="M3300 1332l-28-3-30-38 38 2 13 26z"/>
<path class="c74" d="M2997 1291l-28 10-11 1-8 1-2 4 32-17 6 0z"/>
<path class="c75" d="M3505 1620l-26-8-5-18-7-18-9-18 22 5 11 19 8 19z"/>
<path class="c71" d="M3229 1814l12 0 43-7 35-6 31-8-1 5-37 7-40 5z"/>
<path class="c61" d="M3470 1482l-8 1 69 29 33 12 16-3-73-25z"/>
<path class="c66" d="M3501 1508l-8 2-31-20-68-39 2-1 37 19 35 19z"/>
<path class="c52" d="M3659 1227l35 12-13-22-17-24-21-24-30-11 20 24 15 23z"/>
<path class="c68" d="M2856 1417l0 19 3 16 9 19 15 20 0-24-15-18-9-17z"/>
<path class="c66" d="M3418 1405l14 7-55 15-3-2 30-13z"/>
<path class="c63" d="M3357 1432l9-76 17 3 11-39-24-4-13 116z"/>
<path class="c67" d="M2945 1596l24 17 18 25 24 27 30 28-51-45-26-27z"/>
<path class="c48" d="M3339 1131l-10-14-13 13-12 13-10 14 21 15 14-28z"/>
<path class="c72" d="M3205 1290l-35 0-32-27 41-4 16 20z"/>
<path class="c61" d="M3370 1397l13 3 25-35-25-6-8 25z"/>
<path class="c60" d="M3580 1521l-16 3 61 21 27 8 22-5-61-16z"/>
<path class="c66" d="M3508 1506l-7 2-33-20-72-38 2 0 38 18 37 19z"/>
<path class="c66" d="M3432 1412l13 7-64 10-4-2 38-10z"/>
<path class="c61" d="M3477 1481l-7 1 74 28 36 11 13-3-76-24z"/>
<path class="c63" d="M3357 1432l-9-190-19-12-1 43 20 10 9 149z"/>
<path class="c62" d="M3823 1485l-4 14 18-6 12-9 6-10 2-6 2-13-6 12-12 10z"/>
<path class="c56" d="M3793 1347l21 17 1-18-5-20-11-21-21-19 10 22 5 20z"/>
<path class="c64" d="M3709 1534l-16 7 27 5 43 3 20-11-20 1-25-2z"/>
<path class="c58" d="M3329 1230l-27-15-2 15-1 31 29 12 0-28z"/>
<path class="c59" d="M3328 1336l-28-4-20-39 38 3 7 27z"/>
<path class="c74" d="M3028 1282l-31 9-11-1-6 0-3 1 33-14 8 2z"/>
<path class="c66" d="M3513 1504l-5 2-35-19-75-37 1-1 40 18 38 18z"/>
<path class="c66" d="M3445 1419l13 7-74 4-3-1 44-7z"/>
<path class="c61" d="M3383 1400l12 4 38-32-25-7-17 24z"/>
<path class="c70" d="M3520 1570l-19-3-15-19-37-40 12 2 22 20 20 20z"/>
<path class="c78" d="M3507 1674l-27-10 2-17 0-17-3-18 26 8 3 18 1 18z"/>
<path class="c76" d="M3430 1762l-13-11 16-12 15-14 12-14 22 11-14 14-18 14z"/>
<path class="c69" d="M3088 1719l28 10 27 27 32 28 36 28-17-5-40-30-35-29z"/>
<path class="c63" d="M3357 1432l10-126 19 10-5 35-16-7-8 88z"/>
<path class="c61" d="M3482 1479l-5 2 78 26 38 11 11-4-80-22z"/>
<path class="c66" d="M3518 1500l-5 4-36-19-78-36 1-1 41 17 40 17z"/>
<path class="c66" d="M3458 1426l12 8-83-2-3-2 51-3z"/>
<path class="c68" d="M2861 1397l-5 20 3 15 9 17 15 18 4-24-15-17-9-15z"/>
<path class="c72" d="M3242 1291l-37-1-19-21-7-10 43-1 12 21z"/>
<path class="c60" d="M3593 1518l-13 3 65 20 29 7 19-7-64-14z"/>
<path class="c77" d="M3482 1722l-22-11 9-15 7-16 4-16 27 10-5 16-9 16z"/>
<path class="c66" d="M3520 1497l-2 3-37-18-81-34 1-1 42 16 40 16z"/>
<path class="c61" d="M3395 1404l13 4 49-29-24-7-25 22z"/>
<path class="c66" d="M3470 1434l11 7-91-7-3-2 57 1z"/>
<path class="c63" d="M3357 1432l13-116 24 4 7-40-29-4-15 156z"/>
<path class="c62" d="M3823 1470l0 15 18-8 12-10 6-12 1-12-1-6-6 13-12 11z"/>
<path class="c52" d="M3621 1216l38 11-11-22-15-23-20-24-31-8 17 23 13 22z"/>
<path class="c74" d="M3062 1274l-34 8-18-5 36-13 7 6z"/>
<path class="c64" d="M3722 1526l-13 8 29 3 25 2 20-1 16-12-21 2-26 0z"/>
<path class="c56" d="M3767 1330l26 17 0-19-5-20-10-22-24-17 9 22 4 20z"/>
<path class="c66" d="M3522 1492l-2 5-37-18-82-32 0-1 42 15 41 15z"/>
<path class="c66" d="M3481 1441l9 7-97-12-3-2 62 4z"/>
<path class="c45" d="M3438 1081l25-4-21-22-55 18-7 9 42-21z"/>
<path class="c61" d="M3487 1476l-5 3 83 24 39 11 10-6-84-19z"/>
<path class="c63" d="M3357 1432l-7-231-14-12-7 41 19 12 9 190z"/>
<path class="c47" d="M3512 1141l36 3-17-22-20-23-24-23-24 1 19 21 16 22z"/>
<path class="c75" d="M3530 1626l-25-6-6-19-8-19-11-19 21 4 12 20 10 20z"/>
<path class="c70" d="M3381 1351l24 11-17 30-15-6 6-23z"/>
<path class="c66" d="M3521 1487l1 5-38-16-83-30 0-1 42 13 41 14z"/>
<path class="c66" d="M3490 1448l9 8-68-13-36-6-2-1 67 8z"/>
<path class="c61" d="M3408 1408l11 5 41-17 20-9-23-8-33 20z"/>
<path class="c67" d="M2925 1577l20 19 19 25 26 27 31 29-17-19-32-29-27-27z"/>
<path class="c66" d="M3520 1482l1 5-37-15-83-27 0-1 41 11 40 13z"/>
<path class="c66" d="M3499 1456l7 7-71-17-38-7-2-2 71 12z"/>
<path class="c66" d="M3517 1476l3 6-38-14-81-24-1-2 80 22z"/>
<path class="c66" d="M3506 1463l6 6-74-20-39-8-2-2 75 15z"/>
<path class="c70" d="M3538 1572l-18-2-17-20-20-20-22-20 12 0 24 21 22 20z"/>
<path class="c66" d="M3512 1469l5 7-76-23-41-11-1-1 77 18z"/>
<path class="c60" d="M3604 1514l-11 4 69 17 31 6 16-7-67-12z"/>
<path class="c54" d="M3336 1189l-21-17-6 14-7 29 27 15 4-28z"/>
<path class="c72" d="M3280 1293l-38-2-14-23-6-10 45-1 8 24z"/>
<path class="c61" d="M3490 1474l-3 2 86 23 41 9 6-5-85-18z"/>
<path class="c68" d="M2869 1378l-8 19 2 14 9 15 15 17 9-24-15-15-9-14z"/>
<path class="c46" d="M3373 1094l7-12-35 23-16 12 10 14 21-25z"/>
<path class="c62" d="M3819 1455l4 15 18-9 12-11 6-13-2-12-2-7-7 14-12 12z"/>
<path class="c61" d="M3419 1413l12 4 48-14 23-8-22-8-40 18z"/>
<path class="c74" d="M3099 1268l-37 6-14-8-2-2 39-11 2 4 4 5z"/>
<path class="c64" d="M3732 1516l-10 10 30 2 26 0 21-2 5-4 7-9-22 3-26 1z"/>
<path class="c56" d="M3737 1315l30 15 0-19-4-20-9-22-29-16 9 22 4 20z"/>
<path class="c61" d="M3493 1471l-3 3 45 11 85 18 2-2 3-5-87-15z"/>
<path class="c63" d="M3357 1432l-13-133-26-3-6-38 30 2 15-160 0 332z"/>
<path class="c60" d="M3383 1359l25 6 21-38-35-7-7 26z"/>
<path class="c61" d="M3431 1417l10 5 55-11 27-8-21-8-47 16z"/>
<path class="c63" d="M3357 1432l10-165 20 12-1 37-19-10-10 126z"/>
<path class="c60" d="M3614 1508l-10 6 73 15 32 5 13-8-70-10z"/>
<path class="c70" d="M3405 1362l24 11-26 25-15-6 12-20z"/>
<path class="c61" d="M3494 1467l-1 4 45 10 87 15 2-4 0-3-88-13z"/>
<path class="c73" d="M3349 1798l1-5 30-9 26-11 24-11 12 8-28 11-31 9z"/>
<path class="c72" d="M3318 1296l-38-3-13-36 45 1 4 26z"/>
<path class="c52" d="M3581 1207l40 9-9-21-13-22-17-23-34-6 14 22 11 21z"/>
<path class="c63" d="M3357 1432l-3-271-6-13-12 41 14 12 7 231z"/>
<path class="c61" d="M3441 1422l10 5 62-9 29-6-19-9-54 14z"/>
<path class="c62" d="M3810 1439l9 16 17-11 12-12 7-14-6-12-3-6-7 15-12 13z"/>
<path class="c70" d="M3555 1573l-17-1-19-21-22-20-24-21 10 0 27 21 24 21z"/>
<path class="c74" d="M3138 1263l-39 5-12-11-2-4 42-10 1 6 4 6z"/>
<path class="c61" d="M3494 1463l0 4 45 9 88 13 0-5 0-2-88-11z"/>
<path class="c68" d="M2883 1359l-14 19 3 12 9 14 15 15 12-24-14-14-9-12z"/>
<path class="c64" d="M3739 1506l-7 10 31 1 26-1 22-3 3-5 5-9-22 5-27 2z"/>
<path class="c60" d="M3408 1365l25 7 22-24 10-13-36-8-13 26z"/>
<path class="c71" d="M3211 1812l18 2 43-4 40-5 37-7-1 3-42 5-46 4z"/>
<path class="c61" d="M3451 1427l9 5 68-6 32-5-18-9-60 11z"/>
<path class="c56" d="M3704 1300l33 15 1-20-4-20-9-22-31-14 8 22 3 20z"/>
<path class="c61" d="M3492 1459l2 4 45 8 88 11-2-5-1-3-87-8z"/>
<path class="c78" d="M3532 1681l-25-7 2-18-1-18-3-18 25 6 4 19 1 19z"/>
<path class="c60" d="M3620 1503l-6 5 38 8 70 10 4-3 6-7-72-7z"/>
<path class="c61" d="M3460 1432l8 4 73-3 35-3-16-9-66 8z"/>
<path class="c67" d="M2908 1557l37 45 27 27 32 29-13-21-34-29-28-26z"/>
<path class="c75" d="M3554 1631l-24-5-7-19-10-20-12-20 19 3 15 21 11 20z"/>
<path class="c61" d="M3490 1455l2 4 45 7 87 8-1-3-4-5-85-6z"/>
<path class="c61" d="M3468 1436l7 5 78 0 37-2-14-9-71 6z"/>
<path class="c48" d="M3348 1148l-9-17-17 27-7 14 21 17 7-28z"/>
<path class="c69" d="M3063 1708l25 11 31 29 35 29 40 30-15-9-44-31-38-30z"/>
<path class="c61" d="M3486 1451l4 4 44 5 85 6-2-3-5-6-83-3z"/>
<path class="c61" d="M3475 1441l6 5 82 3 39-1-12-9-76 3z"/>
<path class="c61" d="M3481 1446l5 5 43 3 83 3-3-3-7-6-80 0z"/>
<path class="c62" d="M3797 1423l13 16 17-11 12-13 7-15-9-12-5-6-6 15-12 14z"/>
<path class="c74" d="M3179 1259l-41 4-10-14-1-6 43-8 1 8 3 8z"/>
<path class="c70" d="M3429 1373l23 12-34 20-15-7 18-16z"/>
<path class="c60" d="M3433 1372l24 7 29-22 13-13-34-9-21 25z"/>
<path class="c64" d="M3742 1496l-3 10 31 0 27-2 22-5 2-5 2-9-22 5-28 4z"/>
<path class="c47" d="M3475 1140l37 1-14-21-16-22-19-21-25 4 27 40z"/>
<path class="c70" d="M3570 1572l-15 1-21-21-24-21-27-21 10 0 28 20 26 21z"/>
<path class="c56" d="M3668 1287l36 13 1-19-3-20-8-22-35-12 7 21 3 20z"/>
<path class="c68" d="M2900 1341l-17 18 2 10 9 12 14 14 17-24-14-11-8-11z"/>
<path class="c60" d="M3625 1496l-5 7 40 6 72 7 3-3 4-7-35-1-38-3z"/>
<path class="c63" d="M3357 1432l9-204 16 14 5 37-20-12-10 165z"/>
<path class="c52" d="M3539 1200l42 7-8-20-11-21-14-22-36-3 12 20 9 20z"/>
<path class="c76" d="M3442 1770l-12-8 20-12 18-14 14-14 21 8-17 14-20 14z"/>
<path class="c63" d="M3357 1432l3-312 5-11-17 39 6 13 3 271z"/>
<path class="c77" d="M3503 1730l-21-8 11-16 9-16 5-16 25 7-6 17-9 17z"/>
<path class="c62" d="M3781 1408l16 15 17-12 12-14 6-15-11-12-7-6-6 16-11 15z"/>
<path class="c74" d="M3222 1258l-43 1-8-16-1-8 45-6 4 18z"/>
<path class="c64" d="M3394 1320l35 7 12-27 4-14-44-6-4 27z"/>
<path class="c60" d="M3457 1379l23 8 36-21 16-12-33-10-27 24z"/>
<path class="c60" d="M3627 1489l-2 7 41 6 38 3 35 1 1-3 2-7-35 0-39-3z"/>
<path class="c64" d="M3741 1485l1 11 31-2 28-4 22-5 1-10-1-5-23 7-27 5z"/>
<path class="c75" d="M3386 1316l29 15-2 10-8 21-24-11 4-24z"/>
<path class="c45" d="M3412 1089l26-8-16-20-42 21-7 12 28-23z"/>
<path class="c56" d="M3629 1274l39 13 1-19-3-20-7-21-12-4-26-7 6 20 3 20z"/>
<path class="c70" d="M3452 1385l22 13-42 14-14-7 24-13z"/>
<path class="c68" d="M2922 1323l-22 18 3 8 8 11 14 11 21-23-14-10-7-8z"/>
<path class="c62" d="M3760 1393l21 15 16-13 11-15 6-16-14-12-7-5-6 17-11 15z"/>
<path class="c74" d="M3267 1257l-45 1-6-20-1-9 47-5 2 22z"/>
<path class="c70" d="M3583 1570l-13 2-23-21-26-21-28-20 8-2 30 21 28 20z"/>
<path class="c60" d="M3480 1387l22 8 43-20 19-11-32-10-33 23z"/>
<path class="c64" d="M3429 1327l36 8 16-27 7-14-43-8-10 28z"/>
<path class="c67" d="M2896 1536l12 21 21 25 28 26 34 29-11-24-35-27-28-26z"/>
<path class="c60" d="M3627 1482l0 7 41 4 39 3 35 0 0-8-1-3-35 1-38-1z"/>
<path class="c64" d="M3738 1473l3 12 32-3 27-5 23-7-2-10-2-5-23 8-27 6z"/>
<path class="c75" d="M3576 1633l-22-2-8-20-11-20-15-21 18 2 16 21 13 20z"/>
<path class="c56" d="M3588 1264l41 10 1-18-3-20-6-20-40-9 5 20 2 19z"/>
<path class="c74" d="M3312 1258l-45-1-4-22-1-11 48-2 1 24z"/>
<path class="c62" d="M3736 1378l24 15 16-14 11-15 6-17-17-11-9-6-6 18-10 15z"/>
<path class="c60" d="M3502 1395l21 8 49-17 22-11-30-11-19 11-21 11z"/>
<path class="c52" d="M3495 1196l44 4-6-19-9-20-12-20-37-1 9 19 6 19z"/>
<path class="c60" d="M3624 1474l3 8 41 3 38 1 35-1-2-8-1-4-35 2-38 0z"/>
<path class="c64" d="M3465 1335l34 9 12-13 10-14 9-14-42-9-14 28z"/>
<path class="c70" d="M3474 1398l21 13-50 8-13-7 30-9z"/>
<path class="c46" d="M3365 1109l8-15-24 24-10 13 9 17 11-26z"/>
<path class="c68" d="M2948 1307l-26 16 3 7 7 8 14 10 24-22-12-8-8-6z"/>
<path class="c63" d="M3357 1432l5-244 10 15 10 39-16-14-9 204z"/>
<path class="c64" d="M3731 1461l7 12 31-4 27-6 23-8-6-11-3-5-22 9-27 7z"/>
<path class="c60" d="M3523 1403l19 9 28-7 27-9 24-9-27-12-22 11-24 9z"/>
<path class="c78" d="M3556 1687l-24-6 3-17-1-19-4-19 24 5 4 19 1 19z"/>
<path class="c62" d="M3709 1363l27 15 15-15 10-15 6-18-20-10-10-5-5 17-10 16z"/>
<path class="c70" d="M3594 1567l-11 3-24-21-28-20-30-21 7-2 32 20 28 20z"/>
<path class="c60" d="M3619 1466l5 8 41 1 38 0 35-2-5-8-2-4-35 3-37 2z"/>
<path class="c62" d="M3401 1280l44 6 6-30 2-15-48-4-2 29z"/>
<path class="c56" d="M3544 1255l44 9 0-18-2-19-5-20-42-7 4 19 2 18z"/>
<path class="c60" d="M3542 1412l18 9 31-6 29-7 27-9-9-4-17-8-24 9-27 9z"/>
<path class="c64" d="M3499 1344l33 10 15-13 12-14 11-14-40-10-9 14-10 14z"/>
<path class="c60" d="M3612 1457l7 9 40 0 37-2 35-3-7-8-4-5-33 5-37 3z"/>
<path class="c62" d="M3678 1349l31 14 13-15 10-16 5-17-10-5-23-10-5 18-8 16z"/>
<path class="c47" d="M3437 1142l38-2-23-39-14-20-26 8 18 35z"/>
<path class="c62" d="M3445 1286l43 8 5-15 4-16 2-16-46-6-4 30z"/>
<path class="c64" d="M3720 1448l11 13 30-6 27-7 22-9-8-10-5-6-21 11-26 8z"/>
<path class="c69" d="M3041 1693l22 15 34 29 38 30 44 31-14-12-47-32-41-31z"/>
<path class="c60" d="M3560 1421l16 9 33-5 32-6 28-8-7-4-15-8-27 9-29 7z"/>
<path class="c73" d="M3348 1801l1-3 34-8 31-9 28-11 12 5-32 10-35 8z"/>
<path class="c60" d="M3602 1448l10 9 38-1 37-3 33-5-9-8-5-4-32 6-35 4z"/>
<path class="c60" d="M3576 1430l14 9 35-4 34-5 30-7-6-4-14-8-28 8-32 6z"/>
<path class="c68" d="M2977 1291l-29 16 2 5 8 6 12 8 28-22-18-10z"/>
<path class="c75" d="M3415 1331l29 17-4 8-11 17-24-11 8-21z"/>
<path class="c60" d="M3590 1439l12 9 37-2 35-4 32-6-5-4-12-9-30 7-34 5z"/>
<path class="c62" d="M3645 1336l33 13 13-15 8-16 5-18-11-5-25-8-4 17-8 17z"/>
<path class="c56" d="M3499 1247l45 8 1-18-2-18-4-19-44-4 3 17 2 17z"/>
<path class="c62" d="M3488 1294l42 9 7-16 4-16 3-16-45-8-2 16-4 16z"/>
<path class="c70" d="M3495 1411l20 13-57 2-13-7 36-5z"/>
<path class="c64" d="M3532 1354l32 10 17-12 15-13 12-15-38-11-11 14-12 14z"/>
<path class="c62" d="M3608 1324l37 12 11-15 8-17 4-17-13-5-26-8-4 18-7 17z"/>
<path class="c71" d="M3194 1807l17 5 49-2 46-4 42-5-1-1-47 4-51 2z"/>
<path class="c62" d="M3530 1303l40 10 8-16 6-16 4-17-44-9-3 16-4 16z"/>
<path class="c64" d="M3706 1436l14 12 30-6 26-8 21-11-10-10-6-5-21 11-25 9z"/>
<path class="c62" d="M3570 1313l38 11 10-15 7-17 4-18-41-10-4 17-6 16z"/>
<path class="c67" d="M2887 1514l9 22 21 24 28 26 35 27-7-24-35-27-29-25z"/>
<path class="c70" d="M3602 1562l-8 5-26-21-28-20-32-20 5-2 33 19 30 20z"/>
<path class="c63" d="M3357 1432l15-156 29 4 4-43-32-2-16-135z"/>
<path class="c52" d="M3450 1193l45 3-5-18-6-19-9-19-38 2 10 34z"/>
<path class="c64" d="M3564 1364l30 11 19-12 17-12 15-15-37-12-12 15-15 13z"/>
<path class="c56" d="M3453 1241l46 6 1-17-2-17-3-17-45-3 3 32z"/>
<path class="c64" d="M3689 1423l17 13 29-8 25-9 21-11-13-10-8-5-19 12-24 10z"/>
<path class="c71" d="M3357 1100l10 8 18-9-6-15-14 25-5 11-3 312z"/>
<path class="c75" d="M3596 1634l-20-1-9-20-13-20-16-21 17 1 17 21 14 20z"/>
<path class="c64" d="M3594 1375l27 12 22-11 19-13 16-14-11-4-22-9-15 15-17 12z"/>
<path class="c68" d="M3010 1277l-33 14 3 3 6 4 12 6 31-20-17-6z"/>
<path class="c64" d="M3669 1411l20 12 28-8 24-10 19-12-7-5-17-10-18 12-23 11z"/>
<path class="c56" d="M3405 1237l48 4 0-16-3-32-46 0 1 29z"/>
<path class="c64" d="M3621 1387l26 12 24-11 20-11 18-14-10-4-21-10-16 14-19 13z"/>
<path class="c64" d="M3647 1399l22 12 26-10 23-11 18-12-9-5-18-10-18 14-20 11z"/>
<path class="c63" d="M3357 1432l0-285-1 15 16 41-10-15-5 244z"/>
<path class="c70" d="M3515 1424l19 14-64-4-12-8 40-1z"/>
<path class="c77" d="M3523 1736l-20-6 14-15 9-17 6-17 24 6-7 17-10 17z"/>
<path class="c70" d="M3609 1557l-7 5-26-19-30-20-33-19 5-4 34 19 30 19z"/>
<path class="c68" d="M3046 1264l-36 13 19 7 35-20-16-1z"/>
<path class="c76" d="M3454 1775l-12-5 24-12 20-14 17-14 20 6-19 14-23 13z"/>
<path class="c78" d="M3387 1279l29 20 1 11-2 21-29-15 1-24z"/>
<path class="c70" d="M3534 1438l17 13-70-10-11-7 45 2z"/>
<path class="c45" d="M3385 1099l27-10-11-18-28 23-8 15 14-25z"/>
<path class="c52" d="M3404 1193l46 0-8-34-5-17-40 5 5 30z"/>
<path class="c68" d="M3085 1253l-39 11 2-1 16 1 37-17-9 1-5 2z"/>
<path class="c70" d="M3614 1550l-5 7-27-19-30-19-34-19 2-3 35 17 31 18z"/>
<path class="c75" d="M3444 1348l28 17-5 7-15 13-23-12 11-17z"/>
<path class="c67" d="M2883 1491l4 23 22 23 29 25 35 27-3-27-36-25-29-24z"/>
<path class="c78" d="M3579 1690l-23-3 3-18-1-19-4-19 22 2 5 20 1 19z"/>
<path class="c71" d="M3357 1100l-15 160-30-2-2-36 32-1 15-121z"/>
<path class="c68" d="M3127 1243l-42 10 2-3 5-2 9-1 39-16-8 3-4 4z"/>
<path class="c70" d="M3551 1451l15 13-76-16-9-7 49 7z"/>
<path class="c47" d="M3397 1147l40-5-16-35-9-18-27 10 9 32z"/>
<path class="c68" d="M3310 1222l-48 2 3-20 3-10 44-7-2 23z"/>
<path class="c68" d="M3170 1235l-43 8 1-5 4-4 35-13 14-4-6 5-4 6z"/>
<path class="c70" d="M3616 1542l-2 8-28-18-31-18-35-17 2-5 35 16 31 17z"/>
<path class="c68" d="M3262 1224l-47 5 1-9 3-8 5-7 44-11-5 20z"/>
<path class="c68" d="M3215 1229l-45 6 1-7 4-6 6-5 43-12-5 7-3 8z"/>
<path class="c75" d="M3614 1633l-18 1-10-20-14-20-17-21 15-1 19 21 15 20z"/>
<path class="c70" d="M3566 1464l14 13-51-14-30-7-9-8 54 11z"/>
<path class="c69" d="M3021 1677l56 46 41 31 47 32-12-16-50-32-44-31z"/>
<path class="c70" d="M3615 1533l1 9-28-17-31-17-35-16-1-5 35 15 32 16z"/>
<path class="c70" d="M3580 1477l11 12-53-18-32-8-7-7 57 14z"/>
<path class="c70" d="M3613 1523l2 10-27-15-32-16-35-15-1-5 65 27z"/>
<path class="c71" d="M3357 1100l16 135 32 2-1-44-31 0-16-93z"/>
<path class="c70" d="M3591 1489l10 12-56-21-33-11-6-6 60 17z"/>
<path class="c70" d="M3608 1513l5 10-28-14-65-27-3-6 64 24z"/>
<path class="c70" d="M3601 1501l7 12-27-13-64-24-5-7 63 21z"/>
<path class="c67" d="M2883 1467l0 24 22 22 29 24 36 25-1-27-35-24-29-23z"/>
<path class="c75" d="M3472 1365l27 18-6 6-19 9-22-13 15-13z"/>
<path class="c73" d="M3347 1800l1 1 39-8 35-8 32-10 11 1-35 10-40 7z"/>
<path class="c71" d="M3357 1100l-21 19 20 43 1-15 0 285z"/>
<path class="c71" d="M3179 1798l15 9 55-1 51-2 47-4-1-5-52 3-56 1z"/>
<path class="c71" d="M3357 1100l-15 121-32 1 2-35 30-4 15-83z"/>
<path class="c78" d="M3416 1299l29 21 1 10 0 9-2 9-29-17 2-21z"/>
<path class="c75" d="M3630 1631l-16 2-10-20-15-20-19-21 13-2 20 21 16 20z"/>
<path class="c71" d="M3357 1100l16 93 31 0-7-46-26 4-14-51z"/>
<path class="c77" d="M3542 1739l-19-3 16-15 10-17 7-17 23 3-8 18-12 16z"/>
<path class="c77" d="M3382 1242l25 23 4 11 5 23-29-20-3-24z"/>
<path class="c78" d="M3599 1691l-20-1 3-18-1-19-5-20 20 1 6 20 1 19z"/>
<path class="c67" d="M2887 1443l-4 24 22 21 29 23 35 24 4-29-36-23-28-20z"/>
<path class="c76" d="M3465 1776l-11-1 27-12 23-13 19-14 19 3-21 14-26 12z"/>
<path class="c71" d="M3357 1100l14 51 26-4-12-48-18 9-10-8z"/>
<path class="c75" d="M3499 1383l25 19-7 3-22 6-21-13 19-9z"/>
<path class="c69" d="M3004 1658l17 19 38 30 44 31 50 32-11-18-52-33-46-31z"/>
<path class="c75" d="M3644 1626l-14 5-11-20-16-20-20-21 11-3 21 20 17 20z"/>
<path class="c71" d="M3357 1100l-15 83-30 4 9-35 24-8 12-44z"/>
<path class="c67" d="M3312 1187l-44 7 10-18 7-9 12-5 24-10-6 23z"/>
<path class="c67" d="M2896 1419l-9 24 22 20 28 20 36 23 7-29-35-21-28-19z"/>
<path class="c78" d="M3445 1320l28 22 2 8-1 8-2 7-28-17 2-9 0-9z"/>
<path class="c75" d="M3524 1402l25 19-34 3-20-13 22-6z"/>
<path class="c78" d="M3618 1690l-19 1 4-18-1-19-6-20 18-1 6 20 2 19z"/>
<path class="c75" d="M3654 1620l-10 6-12-19-17-20-21-20 8-5 22 20 18 19z"/>
<path class="c67" d="M3268 1194l-44 11 6-8 19-13 36-17-13 18z"/>
<path class="c67" d="M2908 1395l-12 24 21 18 28 19 35 21 10-30-34-19-27-17z"/>
<path class="c76" d="M3372 1203l22 37 13 25-25-23-6-26z"/>
<path class="c71" d="M3165 1786l14 12 59 1 56-1 52-3-1-8-56 2-60 0z"/>
<path class="c77" d="M3560 1739l-18 0 17-15 12-16 8-18 20 1-8 17-13 16z"/>
<path class="c73" d="M3346 1795l1 5 43-7 40-7 35-10 10-1-39 8-43 7z"/>
<path class="c77" d="M3407 1265l24 24 11 21 3 10-29-21-5-23z"/>
<path class="c75" d="M3549 1421l22 19-37-2-19-14 26-2z"/>
<path class="c69" d="M2991 1637l13 21 40 30 46 31 52 33-8-22-55-33-47-31z"/>
<path class="c67" d="M3224 1205l-43 12 8-5 25-9 35-19-19 13z"/>
<path class="c67" d="M2925 1371l-17 24 21 16 27 17 34 19 14-30-33-17-26-15z"/>
<path class="c71" d="M3357 1100l-12 44-24 8 15-33 21-19z"/>
<path class="c75" d="M3663 1612l-9 8-12-19-18-19-22-20 7-5 23 18 18 19z"/>
<path class="c76" d="M3475 1775l-10 1 30-11 26-12 21-14 18 0-24 14-28 12z"/>
<path class="c78" d="M3473 1342l28 23 2 7-1 6-3 5-27-18 2-7 1-8z"/>
<path class="c67" d="M3181 1217l-41 14 10-3 30-3 34-22-25 9z"/>
<path class="c67" d="M2946 1348l-21 23 20 14 26 15 33 17 17-30-56-27z"/>
<path class="c75" d="M3571 1440l21 19-41-8-17-13 28 2z"/>
<path class="c78" d="M3634 1686l-16 4 4-18-2-19-6-20 16-2 7 19 1 19z"/>
<path class="c67" d="M3140 1231l-39 16 47 1 32-23-30 3z"/>
<path class="c67" d="M2970 1326l-24 22 19 12 25 13 31 14 20-30-53-22z"/>
<path class="c75" d="M3668 1602l-5 10-13-18-18-19-23-18 5-7 23 18 18 17z"/>
<path class="c73" d="M3356 1162l-1 24 31 41-14-24-10-27z"/>
<path class="c67" d="M3101 1247l-37 17 54 10 30-26-35-1z"/>
<path class="c67" d="M2998 1304l-28 22 42 19 29 12 23-29-49-17z"/>
<path class="c67" d="M3064 1264l-35 20 61 16 28-26-41-7z"/>
<path class="c67" d="M3029 1284l-31 20 66 24 26-28-45-12z"/>
<path class="c75" d="M3592 1459l19 19-26-9-19-5-15-13 31 6z"/>
<path class="c69" d="M3321 1152l-36 15 8-9 21-17 22-22-11 22z"/>
<path class="c75" d="M3671 1591l-3 11-13-17-18-17-23-18 2-8 23 17 18 16z"/>
<path class="c77" d="M3575 1737l-15 2 18-15 13-16 8-17 19-1-9 17-14 15z"/>
<path class="c69" d="M2980 1613l11 24 41 29 47 31 55 33-7-25-56-32-49-30z"/>
<path class="c77" d="M3431 1289l32 36 6 9 4 8-28-22-8-20z"/>
<path class="c76" d="M3386 1227l14 27 22 24 9 11-24-24-13-25z"/>
<path class="c75" d="M3611 1478l16 19-27-13-20-7-14-13 34 10z"/>
<path class="c71" d="M3153 1770l12 16 64 3 60 0 56-2-1-11-59 1-64-2z"/>
<path class="c78" d="M3501 1365l26 24 2 5-1 4-4 4-25-19 3-5 1-6z"/>
<path class="c75" d="M3671 1578l0 13-14-16-18-16-23-17-1-9 24 15 18 15z"/>
<path class="c73" d="M3345 1787l1 8 47-5 43-7 39-8 9-5-41 8-47 6z"/>
<path class="c75" d="M3627 1497l14 18-12-8-38-18-11-12 36 14z"/>
<path class="c78" d="M3648 1680l-14 6 4-17-1-19-7-19 14-5 7 19 1 18z"/>
<path class="c75" d="M3667 1564l4 14-14-15-18-15-24-15-2-10 23 14 18 14z"/>
<path class="c71" d="M3336 1119l-22 22 41 45 1-24-13-28z"/>
<path class="c75" d="M3641 1515l12 17-13-10-17-10-22-11-10-12 38 18z"/>
<path class="c75" d="M3662 1549l5 15-13-13-18-14-23-14-5-10 23 12 18 12z"/>
<path class="c75" d="M3653 1532l9 17-13-12-18-12-23-12-7-12 22 11 17 10z"/>
<path class="c76" d="M3484 1770l-9 5 33-10 28-12 24-14 15-2-25 13-30 11z"/>
<path class="c69" d="M3285 1167l-36 17 12-6 31-12 22-25-21 17z"/>
<path class="c69" d="M2973 1589l7 24 42 30 49 30 56 32-4-27-57-31-50-30z"/>
<path class="c78" d="M3527 1389l28 28-2 2-4 2-25-19 4-4 1-4z"/>
<path class="c73" d="M3355 1186l-2 27 47 41-14-27-20-27z"/>
<path class="c77" d="M3589 1731l-14 6 20-15 14-15 9-17 16-4-9 17-15 15z"/>
<path class="c77" d="M3455 1315l23 27 18 16 5 7-28-23-4-8-6-9z"/>
<path class="c78" d="M3659 1672l-11 8 4-17-1-18-7-19 10-6 8 18 1 17z"/>
<path class="c76" d="M3400 1254l14 28 29 23 12 10-24-26-19-23z"/>
<path class="c71" d="M3142 1752l11 18 68 5 64 2 59-1 0-14-63-1-67-4z"/>
<path class="c73" d="M3344 1776l1 11 51-3 47-6 41-8 8-7-44 6-49 5z"/>
<path class="c69" d="M3249 1184l-35 19 57-9 21-28-31 12z"/>
<path class="c78" d="M3552 1414l23 24 3 2-7 0-22-19 4-2 2-2z"/>
<path class="c71" d="M3314 1141l-22 25 61 47 2-27-27-29z"/>
<path class="c69" d="M2970 1562l3 27 43 28 50 30 57 31-2-30-58-30-50-29z"/>
<path class="c78" d="M3668 1661l-9 11 4-17-1-17-8-18 9-8 7 17 2 17z"/>
<path class="c76" d="M3492 1763l-8 7 36-9 30-11 25-13 14-6-27 13-32 10z"/>
<path class="c77" d="M3601 1723l-8 6 17-11 15-15 9-17 14-6-10 16-15 14z"/>
<path class="c77" d="M3478 1342l22 28 21 14 6 5-26-24-5-7-8-8z"/>
<path class="c78" d="M3575 1438l21 25 4 0-8-4-21-19 7 0z"/>
<path class="c73" d="M3353 1213l-1 29 62 40-14-28-29-27z"/>
<path class="c69" d="M3214 1203l-34 22 70-1 21-30-41 6z"/>
<path class="c78" d="M3674 1648l-6 13 4-15-2-17-7-17 5-10 8 16 2 16z"/>
<path class="c69" d="M2969 1535l1 27 43 27 50 29 58 30 0-32-58-28-51-28z"/>
<path class="c76" d="M3414 1282l13 30 37 21 14 9-23-27-25-21z"/>
<path class="c71" d="M3134 1730l8 22 72 5 67 4 63 1-1-17-65-3-70-5z"/>
<path class="c78" d="M3596 1463l20 24 3-2-2-3-6-4-19-19 8 4z"/>
<path class="c73" d="M3344 1762l0 14 55-2 49-5 44-6 7-11-46 5-52 4z"/>
<path class="c71" d="M3292 1166l-21 28 81 48 1-29-39-30z"/>
<path class="c78" d="M3676 1634l-2 14 4-14-2-16-8-16 3-11 8 15 2 14z"/>
<path class="c69" d="M3180 1225l-32 23 82 8 20-32-50 0z"/>
<path class="c76" d="M3499 1752l-7 11 38-9 32-10 27-13 12-8-28 12-34 9z"/>
<path class="c77" d="M3610 1713l-9 10 22-13 15-14 10-16 11-8-10 15-16 13z"/>
<path class="c69" d="M2973 1506l-4 29 43 25 51 28 58 28 2-33-58-27-50-26z"/>
<path class="c77" d="M3500 1370l20 29 25 11 7 4-31-30-9-7z"/>
<path class="c78" d="M3616 1487l16 24 4-3-2-5-7-6-16-19 6 4 2 3z"/>
<path class="c78" d="M3676 1617l0 17 5-14-2-14-8-15 0-13 7 14 2 13z"/>
<path class="c78" d="M3632 1511l15 24 3-6-1-7-22-25 7 6 2 5z"/>
<path class="c78" d="M3673 1598l3 19 4-12-2-13-7-14-4-14 8 12 2 12z"/>
<path class="c69" d="M3148 1248l-30 26 94 16 18-34-58-5z"/>
<path class="c73" d="M3352 1242l-1 31 76 39-13-30-39-26z"/>
<path class="c69" d="M2980 1477l-7 29 42 24 50 26 58 27 4-35-56-25-49-24z"/>
<path class="c78" d="M3647 1535l11 22 4-7-2-8-19-27 8 7 1 7z"/>
<path class="c78" d="M3667 1579l6 19 4-10-2-12-8-12-5-15 7 11 2 10z"/>
<path class="c76" d="M3427 1312l13 31 60 27-22-28-31-19z"/>
<path class="c78" d="M3658 1557l9 22 4-9-2-10-7-11-9-17 7 10 2 8z"/>
<path class="c71" d="M3127 1705l7 25 74 7 70 5 65 3 0-21-67-4-72-6z"/>
<path class="c77" d="M3617 1699l-7 14 23-13 16-13 19-26-11 14-16 13z"/>
<path class="c77" d="M3520 1399l20 29 35 10-23-24-17-9z"/>
<path class="c71" d="M3271 1194l-21 30 101 49 1-31-52-31z"/>
<path class="c69" d="M3118 1274l-28 26 105 26 17-36-67-11z"/>
<path class="c69" d="M2990 1447l-10 30 42 22 49 24 56 25 6-37-54-22-48-22z"/>
<path class="c73" d="M3343 1745l1 17 57-1 52-4 46-5 5-14-48 5-53 2z"/>
<path class="c76" d="M3504 1738l-5 14 40-8 34-9 28-12 9-10-29 10-35 9z"/>
<path class="c69" d="M3090 1300l-26 28 115 34 16-36-75-18z"/>
<path class="c69" d="M3004 1417l-14 30 41 20 48 22 54 22 9-37-99-39z"/>
<path class="c69" d="M3064 1328l-23 29 77 27 47 15 14-37-82-23z"/>
<path class="c69" d="M3021 1387l-17 30 85 37 53 20 10-37-94-35z"/>
<path class="c69" d="M3041 1357l-20 30 81 32 50 18 13-38-89-29z"/>
<path class="c77" d="M3622 1683l-5 16 24-11 16-13 11-14 6-13-11 13-17 12z"/>
<path class="c77" d="M3540 1428l18 30 38 5-21-25-19-5z"/>
<path class="c73" d="M3351 1273l-2 32 91 38-13-31-48-25z"/>
<path class="c71" d="M3123 1678l4 27 77 9 72 6 67 4-1-23-68-5-73-8z"/>
<path class="c76" d="M3440 1343l12 32 68 24-20-29-36-17z"/>
<path class="c71" d="M3250 1224l-20 32 119 49 2-32-65-32z"/>
<path class="c76" d="M3508 1721l-4 17 42-6 35-9 29-10 7-14-29 10-37 7z"/>
<path class="c73" d="M3343 1724l0 21 60 0 53-2 48-5 4-17-49 4-55 1z"/>
<path class="c77" d="M3625 1665l-3 18 24-10 17-12 11-13 2-14-10 12-17 10z"/>
<path class="c77" d="M3558 1458l16 29 19 1 23-1-20-24-20-2z"/>
<path class="c71" d="M3121 1648l2 30 78 10 73 8 68 5 0-26-69-6-74-9z"/>
<path class="c76" d="M3452 1375l12 33 76 20-20-29-41-15z"/>
<path class="c73" d="M3349 1305l-1 34 104 36-12-32-57-24z"/>
<path class="c77" d="M3625 1644l0 21 24-9 17-10 10-12 0-17-10 11-17 9z"/>
<path class="c77" d="M3574 1487l14 29 21 0 14-2 9-3-16-24-23 1z"/>
<path class="c71" d="M3230 1256l-18 34 136 49 1-34-76-31z"/>
<path class="c76" d="M3511 1702l-3 19 43-5 37-7 29-10 5-16-30 8-37 7z"/>
<path class="c73" d="M3342 1701l1 23 61 2 55-1 49-4 3-19-50 2-56 0z"/>
<path class="c77" d="M3622 1622l3 22 24-7 17-9 10-11-3-19-10 10-17 8z"/>
<path class="c77" d="M3588 1516l12 28 22-1 15-4 10-4-15-24-9 3-14 2z"/>
<path class="c77" d="M3617 1597l5 25 24-6 17-8 10-10-6-19-10 7-17 7z"/>
<path class="c77" d="M3600 1544l10 27 22-3 16-5 10-6-11-22-10 4-15 4z"/>
<path class="c77" d="M3610 1571l7 26 23-4 17-7 10-7-9-22-10 6-16 5z"/>
<path class="c71" d="M3121 1616l0 32 78 12 74 9 69 6 0-28-69-8-74-10z"/>
<path class="c76" d="M3464 1408l10 33 84 17-18-30-46-12z"/>
<path class="c71" d="M3212 1290l-17 36 152 48 1-35-87-31z"/>
<path class="c73" d="M3348 1339l-1 35 117 34-12-33-65-23z"/>
<path class="c76" d="M3513 1680l-2 22 44-4 37-7 30-8 3-18-31 7-37 5z"/>
<path class="c73" d="M3342 1675l0 26 63 3 56 0 50-2 2-22-51 1-57-2z"/>
<path class="c71" d="M3123 1583l-2 33 78 13 74 10 69 8 0-30-68-9-73-11z"/>
<path class="c76" d="M3474 1441l9 33 36 6 55 7-16-29-51-10z"/>
<path class="c71" d="M3195 1326l-16 36 167 47 1-35-98-31z"/>
<path class="c76" d="M3513 1656l0 24 44-3 37-5 31-7 0-21-31 6-37 4z"/>
<path class="c73" d="M3347 1374l-1 35 128 32-10-33-74-21z"/>
<path class="c71" d="M3127 1548l-4 35 78 14 73 11 68 9 1-32-139-23z"/>
<path class="c73" d="M3342 1647l0 28 63 4 57 2 51-1 0-24-51-1-57-3z"/>
<path class="c76" d="M3483 1474l9 33 37 5 59 4-14-29-55-7z"/>
<path class="c71" d="M3179 1362l-14 37 64 18 116 28 1-36-108-29z"/>
<path class="c76" d="M3511 1629l2 27 44-2 37-4 31-6-3-22-30 4-37 3z"/>
<path class="c71" d="M3133 1511l-6 37 77 14 139 23 0-34-135-24z"/>
<path class="c71" d="M3165 1399l-13 38 69 17 123 27 1-36-116-28z"/>
<path class="c73" d="M3346 1409l-1 36 138 29-9-33-81-19z"/>
<path class="c76" d="M3492 1507l6 32 40 4 62 1-12-28-59-4z"/>
<path class="c76" d="M3508 1601l3 28 44 0 37-3 30-4-5-25-30 3-36 1z"/>
<path class="c71" d="M3142 1474l-9 37 75 16 135 24 1-35-130-25z"/>
<path class="c71" d="M3152 1437l-10 37 72 17 130 25 0-35-123-27z"/>
<path class="c73" d="M3342 1617l0 30 63 5 57 3 51 1-2-27-50-2-56-4z"/>
<path class="c76" d="M3498 1539l6 32 42 2 35 0 29-2-10-27-62-1z"/>
<path class="c76" d="M3504 1571l4 30 43 0 36-1 30-3-7-26-29 2-35 0z"/>
<path class="c73" d="M3345 1445l-1 36 55 11 93 15-9-33-87-17z"/>
<path class="c73" d="M3343 1585l-1 32 63 6 56 4 50 2-3-28-49-4-55-5z"/>
<path class="c73" d="M3344 1481l0 35 57 10 97 13-6-32-93-15z"/>
<path class="c73" d="M3343 1551l0 34 61 7 55 5 49 4-4-30-101-11z"/>
<path class="c73" d="M3344 1516l-1 35 60 9 101 11-6-32-97-13z"/>
<g transform="translate(3263.14 618.76) scale(0.48 -0.48)"><use href="#DejaVuSans-70"/><use href="#DejaVuSans-68" transform="translate(63.48 0)"/><use href="#DejaVuSans-61" transform="translate(126.86 0)"/><use href="#DejaVuSans-73" transform="translate(188.13 0)"/><use href="#DejaVuSans-65" transform="translate(240.23 0)"/></g></svg></body></html>
